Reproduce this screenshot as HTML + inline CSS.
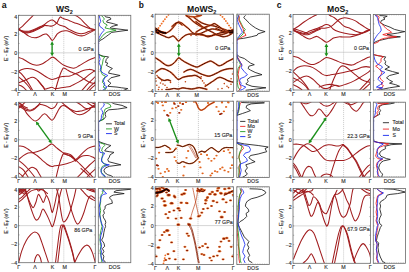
<!DOCTYPE html>
<html><head><meta charset="utf-8"><style>
html,body{margin:0;padding:0;background:#fff;width:409px;height:272px;overflow:hidden}
svg{display:block}
text{font-family:"Liberation Sans", sans-serif}
.t{stroke:#2a2a2a;stroke-width:0.12}
</style></head><body>
<svg xmlns="http://www.w3.org/2000/svg" width="409" height="272" viewBox="0 0 409 272">
<defs><clipPath id="ca0"><rect x="18.4" y="15.3" width="76.90" height="75.10"/></clipPath>
<clipPath id="ca1"><rect x="18.4" y="102.3" width="76.90" height="74.90"/></clipPath>
<clipPath id="ca2"><rect x="18.4" y="188.6" width="76.90" height="74.20"/></clipPath>
<clipPath id="cb0"><rect x="155.1" y="14.2" width="78.40" height="77.10"/></clipPath>
<clipPath id="cb1"><rect x="155.1" y="101.2" width="78.40" height="76.30"/></clipPath>
<clipPath id="cb2"><rect x="155.1" y="186.8" width="78.40" height="77.60"/></clipPath>
<clipPath id="cc0"><rect x="293.0" y="14.5" width="77.20" height="75.50"/></clipPath>
<clipPath id="cc1"><rect x="293.0" y="102.2" width="77.20" height="74.90"/></clipPath>
<clipPath id="cc2"><rect x="293.0" y="188.5" width="77.20" height="74.80"/></clipPath>
<clipPath id="da0"><rect x="98.3" y="15.3" width="32.50" height="75.10"/></clipPath>
<clipPath id="da1"><rect x="98.3" y="102.3" width="32.50" height="74.90"/></clipPath>
<clipPath id="da2"><rect x="98.3" y="188.6" width="32.50" height="74.10"/></clipPath>
<clipPath id="db0"><rect x="236.8" y="14.2" width="32.50" height="77.10"/></clipPath>
<clipPath id="db1"><rect x="236.8" y="101.2" width="32.50" height="76.30"/></clipPath>
<clipPath id="db2"><rect x="236.8" y="186.8" width="32.50" height="77.60"/></clipPath>
<clipPath id="dc0"><rect x="373.2" y="14.5" width="32.30" height="75.50"/></clipPath>
<clipPath id="dc1"><rect x="373.2" y="102.2" width="32.30" height="74.90"/></clipPath>
<clipPath id="dc2"><rect x="373.2" y="188.5" width="32.30" height="74.80"/></clipPath></defs>
<rect width="409" height="272" fill="#fff"/>
<text x="4.15" y="7.8" font-size="8.8" text-anchor="middle" font-weight="bold" fill="#111" >a</text>
<text x="141.2" y="7.7" font-size="8.4" text-anchor="middle" font-weight="bold" fill="#111" >b</text>
<text x="279.15" y="8.1" font-size="8.6" text-anchor="middle" font-weight="bold" fill="#111" >c</text>
<text x="56.0" y="12.0" font-size="8.6" font-weight="bold" fill="#111" text-anchor="start">WS<tspan font-size="5.5" dy="1.8">2</tspan></text>
<text x="187.0" y="12.0" font-size="8.6" font-weight="bold" fill="#111" text-anchor="start">MoWS<tspan font-size="5.5" dy="1.8">2</tspan></text>
<text x="327.0" y="12.0" font-size="8.6" font-weight="bold" fill="#111" text-anchor="start">MoS<tspan font-size="5.5" dy="1.8">2</tspan></text>
<line x1="18.4" y1="52.85" x2="95.3" y2="52.85" stroke="#d6d6d6" stroke-width="1.0"/>
<line x1="52.3" y1="15.3" x2="52.3" y2="90.4" stroke="#b4b4b4" stroke-width="0.8" stroke-dasharray="0.9 1.1"/>
<line x1="63.8" y1="15.3" x2="63.8" y2="90.4" stroke="#b4b4b4" stroke-width="0.8" stroke-dasharray="0.9 1.1"/>
<g clip-path="url(#ca0)"><path d="M18.50,29.30C19.23,28.72 21.32,27.25 22.90,25.80C24.48,24.35 26.48,22.13 28.00,20.60C29.52,19.07 30.92,17.67 32.00,16.60C33.08,15.53 34.08,14.60 34.50,14.20" fill="none" stroke="#a11d1f" stroke-width="1.05" stroke-linecap="round" stroke-linejoin="round"/>
<path d="M18.50,29.30C19.23,29.72 21.18,30.67 22.90,31.80C24.62,32.93 26.85,35.10 28.80,36.10C30.75,37.10 32.88,37.68 34.60,37.80C36.32,37.92 37.62,37.33 39.10,36.80C40.58,36.27 42.28,35.07 43.50,34.60C44.72,34.13 45.42,33.63 46.40,34.00C47.38,34.37 48.42,35.73 49.40,36.80C50.38,37.87 51.33,40.37 52.30,40.40C53.27,40.43 54.32,38.13 55.20,37.00C56.08,35.87 56.50,34.57 57.60,33.60C58.70,32.63 60.33,31.67 61.80,31.20C63.27,30.73 65.03,30.70 66.40,30.80C67.77,30.90 68.23,31.10 70.00,31.80C71.77,32.50 74.85,34.33 77.00,35.00C79.15,35.67 80.93,36.12 82.90,35.80C84.87,35.48 86.73,34.10 88.80,33.10C90.87,32.10 94.22,30.35 95.30,29.80" fill="none" stroke="#a11d1f" stroke-width="1.05" stroke-linecap="round" stroke-linejoin="round"/>
<path d="M18.50,29.30C19.23,29.57 21.18,30.58 22.90,30.90C24.62,31.22 26.85,31.48 28.80,31.20C30.75,30.92 32.65,29.98 34.60,29.20C36.55,28.42 38.90,27.23 40.50,26.50C42.10,25.77 42.97,25.58 44.20,24.80C45.43,24.02 46.55,22.60 47.90,21.80C49.25,21.00 50.83,19.77 52.30,20.00C53.77,20.23 55.42,22.33 56.70,23.20C57.98,24.07 58.70,24.63 60.00,25.20C61.30,25.77 62.92,25.87 64.50,26.60C66.08,27.33 67.42,28.52 69.50,29.60C71.58,30.68 74.77,32.43 77.00,33.10C79.23,33.77 80.93,33.85 82.90,33.60C84.87,33.35 86.73,32.28 88.80,31.60C90.87,30.92 94.22,29.85 95.30,29.50" fill="none" stroke="#a11d1f" stroke-width="1.05" stroke-linecap="round" stroke-linejoin="round"/>
<path d="M18.50,29.30C19.23,29.68 21.18,31.15 22.90,31.60C24.62,32.05 26.85,32.27 28.80,32.00C30.75,31.73 32.65,30.80 34.60,30.00C36.55,29.20 38.90,27.95 40.50,27.20C42.10,26.45 42.92,25.73 44.20,25.50C45.48,25.27 46.85,25.72 48.20,25.80C49.55,25.88 50.88,26.43 52.30,26.00C53.72,25.57 55.62,24.37 56.70,23.20C57.78,22.03 58.18,20.05 58.80,19.00C59.42,17.95 59.87,17.08 60.40,16.90C60.93,16.72 61.32,17.55 62.00,17.90C62.68,18.25 63.32,18.58 64.50,19.00C65.68,19.42 67.68,19.85 69.10,20.40C70.52,20.95 71.68,21.77 73.00,22.30C74.32,22.83 75.10,22.90 77.00,23.60C78.90,24.30 82.07,25.58 84.40,26.50C86.73,27.42 89.18,28.60 91.00,29.10C92.82,29.60 94.58,29.43 95.30,29.50" fill="none" stroke="#a11d1f" stroke-width="1.05" stroke-linecap="round" stroke-linejoin="round"/>
<path d="M18.50,29.30C19.23,29.78 21.18,31.62 22.90,32.20C24.62,32.78 26.85,33.03 28.80,32.80C30.75,32.57 32.65,31.62 34.60,30.80C36.55,29.98 38.90,28.73 40.50,27.90C42.10,27.07 43.58,26.15 44.20,25.80" fill="none" stroke="#a11d1f" stroke-width="1.05" stroke-linecap="round" stroke-linejoin="round"/>
<path d="M69.50,13.80C70.52,14.08 73.85,14.73 75.60,15.50C77.35,16.27 78.53,17.18 80.00,18.40C81.47,19.62 82.93,21.33 84.40,22.80C85.87,24.27 87.57,26.15 88.80,27.20C90.03,28.25 90.72,28.72 91.80,29.10C92.88,29.48 94.72,29.43 95.30,29.50" fill="none" stroke="#a11d1f" stroke-width="1.05" stroke-linecap="round" stroke-linejoin="round"/>
<path d="M18.50,57.50C19.25,57.75 21.23,58.12 23.00,59.00C24.77,59.88 27.08,61.78 29.10,62.80C31.12,63.82 33.08,64.85 35.10,65.10C37.12,65.35 39.18,65.05 41.20,64.30C43.22,63.55 45.37,61.78 47.20,60.60C49.03,59.42 50.90,57.58 52.20,57.20C53.50,56.82 53.78,57.48 55.00,58.30C56.22,59.12 58.00,60.93 59.50,62.10C61.00,63.27 62.23,64.38 64.00,65.30C65.77,66.22 68.33,67.13 70.10,67.60C71.87,68.07 73.10,68.40 74.60,68.10C76.10,67.80 77.33,66.80 79.10,65.80C80.87,64.80 83.18,63.23 85.20,62.10C87.22,60.97 89.52,59.77 91.20,59.00C92.88,58.23 94.62,57.75 95.30,57.50" fill="none" stroke="#a11d1f" stroke-width="1.05" stroke-linecap="round" stroke-linejoin="round"/>
<path d="M18.50,71.40C19.08,71.08 20.60,69.98 22.00,69.50C23.40,69.02 25.25,68.58 26.90,68.50C28.55,68.42 30.23,68.58 31.90,69.00C33.57,69.42 35.25,70.17 36.90,71.00C38.55,71.83 39.97,72.85 41.80,74.00C43.63,75.15 46.22,77.00 47.90,77.90C49.58,78.80 50.57,79.32 51.90,79.40C53.23,79.48 54.57,78.82 55.90,78.40C57.23,77.98 58.58,77.23 59.90,76.90C61.22,76.57 62.12,76.57 63.80,76.40C65.48,76.23 68.38,76.20 70.00,75.90C71.62,75.60 71.98,75.22 73.50,74.60C75.02,73.98 77.35,72.93 79.10,72.20C80.85,71.47 82.35,70.67 84.00,70.20C85.65,69.73 87.67,69.47 89.00,69.40C90.33,69.33 90.95,69.47 92.00,69.80C93.05,70.13 94.75,71.13 95.30,71.40" fill="none" stroke="#a11d1f" stroke-width="1.05" stroke-linecap="round" stroke-linejoin="round"/>
<path d="M18.50,71.40C18.92,71.73 20.08,72.48 21.00,73.40C21.92,74.32 23.02,75.65 24.00,76.90C24.98,78.15 25.92,79.48 26.90,80.90C27.88,82.32 28.90,83.75 29.90,85.40C30.90,87.05 32.40,89.90 32.90,90.80" fill="none" stroke="#a11d1f" stroke-width="1.05" stroke-linecap="round" stroke-linejoin="round"/>
<path d="M18.50,76.90C18.92,77.23 20.08,78.15 21.00,78.90C21.92,79.65 23.02,80.48 24.00,81.40C24.98,82.32 26.08,83.50 26.90,84.40C27.72,85.30 28.12,85.73 28.90,86.80C29.68,87.87 31.15,90.13 31.60,90.80" fill="none" stroke="#a11d1f" stroke-width="1.05" stroke-linecap="round" stroke-linejoin="round"/>
<path d="M18.50,82.90C19.08,82.65 20.60,81.98 22.00,81.40C23.40,80.82 25.42,80.07 26.90,79.40C28.38,78.73 29.73,77.73 30.90,77.40C32.07,77.07 32.90,77.07 33.90,77.40C34.90,77.73 35.92,78.48 36.90,79.40C37.88,80.32 38.82,81.67 39.80,82.90C40.78,84.13 41.88,85.48 42.80,86.80C43.72,88.12 44.88,90.13 45.30,90.80" fill="none" stroke="#a11d1f" stroke-width="1.05" stroke-linecap="round" stroke-linejoin="round"/>
<path d="M18.50,84.90C18.92,85.05 20.08,85.32 21.00,85.80C21.92,86.28 23.02,86.97 24.00,87.80C24.98,88.63 26.42,90.30 26.90,90.80" fill="none" stroke="#a11d1f" stroke-width="1.05" stroke-linecap="round" stroke-linejoin="round"/>
<path d="M38.00,80.50C38.33,80.90 39.17,81.93 40.00,82.90C40.83,83.87 42.17,85.28 43.00,86.30C43.83,87.32 44.18,88.67 45.00,89.00C45.82,89.33 46.75,88.58 47.90,88.30C49.05,88.02 50.73,87.27 51.90,87.30C53.07,87.33 53.57,88.37 54.90,88.50C56.23,88.63 58.25,88.30 59.90,88.10C61.55,87.90 63.12,87.58 64.80,87.30C66.48,87.02 68.80,86.72 70.00,86.40C71.20,86.08 70.68,86.07 72.00,85.40C73.32,84.73 75.92,83.48 77.90,82.40C79.88,81.32 82.08,80.15 83.90,78.90C85.72,77.65 87.15,76.15 88.80,74.90C90.45,73.65 92.72,72.12 93.80,71.40C94.88,70.68 95.05,70.73 95.30,70.60" fill="none" stroke="#a11d1f" stroke-width="1.05" stroke-linecap="round" stroke-linejoin="round"/>
<path d="M55.20,90.80C55.67,89.17 57.07,84.00 58.00,81.00C58.93,78.00 60.03,74.82 60.80,72.80C61.57,70.78 62.13,69.68 62.60,68.90C63.07,68.12 63.12,68.12 63.60,68.10C64.08,68.08 64.77,68.43 65.50,68.80C66.23,69.17 67.08,69.77 68.00,70.30C68.92,70.83 69.52,71.35 71.00,72.00C72.48,72.65 75.25,73.38 76.90,74.20C78.55,75.02 79.73,76.12 80.90,76.90C82.07,77.68 82.58,78.07 83.90,78.90C85.22,79.73 86.90,81.07 88.80,81.90C90.70,82.73 94.22,83.57 95.30,83.90" fill="none" stroke="#a11d1f" stroke-width="1.05" stroke-linecap="round" stroke-linejoin="round"/>
<path d="M81.50,91.00C82.23,90.13 84.52,87.32 85.90,85.80C87.28,84.28 88.23,83.45 89.80,81.90C91.37,80.35 94.38,77.40 95.30,76.50" fill="none" stroke="#a11d1f" stroke-width="1.05" stroke-linecap="round" stroke-linejoin="round"/>
<path d="M86.20,91.00C86.80,90.30 88.28,88.30 89.80,86.80C91.32,85.30 94.38,82.80 95.30,82.00" fill="none" stroke="#a11d1f" stroke-width="1.05" stroke-linecap="round" stroke-linejoin="round"/>
<path d="M88.80,91.00C89.30,90.47 90.72,88.80 91.80,87.80C92.88,86.80 94.72,85.47 95.30,85.00" fill="none" stroke="#a11d1f" stroke-width="1.05" stroke-linecap="round" stroke-linejoin="round"/></g>
<g clip-path="url(#da0)"><path d="M104.40,15.60 L105.80,16.90 L110.20,17.70 L111.00,19.10 L107.30,20.60 L106.60,22.10 L113.20,23.60 L117.60,25.00 L111.70,26.50 L110.20,28.00 L127.90,30.20 L111.70,32.40 L108.80,34.60 L105.80,36.80 L102.90,39.00 L99.90,40.50 L98.80,41.90" fill="none" stroke="#1a1a1a" stroke-width="0.85" stroke-linejoin="round" stroke-linecap="round"/>
<path d="M98.90,54.60 L103.20,56.20 L108.60,56.90 L106.30,59.30 L105.50,62.40 L107.80,63.10 L106.30,65.40 L112.40,68.50 L109.30,70.80 L108.60,73.20 L112.40,73.90 L120.10,75.50 L110.90,77.80 L107.80,80.90 L110.90,83.20 L109.30,84.70 L107.80,86.30 L117.00,87.10 L121.70,87.80 L127.80,88.60 L124.00,90.20" fill="none" stroke="#1a1a1a" stroke-width="0.85" stroke-linejoin="round" stroke-linecap="round"/>
<path d="M101.40,15.60 L103.60,17.70 L104.40,19.10 L102.90,20.60 L103.60,22.80 L107.30,25.00 L105.80,26.50 L105.10,28.00 L116.10,30.20 L106.60,32.40 L102.90,35.30 L100.70,38.30 L98.80,40.50" fill="none" stroke="#1f9a1f" stroke-width="0.85" stroke-linejoin="round" stroke-linecap="round"/>
<path d="M98.90,54.60 L101.60,56.20 L104.70,56.90 L103.20,59.30 L102.40,63.90 L101.60,66.20 L100.90,71.60 L102.40,74.70 L105.50,76.20 L103.20,79.30 L102.40,82.40 L104.70,84.70 L103.20,87.10 L106.30,88.60 L104.00,90.20" fill="none" stroke="#1f9a1f" stroke-width="0.85" stroke-linejoin="round" stroke-linecap="round"/>
<path d="M99.20,15.60 L99.90,18.40 L100.70,21.40 L99.20,24.30 L99.90,26.50 L102.90,28.70 L104.40,30.20 L102.10,32.40 L100.70,34.60 L99.20,37.50 L98.60,40.50 L98.60,54.60" fill="none" stroke="#1a2cf0" stroke-width="0.85" stroke-linejoin="round" stroke-linecap="round"/>
<path d="M98.90,54.60 L99.30,56.20 L100.10,59.30 L98.90,62.40 L100.90,67.00 L100.10,70.10 L103.20,73.20 L107.80,75.50 L104.70,77.80 L103.20,80.90 L104.70,83.20 L103.90,84.70 L107.00,87.10 L104.70,88.60 L103.00,90.20" fill="none" stroke="#1a2cf0" stroke-width="0.85" stroke-linejoin="round" stroke-linecap="round"/></g>
<rect x="18.4" y="15.3" width="76.90" height="75.10" fill="none" stroke="#6a6a6a" stroke-width="0.8"/>
<rect x="98.3" y="15.3" width="32.50" height="75.10" fill="none" stroke="#6a6a6a" stroke-width="0.8"/>
<line x1="18.4" y1="15.30" x2="19.599999999999998" y2="15.30" stroke="#6a6a6a" stroke-width="0.5"/>
<line x1="95.3" y1="15.30" x2="94.1" y2="15.30" stroke="#6a6a6a" stroke-width="0.5"/>
<line x1="98.3" y1="15.30" x2="99.5" y2="15.30" stroke="#6a6a6a" stroke-width="0.5"/>
<line x1="18.4" y1="24.69" x2="19.599999999999998" y2="24.69" stroke="#6a6a6a" stroke-width="0.5"/>
<line x1="95.3" y1="24.69" x2="94.1" y2="24.69" stroke="#6a6a6a" stroke-width="0.5"/>
<line x1="98.3" y1="24.69" x2="99.5" y2="24.69" stroke="#6a6a6a" stroke-width="0.5"/>
<line x1="18.4" y1="34.08" x2="19.599999999999998" y2="34.08" stroke="#6a6a6a" stroke-width="0.5"/>
<line x1="95.3" y1="34.08" x2="94.1" y2="34.08" stroke="#6a6a6a" stroke-width="0.5"/>
<line x1="98.3" y1="34.08" x2="99.5" y2="34.08" stroke="#6a6a6a" stroke-width="0.5"/>
<line x1="18.4" y1="43.46" x2="19.599999999999998" y2="43.46" stroke="#6a6a6a" stroke-width="0.5"/>
<line x1="95.3" y1="43.46" x2="94.1" y2="43.46" stroke="#6a6a6a" stroke-width="0.5"/>
<line x1="98.3" y1="43.46" x2="99.5" y2="43.46" stroke="#6a6a6a" stroke-width="0.5"/>
<line x1="18.4" y1="52.85" x2="19.599999999999998" y2="52.85" stroke="#6a6a6a" stroke-width="0.5"/>
<line x1="95.3" y1="52.85" x2="94.1" y2="52.85" stroke="#6a6a6a" stroke-width="0.5"/>
<line x1="98.3" y1="52.85" x2="99.5" y2="52.85" stroke="#6a6a6a" stroke-width="0.5"/>
<line x1="18.4" y1="62.24" x2="19.599999999999998" y2="62.24" stroke="#6a6a6a" stroke-width="0.5"/>
<line x1="95.3" y1="62.24" x2="94.1" y2="62.24" stroke="#6a6a6a" stroke-width="0.5"/>
<line x1="98.3" y1="62.24" x2="99.5" y2="62.24" stroke="#6a6a6a" stroke-width="0.5"/>
<line x1="18.4" y1="71.62" x2="19.599999999999998" y2="71.62" stroke="#6a6a6a" stroke-width="0.5"/>
<line x1="95.3" y1="71.62" x2="94.1" y2="71.62" stroke="#6a6a6a" stroke-width="0.5"/>
<line x1="98.3" y1="71.62" x2="99.5" y2="71.62" stroke="#6a6a6a" stroke-width="0.5"/>
<line x1="18.4" y1="81.01" x2="19.599999999999998" y2="81.01" stroke="#6a6a6a" stroke-width="0.5"/>
<line x1="95.3" y1="81.01" x2="94.1" y2="81.01" stroke="#6a6a6a" stroke-width="0.5"/>
<line x1="98.3" y1="81.01" x2="99.5" y2="81.01" stroke="#6a6a6a" stroke-width="0.5"/>
<line x1="18.4" y1="90.40" x2="19.599999999999998" y2="90.40" stroke="#6a6a6a" stroke-width="0.5"/>
<line x1="95.3" y1="90.40" x2="94.1" y2="90.40" stroke="#6a6a6a" stroke-width="0.5"/>
<line x1="98.3" y1="90.40" x2="99.5" y2="90.40" stroke="#6a6a6a" stroke-width="0.5"/>
<text x="17.099999999999998" y="18.8" font-size="5.3" text-anchor="end" font-weight="normal" fill="#2a2a2a" class="t" >4</text>
<text x="17.099999999999998" y="35.975" font-size="5.3" text-anchor="end" font-weight="normal" fill="#2a2a2a" class="t" >2</text>
<text x="17.099999999999998" y="54.75000000000001" font-size="5.3" text-anchor="end" font-weight="normal" fill="#2a2a2a" class="t" >0</text>
<text x="17.099999999999998" y="73.525" font-size="5.3" text-anchor="end" font-weight="normal" fill="#2a2a2a" class="t" >&#8211;2</text>
<text x="17.099999999999998" y="92.30000000000001" font-size="5.3" text-anchor="end" font-weight="normal" fill="#2a2a2a" class="t" >&#8211;4</text>
<text transform="translate(8.00,48.35) rotate(-90)" font-size="5.2" text-anchor="middle" fill="#2a2a2a" class="t">E - E<tspan font-size="3.8" dy="1.2">F</tspan><tspan dy="-1.2"> (eV)</tspan></text>
<text x="18.799999999999997" y="96.2" font-size="5.3" text-anchor="middle" font-weight="normal" fill="#2a2a2a" class="t" >&#915;</text>
<text x="34.9" y="96.2" font-size="5.3" text-anchor="middle" font-weight="normal" fill="#2a2a2a" class="t" >&#923;</text>
<text x="52.5" y="96.2" font-size="5.3" text-anchor="middle" font-weight="normal" fill="#2a2a2a" class="t" >K</text>
<text x="64.7" y="96.2" font-size="5.3" text-anchor="middle" font-weight="normal" fill="#2a2a2a" class="t" >M</text>
<text x="95.0" y="96.2" font-size="5.3" text-anchor="middle" font-weight="normal" fill="#2a2a2a" class="t" >&#915;</text>
<text x="114.55000000000001" y="96.2" font-size="5.3" text-anchor="middle" font-weight="normal" fill="#2a2a2a" class="t" >DOS</text>
<line x1="100.62" y1="15.3" x2="100.62" y2="16.2" stroke="#6a6a6a" stroke-width="0.4"/>
<line x1="100.62" y1="90.4" x2="100.62" y2="89.5" stroke="#6a6a6a" stroke-width="0.4"/>
<line x1="102.94" y1="15.3" x2="102.94" y2="16.2" stroke="#6a6a6a" stroke-width="0.4"/>
<line x1="102.94" y1="90.4" x2="102.94" y2="89.5" stroke="#6a6a6a" stroke-width="0.4"/>
<line x1="105.26" y1="15.3" x2="105.26" y2="16.2" stroke="#6a6a6a" stroke-width="0.4"/>
<line x1="105.26" y1="90.4" x2="105.26" y2="89.5" stroke="#6a6a6a" stroke-width="0.4"/>
<line x1="107.59" y1="15.3" x2="107.59" y2="16.2" stroke="#6a6a6a" stroke-width="0.4"/>
<line x1="107.59" y1="90.4" x2="107.59" y2="89.5" stroke="#6a6a6a" stroke-width="0.4"/>
<line x1="109.91" y1="15.3" x2="109.91" y2="16.2" stroke="#6a6a6a" stroke-width="0.4"/>
<line x1="109.91" y1="90.4" x2="109.91" y2="89.5" stroke="#6a6a6a" stroke-width="0.4"/>
<line x1="112.23" y1="15.3" x2="112.23" y2="16.2" stroke="#6a6a6a" stroke-width="0.4"/>
<line x1="112.23" y1="90.4" x2="112.23" y2="89.5" stroke="#6a6a6a" stroke-width="0.4"/>
<line x1="114.55" y1="15.3" x2="114.55" y2="16.2" stroke="#6a6a6a" stroke-width="0.4"/>
<line x1="114.55" y1="90.4" x2="114.55" y2="89.5" stroke="#6a6a6a" stroke-width="0.4"/>
<line x1="116.87" y1="15.3" x2="116.87" y2="16.2" stroke="#6a6a6a" stroke-width="0.4"/>
<line x1="116.87" y1="90.4" x2="116.87" y2="89.5" stroke="#6a6a6a" stroke-width="0.4"/>
<line x1="119.19" y1="15.3" x2="119.19" y2="16.2" stroke="#6a6a6a" stroke-width="0.4"/>
<line x1="119.19" y1="90.4" x2="119.19" y2="89.5" stroke="#6a6a6a" stroke-width="0.4"/>
<line x1="121.51" y1="15.3" x2="121.51" y2="16.2" stroke="#6a6a6a" stroke-width="0.4"/>
<line x1="121.51" y1="90.4" x2="121.51" y2="89.5" stroke="#6a6a6a" stroke-width="0.4"/>
<line x1="123.84" y1="15.3" x2="123.84" y2="16.2" stroke="#6a6a6a" stroke-width="0.4"/>
<line x1="123.84" y1="90.4" x2="123.84" y2="89.5" stroke="#6a6a6a" stroke-width="0.4"/>
<line x1="126.16" y1="15.3" x2="126.16" y2="16.2" stroke="#6a6a6a" stroke-width="0.4"/>
<line x1="126.16" y1="90.4" x2="126.16" y2="89.5" stroke="#6a6a6a" stroke-width="0.4"/>
<line x1="128.48" y1="15.3" x2="128.48" y2="16.2" stroke="#6a6a6a" stroke-width="0.4"/>
<line x1="128.48" y1="90.4" x2="128.48" y2="89.5" stroke="#6a6a6a" stroke-width="0.4"/>
<text x="93.6" y="50.6" font-size="5.3" text-anchor="end" font-weight="normal" fill="#2a2a2a" class="t" >0 GPa</text>
<line x1="18.4" y1="139.75" x2="95.3" y2="139.75" stroke="#d6d6d6" stroke-width="1.0"/>
<line x1="52.3" y1="102.3" x2="52.3" y2="177.2" stroke="#b4b4b4" stroke-width="0.8" stroke-dasharray="0.9 1.1"/>
<line x1="63.8" y1="102.3" x2="63.8" y2="177.2" stroke="#b4b4b4" stroke-width="0.8" stroke-dasharray="0.9 1.1"/>
<g clip-path="url(#ca1)"><path d="M18.50,102.80C19.02,103.18 20.62,104.02 21.60,105.10C22.58,106.18 23.48,107.83 24.40,109.30C25.32,110.77 26.03,112.45 27.10,113.90C28.17,115.35 29.73,116.93 30.80,118.00C31.87,119.07 32.68,119.82 33.50,120.30C34.32,120.78 34.82,121.10 35.70,120.90C36.58,120.70 37.77,119.98 38.80,119.10C39.83,118.22 40.93,116.48 41.90,115.60C42.87,114.72 43.72,113.80 44.60,113.80C45.48,113.80 46.32,114.78 47.20,115.60C48.08,116.42 49.13,117.93 49.90,118.70C50.67,119.47 51.15,120.20 51.80,120.20C52.45,120.20 53.02,119.77 53.80,118.70C54.58,117.63 55.68,115.33 56.50,113.80C57.32,112.27 57.95,110.72 58.70,109.50C59.45,108.28 60.23,107.18 61.00,106.50C61.77,105.82 62.47,105.40 63.30,105.40C64.13,105.40 64.82,105.77 66.00,106.50C67.18,107.23 68.93,108.70 70.40,109.80C71.87,110.90 73.32,112.27 74.80,113.10C76.28,113.93 77.82,114.70 79.30,114.80C80.78,114.90 82.23,114.35 83.70,113.70C85.17,113.05 86.82,111.92 88.10,110.90C89.38,109.88 90.20,108.70 91.40,107.60C92.60,106.50 94.65,104.85 95.30,104.30" fill="none" stroke="#a11d1f" stroke-width="1.05" stroke-linecap="round" stroke-linejoin="round"/>
<path d="M18.50,104.50C19.08,104.83 20.83,105.78 22.00,106.50C23.17,107.22 24.17,108.18 25.50,108.80C26.83,109.42 28.67,110.20 30.00,110.20C31.33,110.20 32.32,109.45 33.50,108.80C34.68,108.15 35.98,107.02 37.10,106.30C38.22,105.58 39.18,104.72 40.20,104.50C41.22,104.28 42.10,104.70 43.20,105.00C44.30,105.30 45.68,105.78 46.80,106.30C47.92,106.82 49.02,107.72 49.90,108.10C50.78,108.48 51.30,108.75 52.10,108.60C52.90,108.45 53.97,107.88 54.70,107.20C55.43,106.52 56.02,105.37 56.50,104.50C56.98,103.63 57.42,102.42 57.60,102.00" fill="none" stroke="#a11d1f" stroke-width="1.05" stroke-linecap="round" stroke-linejoin="round"/>
<path d="M18.50,106.00C19.08,106.33 20.83,107.30 22.00,108.00C23.17,108.70 24.17,109.72 25.50,110.20C26.83,110.68 28.67,110.97 30.00,110.90C31.33,110.83 32.40,110.42 33.50,109.80C34.60,109.18 35.72,108.08 36.60,107.20C37.48,106.32 38.10,105.37 38.80,104.50C39.50,103.63 40.47,102.42 40.80,102.00" fill="none" stroke="#a11d1f" stroke-width="1.05" stroke-linecap="round" stroke-linejoin="round"/>
<path d="M18.50,102.60C19.05,102.92 20.80,103.80 21.80,104.50C22.80,105.20 23.55,106.22 24.50,106.80C25.45,107.38 27.00,107.80 27.50,108.00" fill="none" stroke="#a11d1f" stroke-width="1.05" stroke-linecap="round" stroke-linejoin="round"/>
<path d="M18.50,108.50C19.00,108.08 20.67,106.78 21.50,106.00C22.33,105.22 22.92,104.43 23.50,103.80C24.08,103.17 24.75,102.47 25.00,102.20" fill="none" stroke="#a11d1f" stroke-width="1.05" stroke-linecap="round" stroke-linejoin="round"/>
<path d="M61.60,102.10C62.33,102.75 64.53,104.80 66.00,106.00C67.47,107.20 68.73,108.38 70.40,109.30C72.07,110.22 74.15,111.23 76.00,111.50C77.85,111.77 79.67,111.27 81.50,110.90C83.33,110.53 85.35,109.85 87.00,109.30C88.65,108.75 90.02,108.07 91.40,107.60C92.78,107.13 94.65,106.68 95.30,106.50" fill="none" stroke="#a11d1f" stroke-width="1.05" stroke-linecap="round" stroke-linejoin="round"/>
<path d="M76.50,102.10C77.33,102.65 80.12,104.42 81.50,105.40C82.88,106.38 83.63,107.48 84.80,108.00C85.97,108.52 87.30,108.67 88.50,108.50C89.70,108.33 90.87,107.52 92.00,107.00C93.13,106.48 94.75,105.67 95.30,105.40" fill="none" stroke="#a11d1f" stroke-width="1.05" stroke-linecap="round" stroke-linejoin="round"/>
<path d="M86.50,102.10C87.08,102.50 88.92,103.80 90.00,104.50C91.08,105.20 92.12,105.82 93.00,106.30C93.88,106.78 94.92,107.22 95.30,107.40" fill="none" stroke="#a11d1f" stroke-width="1.05" stroke-linecap="round" stroke-linejoin="round"/>
<path d="M90.50,102.10C90.92,102.30 92.20,102.98 93.00,103.30C93.80,103.62 94.92,103.88 95.30,104.00" fill="none" stroke="#a11d1f" stroke-width="1.05" stroke-linecap="round" stroke-linejoin="round"/>
<path d="M18.60,146.10C19.38,146.15 21.72,145.88 23.30,146.40C24.88,146.92 26.52,148.15 28.10,149.20C29.68,150.25 31.22,151.57 32.80,152.70C34.38,153.83 36.02,154.73 37.60,156.00C39.18,157.27 40.73,158.93 42.30,160.30C43.87,161.67 45.42,163.15 47.00,164.20C48.58,165.25 50.52,166.33 51.80,166.60C53.08,166.87 53.15,166.07 54.70,165.80C56.25,165.53 58.98,165.38 61.10,165.00C63.22,164.62 65.30,164.15 67.40,163.50C69.50,162.85 71.85,162.17 73.70,161.10C75.55,160.03 76.92,158.55 78.50,157.10C80.08,155.65 81.63,153.85 83.20,152.40C84.77,150.95 86.32,149.40 87.90,148.40C89.48,147.40 91.47,146.78 92.70,146.40C93.93,146.02 94.87,146.15 95.30,146.10" fill="none" stroke="#a11d1f" stroke-width="1.05" stroke-linecap="round" stroke-linejoin="round"/>
<path d="M18.60,159.50C19.38,158.85 21.72,156.68 23.30,155.60C24.88,154.52 26.52,153.48 28.10,153.00C29.68,152.52 31.22,152.95 32.80,152.70C34.38,152.45 36.02,151.98 37.60,151.50C39.18,151.02 40.73,150.55 42.30,149.80C43.87,149.05 45.42,147.98 47.00,147.00C48.58,146.02 50.25,143.80 51.80,143.90C53.35,144.00 54.50,146.18 56.30,147.60C58.10,149.02 60.75,151.20 62.60,152.40C64.45,153.60 65.82,154.02 67.40,154.80C68.98,155.58 70.65,156.18 72.10,157.10C73.55,158.02 74.78,159.12 76.10,160.30C77.42,161.48 78.55,162.75 80.00,164.20C81.45,165.65 83.22,167.42 84.80,169.00C86.38,170.58 88.10,172.28 89.50,173.70C90.90,175.12 92.58,176.87 93.20,177.50" fill="none" stroke="#a11d1f" stroke-width="1.05" stroke-linecap="round" stroke-linejoin="round"/>
<path d="M18.60,160.30C19.38,160.95 21.72,162.75 23.30,164.20C24.88,165.65 26.52,167.28 28.10,169.00C29.68,170.72 31.62,173.03 32.80,174.50C33.98,175.97 34.80,177.25 35.20,177.80" fill="none" stroke="#a11d1f" stroke-width="1.05" stroke-linecap="round" stroke-linejoin="round"/>
<path d="M18.60,166.60C19.38,167.13 21.98,168.48 23.30,169.80C24.62,171.12 25.62,173.17 26.50,174.50C27.38,175.83 28.25,177.25 28.60,177.80" fill="none" stroke="#a11d1f" stroke-width="1.05" stroke-linecap="round" stroke-linejoin="round"/>
<path d="M21.40,177.80C22.25,176.73 24.87,173.13 26.50,171.40C28.13,169.67 29.62,167.80 31.20,167.40C32.78,167.00 34.68,167.95 36.00,169.00C37.32,170.05 38.18,172.23 39.10,173.70C40.02,175.17 41.10,177.12 41.50,177.80" fill="none" stroke="#a11d1f" stroke-width="1.05" stroke-linecap="round" stroke-linejoin="round"/>
<path d="M18.60,173.00C19.12,173.38 20.83,174.50 21.70,175.30C22.57,176.10 23.45,177.38 23.80,177.80" fill="none" stroke="#a11d1f" stroke-width="1.05" stroke-linecap="round" stroke-linejoin="round"/>
<path d="M56.00,177.80C56.45,175.93 57.85,169.78 58.70,166.60C59.55,163.42 60.32,160.87 61.10,158.70C61.88,156.53 62.62,154.52 63.40,153.60C64.18,152.68 64.60,153.00 65.80,153.20C67.00,153.40 68.88,153.62 70.60,154.80C72.32,155.98 75.18,159.38 76.10,160.30" fill="none" stroke="#a11d1f" stroke-width="1.05" stroke-linecap="round" stroke-linejoin="round"/>
<path d="M63.60,153.80C64.00,153.93 64.83,154.20 66.00,154.60C67.17,155.00 69.02,155.20 70.60,156.20C72.18,157.20 74.68,159.87 75.50,160.60" fill="none" stroke="#a11d1f" stroke-width="1.05" stroke-linecap="round" stroke-linejoin="round"/>
<path d="M75.30,161.10C76.35,160.30 79.50,157.22 81.60,156.30C83.70,155.38 86.05,155.47 87.90,155.60C89.75,155.73 91.47,156.57 92.70,157.10C93.93,157.63 94.87,158.52 95.30,158.80" fill="none" stroke="#a11d1f" stroke-width="1.05" stroke-linecap="round" stroke-linejoin="round"/>
<path d="M76.90,177.80C77.95,176.73 81.10,173.53 83.20,171.40C85.30,169.27 87.48,166.93 89.50,165.00C91.52,163.07 94.33,160.67 95.30,159.80" fill="none" stroke="#a11d1f" stroke-width="1.05" stroke-linecap="round" stroke-linejoin="round"/>
<path d="M86.40,177.80C87.18,176.98 89.62,174.33 91.10,172.90C92.58,171.47 94.60,169.82 95.30,169.20" fill="none" stroke="#a11d1f" stroke-width="1.05" stroke-linecap="round" stroke-linejoin="round"/>
<path d="M81.00,168.50C81.58,169.00 83.25,170.33 84.50,171.50C85.75,172.67 87.50,174.45 88.50,175.50C89.50,176.55 90.17,177.42 90.50,177.80" fill="none" stroke="#a11d1f" stroke-width="1.05" stroke-linecap="round" stroke-linejoin="round"/></g>
<g clip-path="url(#da1)"><path d="M111.70,102.50 L114.60,103.90 L122.00,105.40 L127.10,107.60 L117.60,109.10 L108.80,109.80 L105.80,112.00 L105.10,114.20 L105.80,116.40 L104.40,118.60 L99.90,120.90 L99.20,121.60" fill="none" stroke="#1a1a1a" stroke-width="0.85" stroke-linejoin="round" stroke-linecap="round"/>
<path d="M98.90,141.60 L103.20,143.20 L107.80,144.70 L110.90,145.50 L106.30,148.60 L104.70,150.90 L109.30,151.70 L114.00,152.40 L110.10,154.80 L109.30,157.10 L107.80,159.40 L108.60,161.70 L120.90,164.80 L109.30,166.30 L105.50,167.90 L103.90,170.20 L104.70,172.50 L107.80,174.80 L110.90,175.60 L113.00,177.00" fill="none" stroke="#1a1a1a" stroke-width="0.85" stroke-linejoin="round" stroke-linecap="round"/>
<path d="M104.40,102.50 L107.30,103.20 L110.20,104.70 L111.00,106.90 L108.80,107.60 L105.10,109.10 L104.40,111.30 L103.60,114.20 L102.90,117.20 L103.60,119.40 L99.90,120.90" fill="none" stroke="#1f9a1f" stroke-width="0.85" stroke-linejoin="round" stroke-linecap="round"/>
<path d="M98.90,141.60 L100.90,143.20 L103.90,143.90 L104.70,145.50 L102.40,147.80 L101.60,150.90 L103.20,152.40 L102.40,155.50 L101.60,160.20 L103.20,163.30 L107.00,164.80 L102.40,166.30 L100.90,169.40 L101.60,172.50 L103.90,174.80 L104.50,177.00" fill="none" stroke="#1f9a1f" stroke-width="0.85" stroke-linejoin="round" stroke-linecap="round"/>
<path d="M102.90,102.50 L104.40,103.90 L103.60,106.10 L102.10,107.60 L100.70,109.10 L102.10,110.60 L102.90,112.80 L101.40,115.70 L101.40,117.90 L100.70,120.10 L98.60,121.60 L98.60,141.60" fill="none" stroke="#1a2cf0" stroke-width="0.85" stroke-linejoin="round" stroke-linecap="round"/>
<path d="M98.90,141.60 L99.30,144.70 L100.10,147.80 L99.30,150.10 L100.10,152.40 L104.70,153.20 L103.20,155.50 L101.60,158.60 L101.60,161.70 L104.70,164.00 L109.30,164.80 L104.70,166.30 L101.60,168.70 L100.90,171.70 L102.40,174.80 L104.70,175.60 L105.50,177.00" fill="none" stroke="#1a2cf0" stroke-width="0.85" stroke-linejoin="round" stroke-linecap="round"/></g>
<rect x="18.4" y="102.3" width="76.90" height="74.90" fill="none" stroke="#6a6a6a" stroke-width="0.8"/>
<rect x="98.3" y="102.3" width="32.50" height="74.90" fill="none" stroke="#6a6a6a" stroke-width="0.8"/>
<line x1="18.4" y1="102.30" x2="19.599999999999998" y2="102.30" stroke="#6a6a6a" stroke-width="0.5"/>
<line x1="95.3" y1="102.30" x2="94.1" y2="102.30" stroke="#6a6a6a" stroke-width="0.5"/>
<line x1="98.3" y1="102.30" x2="99.5" y2="102.30" stroke="#6a6a6a" stroke-width="0.5"/>
<line x1="18.4" y1="111.66" x2="19.599999999999998" y2="111.66" stroke="#6a6a6a" stroke-width="0.5"/>
<line x1="95.3" y1="111.66" x2="94.1" y2="111.66" stroke="#6a6a6a" stroke-width="0.5"/>
<line x1="98.3" y1="111.66" x2="99.5" y2="111.66" stroke="#6a6a6a" stroke-width="0.5"/>
<line x1="18.4" y1="121.02" x2="19.599999999999998" y2="121.02" stroke="#6a6a6a" stroke-width="0.5"/>
<line x1="95.3" y1="121.02" x2="94.1" y2="121.02" stroke="#6a6a6a" stroke-width="0.5"/>
<line x1="98.3" y1="121.02" x2="99.5" y2="121.02" stroke="#6a6a6a" stroke-width="0.5"/>
<line x1="18.4" y1="130.39" x2="19.599999999999998" y2="130.39" stroke="#6a6a6a" stroke-width="0.5"/>
<line x1="95.3" y1="130.39" x2="94.1" y2="130.39" stroke="#6a6a6a" stroke-width="0.5"/>
<line x1="98.3" y1="130.39" x2="99.5" y2="130.39" stroke="#6a6a6a" stroke-width="0.5"/>
<line x1="18.4" y1="139.75" x2="19.599999999999998" y2="139.75" stroke="#6a6a6a" stroke-width="0.5"/>
<line x1="95.3" y1="139.75" x2="94.1" y2="139.75" stroke="#6a6a6a" stroke-width="0.5"/>
<line x1="98.3" y1="139.75" x2="99.5" y2="139.75" stroke="#6a6a6a" stroke-width="0.5"/>
<line x1="18.4" y1="149.11" x2="19.599999999999998" y2="149.11" stroke="#6a6a6a" stroke-width="0.5"/>
<line x1="95.3" y1="149.11" x2="94.1" y2="149.11" stroke="#6a6a6a" stroke-width="0.5"/>
<line x1="98.3" y1="149.11" x2="99.5" y2="149.11" stroke="#6a6a6a" stroke-width="0.5"/>
<line x1="18.4" y1="158.47" x2="19.599999999999998" y2="158.47" stroke="#6a6a6a" stroke-width="0.5"/>
<line x1="95.3" y1="158.47" x2="94.1" y2="158.47" stroke="#6a6a6a" stroke-width="0.5"/>
<line x1="98.3" y1="158.47" x2="99.5" y2="158.47" stroke="#6a6a6a" stroke-width="0.5"/>
<line x1="18.4" y1="167.84" x2="19.599999999999998" y2="167.84" stroke="#6a6a6a" stroke-width="0.5"/>
<line x1="95.3" y1="167.84" x2="94.1" y2="167.84" stroke="#6a6a6a" stroke-width="0.5"/>
<line x1="98.3" y1="167.84" x2="99.5" y2="167.84" stroke="#6a6a6a" stroke-width="0.5"/>
<line x1="18.4" y1="177.20" x2="19.599999999999998" y2="177.20" stroke="#6a6a6a" stroke-width="0.5"/>
<line x1="95.3" y1="177.20" x2="94.1" y2="177.20" stroke="#6a6a6a" stroke-width="0.5"/>
<line x1="98.3" y1="177.20" x2="99.5" y2="177.20" stroke="#6a6a6a" stroke-width="0.5"/>
<text x="17.099999999999998" y="105.8" font-size="5.3" text-anchor="end" font-weight="normal" fill="#2a2a2a" class="t" >4</text>
<text x="17.099999999999998" y="122.925" font-size="5.3" text-anchor="end" font-weight="normal" fill="#2a2a2a" class="t" >2</text>
<text x="17.099999999999998" y="141.65" font-size="5.3" text-anchor="end" font-weight="normal" fill="#2a2a2a" class="t" >0</text>
<text x="17.099999999999998" y="160.375" font-size="5.3" text-anchor="end" font-weight="normal" fill="#2a2a2a" class="t" >&#8211;2</text>
<text x="17.099999999999998" y="179.1" font-size="5.3" text-anchor="end" font-weight="normal" fill="#2a2a2a" class="t" >&#8211;4</text>
<text transform="translate(8.00,135.25) rotate(-90)" font-size="5.2" text-anchor="middle" fill="#2a2a2a" class="t">E - E<tspan font-size="3.8" dy="1.2">F</tspan><tspan dy="-1.2"> (eV)</tspan></text>
<text x="18.799999999999997" y="183.0" font-size="5.3" text-anchor="middle" font-weight="normal" fill="#2a2a2a" class="t" >&#915;</text>
<text x="34.9" y="183.0" font-size="5.3" text-anchor="middle" font-weight="normal" fill="#2a2a2a" class="t" >&#923;</text>
<text x="52.5" y="183.0" font-size="5.3" text-anchor="middle" font-weight="normal" fill="#2a2a2a" class="t" >K</text>
<text x="64.7" y="183.0" font-size="5.3" text-anchor="middle" font-weight="normal" fill="#2a2a2a" class="t" >M</text>
<text x="95.0" y="183.0" font-size="5.3" text-anchor="middle" font-weight="normal" fill="#2a2a2a" class="t" >&#915;</text>
<text x="114.55000000000001" y="183.0" font-size="5.3" text-anchor="middle" font-weight="normal" fill="#2a2a2a" class="t" >DOS</text>
<line x1="100.62" y1="102.3" x2="100.62" y2="103.2" stroke="#6a6a6a" stroke-width="0.4"/>
<line x1="100.62" y1="177.2" x2="100.62" y2="176.29999999999998" stroke="#6a6a6a" stroke-width="0.4"/>
<line x1="102.94" y1="102.3" x2="102.94" y2="103.2" stroke="#6a6a6a" stroke-width="0.4"/>
<line x1="102.94" y1="177.2" x2="102.94" y2="176.29999999999998" stroke="#6a6a6a" stroke-width="0.4"/>
<line x1="105.26" y1="102.3" x2="105.26" y2="103.2" stroke="#6a6a6a" stroke-width="0.4"/>
<line x1="105.26" y1="177.2" x2="105.26" y2="176.29999999999998" stroke="#6a6a6a" stroke-width="0.4"/>
<line x1="107.59" y1="102.3" x2="107.59" y2="103.2" stroke="#6a6a6a" stroke-width="0.4"/>
<line x1="107.59" y1="177.2" x2="107.59" y2="176.29999999999998" stroke="#6a6a6a" stroke-width="0.4"/>
<line x1="109.91" y1="102.3" x2="109.91" y2="103.2" stroke="#6a6a6a" stroke-width="0.4"/>
<line x1="109.91" y1="177.2" x2="109.91" y2="176.29999999999998" stroke="#6a6a6a" stroke-width="0.4"/>
<line x1="112.23" y1="102.3" x2="112.23" y2="103.2" stroke="#6a6a6a" stroke-width="0.4"/>
<line x1="112.23" y1="177.2" x2="112.23" y2="176.29999999999998" stroke="#6a6a6a" stroke-width="0.4"/>
<line x1="114.55" y1="102.3" x2="114.55" y2="103.2" stroke="#6a6a6a" stroke-width="0.4"/>
<line x1="114.55" y1="177.2" x2="114.55" y2="176.29999999999998" stroke="#6a6a6a" stroke-width="0.4"/>
<line x1="116.87" y1="102.3" x2="116.87" y2="103.2" stroke="#6a6a6a" stroke-width="0.4"/>
<line x1="116.87" y1="177.2" x2="116.87" y2="176.29999999999998" stroke="#6a6a6a" stroke-width="0.4"/>
<line x1="119.19" y1="102.3" x2="119.19" y2="103.2" stroke="#6a6a6a" stroke-width="0.4"/>
<line x1="119.19" y1="177.2" x2="119.19" y2="176.29999999999998" stroke="#6a6a6a" stroke-width="0.4"/>
<line x1="121.51" y1="102.3" x2="121.51" y2="103.2" stroke="#6a6a6a" stroke-width="0.4"/>
<line x1="121.51" y1="177.2" x2="121.51" y2="176.29999999999998" stroke="#6a6a6a" stroke-width="0.4"/>
<line x1="123.84" y1="102.3" x2="123.84" y2="103.2" stroke="#6a6a6a" stroke-width="0.4"/>
<line x1="123.84" y1="177.2" x2="123.84" y2="176.29999999999998" stroke="#6a6a6a" stroke-width="0.4"/>
<line x1="126.16" y1="102.3" x2="126.16" y2="103.2" stroke="#6a6a6a" stroke-width="0.4"/>
<line x1="126.16" y1="177.2" x2="126.16" y2="176.29999999999998" stroke="#6a6a6a" stroke-width="0.4"/>
<line x1="128.48" y1="102.3" x2="128.48" y2="103.2" stroke="#6a6a6a" stroke-width="0.4"/>
<line x1="128.48" y1="177.2" x2="128.48" y2="176.29999999999998" stroke="#6a6a6a" stroke-width="0.4"/>
<text x="93.0" y="137.6" font-size="5.3" text-anchor="end" font-weight="normal" fill="#2a2a2a" class="t" >9 GPa</text>
<line x1="18.4" y1="225.65" x2="95.3" y2="225.65" stroke="#d6d6d6" stroke-width="1.0"/>
<line x1="52.3" y1="188.6" x2="52.3" y2="262.7" stroke="#b4b4b4" stroke-width="0.8" stroke-dasharray="0.9 1.1"/>
<line x1="63.8" y1="188.6" x2="63.8" y2="262.7" stroke="#b4b4b4" stroke-width="0.8" stroke-dasharray="0.9 1.1"/>
<g clip-path="url(#ca2)"><path d="M18.40,202.20C18.93,201.82 20.60,200.75 21.60,199.90C22.60,199.05 23.63,197.87 24.40,197.10C25.17,196.33 25.60,195.92 26.20,195.30C26.80,194.68 27.23,194.10 28.00,193.40C28.77,192.70 29.72,191.70 30.80,191.10C31.88,190.50 33.28,190.10 34.50,189.80C35.72,189.50 36.85,189.30 38.10,189.30C39.35,189.30 40.85,189.43 42.00,189.80C43.15,190.17 44.08,190.88 45.00,191.50C45.92,192.12 47.08,193.17 47.50,193.50" fill="none" stroke="#a11d1f" stroke-width="1.05" stroke-linecap="round" stroke-linejoin="round"/>
<path d="M18.40,199.50C18.93,199.15 20.60,198.22 21.60,197.40C22.60,196.58 23.50,195.53 24.40,194.60C25.30,193.67 26.15,192.65 27.00,191.80C27.85,190.95 28.83,190.13 29.50,189.50C30.17,188.87 30.75,188.25 31.00,188.00" fill="none" stroke="#a11d1f" stroke-width="1.05" stroke-linecap="round" stroke-linejoin="round"/>
<path d="M18.40,195.00C18.83,194.75 20.15,194.17 21.00,193.50C21.85,192.83 22.75,191.75 23.50,191.00C24.25,190.25 25.00,189.50 25.50,189.00C26.00,188.50 26.33,188.17 26.50,188.00" fill="none" stroke="#a11d1f" stroke-width="1.05" stroke-linecap="round" stroke-linejoin="round"/>
<path d="M18.40,191.00C18.75,190.83 19.82,190.33 20.50,190.00C21.18,189.67 22.00,189.30 22.50,189.00C23.00,188.70 23.33,188.33 23.50,188.20" fill="none" stroke="#a11d1f" stroke-width="1.05" stroke-linecap="round" stroke-linejoin="round"/>
<path d="M18.40,189.50C18.67,189.67 19.40,190.00 20.00,190.50C20.60,191.00 21.33,191.92 22.00,192.50C22.67,193.08 23.30,193.85 24.00,194.00C24.70,194.15 25.83,193.50 26.20,193.40" fill="none" stroke="#a11d1f" stroke-width="1.05" stroke-linecap="round" stroke-linejoin="round"/>
<path d="M19.50,188.60C19.83,188.75 20.92,189.13 21.50,189.50C22.08,189.87 22.50,190.68 23.00,190.80C23.50,190.92 24.00,190.50 24.50,190.20C25.00,189.90 25.75,189.20 26.00,189.00" fill="none" stroke="#a11d1f" stroke-width="1.05" stroke-linecap="round" stroke-linejoin="round"/>
<path d="M18.40,190.20C18.67,190.10 19.40,189.77 20.00,189.60C20.60,189.43 21.33,189.20 22.00,189.20C22.67,189.20 23.42,189.37 24.00,189.60C24.58,189.83 25.00,190.23 25.50,190.60C26.00,190.97 26.75,191.60 27.00,191.80" fill="none" stroke="#a11d1f" stroke-width="1.05" stroke-linecap="round" stroke-linejoin="round"/>
<path d="M18.40,192.00C18.67,191.87 19.43,191.43 20.00,191.20C20.57,190.97 21.22,190.57 21.80,190.60C22.38,190.63 22.97,191.13 23.50,191.40C24.03,191.67 24.75,192.07 25.00,192.20" fill="none" stroke="#a11d1f" stroke-width="1.05" stroke-linecap="round" stroke-linejoin="round"/>
<path d="M18.40,193.20C18.63,193.07 19.28,192.63 19.80,192.40C20.32,192.17 20.97,191.77 21.50,191.80C22.03,191.83 22.75,192.47 23.00,192.60" fill="none" stroke="#a11d1f" stroke-width="1.05" stroke-linecap="round" stroke-linejoin="round"/>
<path d="M24.50,189.50C24.83,190.17 25.78,191.47 26.50,193.50C27.22,195.53 27.93,198.87 28.80,201.70C29.67,204.53 30.73,207.80 31.70,210.50C32.67,213.20 33.73,216.30 34.60,217.90C35.47,219.50 36.03,220.35 36.90,220.10C37.77,219.85 38.83,218.23 39.80,216.40C40.77,214.57 41.72,209.72 42.70,209.10C43.68,208.48 44.72,211.12 45.70,212.70C46.68,214.28 47.72,216.63 48.60,218.60C49.48,220.57 50.43,223.17 51.00,224.50C51.57,225.83 51.62,226.48 52.00,226.60C52.38,226.72 52.77,226.55 53.30,225.20C53.83,223.85 54.58,220.95 55.20,218.50C55.82,216.05 56.45,213.25 57.00,210.50C57.55,207.75 57.92,204.92 58.50,202.00C59.08,199.08 59.92,195.33 60.50,193.00C61.08,190.67 61.75,188.83 62.00,188.00" fill="none" stroke="#a11d1f" stroke-width="1.05" stroke-linecap="round" stroke-linejoin="round"/>
<path d="M25.50,190.00C25.80,190.97 26.52,193.60 27.30,195.80C28.08,198.00 29.22,201.23 30.20,203.20C31.18,205.17 32.22,207.85 33.20,207.60C34.18,207.35 35.25,203.90 36.10,201.70C36.95,199.50 37.43,194.88 38.30,194.40C39.17,193.92 40.43,197.47 41.30,198.80C42.17,200.13 42.65,202.90 43.50,202.40C44.35,201.90 45.42,195.92 46.40,195.80C47.38,195.68 48.63,199.58 49.40,201.70C50.17,203.82 50.50,206.73 51.00,208.50C51.50,210.27 51.78,212.98 52.40,212.30C53.02,211.62 54.05,207.03 54.70,204.40C55.35,201.77 55.77,198.87 56.30,196.50C56.83,194.13 57.50,191.70 57.90,190.20C58.30,188.70 58.57,187.95 58.70,187.50" fill="none" stroke="#a11d1f" stroke-width="1.05" stroke-linecap="round" stroke-linejoin="round"/>
<path d="M36.50,188.00C36.80,188.50 37.72,190.67 38.30,191.00C38.88,191.33 39.38,190.33 40.00,190.00C40.62,189.67 41.33,188.92 42.00,189.00C42.67,189.08 43.27,189.37 44.00,190.50C44.73,191.63 46.00,194.92 46.40,195.80" fill="none" stroke="#a11d1f" stroke-width="1.05" stroke-linecap="round" stroke-linejoin="round"/>
<path d="M56.30,188.00C56.70,189.42 58.03,193.23 58.70,196.50C59.37,199.77 59.77,204.18 60.30,207.60C60.83,211.02 61.38,214.63 61.90,217.00C62.42,219.37 62.62,221.40 63.40,221.80C64.18,222.20 65.53,220.98 66.60,219.40C67.67,217.82 68.88,214.80 69.80,212.30C70.72,209.80 71.32,207.17 72.10,204.40C72.88,201.63 73.83,198.43 74.50,195.70C75.17,192.97 75.83,189.28 76.10,188.00" fill="none" stroke="#a11d1f" stroke-width="1.05" stroke-linecap="round" stroke-linejoin="round"/>
<path d="M65.80,188.00C66.07,189.15 66.73,192.17 67.40,194.90C68.07,197.63 69.02,201.50 69.80,204.40C70.58,207.30 71.18,209.53 72.10,212.30C73.02,215.07 74.37,219.03 75.30,221.00C76.23,222.97 76.78,224.23 77.70,224.10C78.62,223.97 79.75,222.17 80.80,220.20C81.85,218.23 83.07,214.93 84.00,212.30C84.93,209.67 85.62,206.77 86.40,204.40C87.18,202.03 87.92,199.55 88.70,198.10C89.48,196.65 90.00,195.55 91.10,195.70C92.20,195.85 94.60,198.45 95.30,199.00" fill="none" stroke="#a11d1f" stroke-width="1.05" stroke-linecap="round" stroke-linejoin="round"/>
<path d="M80.00,188.00C80.53,188.62 81.88,190.28 83.20,191.70C84.52,193.12 86.32,195.18 87.90,196.50C89.48,197.82 91.47,198.88 92.70,199.60C93.93,200.32 94.87,200.60 95.30,200.80" fill="none" stroke="#a11d1f" stroke-width="1.05" stroke-linecap="round" stroke-linejoin="round"/>
<path d="M86.00,188.60C86.50,188.83 88.00,189.57 89.00,190.00C90.00,190.43 90.95,190.87 92.00,191.20C93.05,191.53 94.75,191.87 95.30,192.00" fill="none" stroke="#a11d1f" stroke-width="1.05" stroke-linecap="round" stroke-linejoin="round"/>
<path d="M88.00,188.60C88.50,188.75 90.08,189.18 91.00,189.50C91.92,189.82 92.78,190.22 93.50,190.50C94.22,190.78 95.00,191.08 95.30,191.20" fill="none" stroke="#a11d1f" stroke-width="1.05" stroke-linecap="round" stroke-linejoin="round"/>
<path d="M90.00,190.50C90.42,190.28 91.62,189.48 92.50,189.20C93.38,188.92 94.83,188.87 95.30,188.80" fill="none" stroke="#a11d1f" stroke-width="1.05" stroke-linecap="round" stroke-linejoin="round"/>
<path d="M18.50,263.50C19.02,261.47 20.30,255.13 21.60,251.30C22.90,247.47 24.75,243.32 26.30,240.50C27.85,237.68 29.48,235.82 30.90,234.40C32.32,232.98 33.52,232.00 34.80,232.00C36.08,232.00 37.45,232.72 38.60,234.40C39.75,236.08 40.67,239.28 41.70,242.10C42.73,244.92 43.77,248.22 44.80,251.30C45.83,254.38 47.22,258.57 47.90,260.60C48.58,262.63 48.73,263.02 48.90,263.50" fill="none" stroke="#a11d1f" stroke-width="1.05" stroke-linecap="round" stroke-linejoin="round"/>
<path d="M34.00,263.50C34.25,262.50 34.87,259.02 35.50,257.50C36.13,255.98 37.02,254.40 37.80,254.40C38.58,254.40 39.55,255.98 40.20,257.50C40.85,259.02 41.45,262.50 41.70,263.50" fill="none" stroke="#a11d1f" stroke-width="1.05" stroke-linecap="round" stroke-linejoin="round"/>
<path d="M55.40,263.50C55.78,260.45 57.05,250.32 57.70,245.20C58.35,240.08 58.78,236.02 59.30,232.80C59.82,229.58 60.32,227.20 60.80,225.90C61.28,224.60 61.75,224.98 62.20,225.00C62.65,225.02 62.83,224.70 63.50,226.00C64.17,227.30 65.23,230.12 66.20,232.80C67.17,235.48 68.27,238.75 69.30,242.10C70.33,245.45 71.50,249.42 72.40,252.90C73.30,256.38 74.32,261.32 74.70,263.00" fill="none" stroke="#a11d1f" stroke-width="1.05" stroke-linecap="round" stroke-linejoin="round"/>
<path d="M57.70,263.50C57.97,261.22 58.78,254.15 59.30,249.80C59.82,245.45 60.35,241.00 60.80,237.40C61.25,233.80 61.62,230.20 62.00,228.20C62.38,226.20 62.72,225.80 63.10,225.40C63.48,225.00 63.68,224.57 64.30,225.80C64.92,227.03 65.88,230.08 66.80,232.80C67.72,235.52 68.80,238.75 69.80,242.10C70.80,245.45 71.95,249.42 72.80,252.90C73.65,256.38 74.55,261.32 74.90,263.00" fill="none" stroke="#a11d1f" stroke-width="1.05" stroke-linecap="round" stroke-linejoin="round"/>
<path d="M74.70,262.60C75.22,261.50 76.52,258.38 77.80,256.00C79.08,253.62 80.98,250.10 82.40,248.30C83.82,246.50 85.13,245.47 86.30,245.20C87.47,244.93 88.37,245.42 89.40,246.70C90.43,247.98 91.60,250.58 92.50,252.90C93.40,255.22 94.28,258.83 94.80,260.60C95.32,262.37 95.47,263.02 95.60,263.50" fill="none" stroke="#a11d1f" stroke-width="1.05" stroke-linecap="round" stroke-linejoin="round"/></g>
<g clip-path="url(#da2)"><path d="M105.80,188.80 L119.10,188.80 L130.50,188.80" fill="none" stroke="#1a1a1a" stroke-width="0.85" stroke-linejoin="round" stroke-linecap="round"/>
<path d="M130.50,189.30 L116.10,190.70 L113.90,192.10 L124.20,193.60 L113.20,195.10 L110.20,196.60 L109.50,198.00 L111.70,200.20 L112.40,203.20 L107.30,204.60 L105.10,206.10 L105.10,208.30 L103.60,210.50 L104.40,213.50 L102.90,214.90 L103.60,217.90 L105.10,220.10 L105.80,222.30 L105.10,224.50 L105.60,226.50 L104.70,228.60 L103.90,232.30 L103.20,236.90 L101.60,240.00 L103.90,243.10 L104.70,246.20 L102.40,248.50 L103.90,251.60 L102.40,253.90 L103.90,256.20 L103.20,259.30 L104.70,261.60 L106.00,262.60" fill="none" stroke="#1a1a1a" stroke-width="0.85" stroke-linejoin="round" stroke-linecap="round"/>
<path d="M102.90,188.80 L104.40,189.90 L102.10,191.40 L102.90,192.90 L101.40,194.40 L100.70,197.30 L100.70,201.70 L99.90,206.10 L100.70,210.50 L99.90,214.90 L100.70,219.40 L101.40,223.80 L102.00,226.50 L100.90,230.70 L100.10,235.40 L100.10,241.50 L100.90,246.20 L100.10,250.80 L100.90,255.40 L101.60,260.80 L102.00,262.60" fill="none" stroke="#1f9a1f" stroke-width="0.85" stroke-linejoin="round" stroke-linecap="round"/>
<path d="M102.10,189.20 L102.90,190.70 L105.10,192.10 L106.60,193.60 L103.60,194.40 L101.40,195.80 L100.70,198.80 L99.90,203.20 L99.20,207.60 L99.20,212.00 L99.90,216.40 L100.70,220.80 L102.10,224.50 L103.00,226.50 L102.40,230.70 L100.90,235.40 L100.10,240.00 L101.60,244.60 L100.90,249.30 L101.60,252.30 L100.90,255.40 L101.60,258.50 L103.20,261.60 L104.00,262.60" fill="none" stroke="#1a2cf0" stroke-width="0.85" stroke-linejoin="round" stroke-linecap="round"/></g>
<rect x="18.4" y="188.6" width="76.90" height="74.10" fill="none" stroke="#6a6a6a" stroke-width="0.8"/>
<rect x="98.3" y="188.6" width="32.50" height="74.10" fill="none" stroke="#6a6a6a" stroke-width="0.8"/>
<line x1="18.4" y1="188.60" x2="19.599999999999998" y2="188.60" stroke="#6a6a6a" stroke-width="0.5"/>
<line x1="95.3" y1="188.60" x2="94.1" y2="188.60" stroke="#6a6a6a" stroke-width="0.5"/>
<line x1="98.3" y1="188.60" x2="99.5" y2="188.60" stroke="#6a6a6a" stroke-width="0.5"/>
<line x1="18.4" y1="197.86" x2="19.599999999999998" y2="197.86" stroke="#6a6a6a" stroke-width="0.5"/>
<line x1="95.3" y1="197.86" x2="94.1" y2="197.86" stroke="#6a6a6a" stroke-width="0.5"/>
<line x1="98.3" y1="197.86" x2="99.5" y2="197.86" stroke="#6a6a6a" stroke-width="0.5"/>
<line x1="18.4" y1="207.12" x2="19.599999999999998" y2="207.12" stroke="#6a6a6a" stroke-width="0.5"/>
<line x1="95.3" y1="207.12" x2="94.1" y2="207.12" stroke="#6a6a6a" stroke-width="0.5"/>
<line x1="98.3" y1="207.12" x2="99.5" y2="207.12" stroke="#6a6a6a" stroke-width="0.5"/>
<line x1="18.4" y1="216.39" x2="19.599999999999998" y2="216.39" stroke="#6a6a6a" stroke-width="0.5"/>
<line x1="95.3" y1="216.39" x2="94.1" y2="216.39" stroke="#6a6a6a" stroke-width="0.5"/>
<line x1="98.3" y1="216.39" x2="99.5" y2="216.39" stroke="#6a6a6a" stroke-width="0.5"/>
<line x1="18.4" y1="225.65" x2="19.599999999999998" y2="225.65" stroke="#6a6a6a" stroke-width="0.5"/>
<line x1="95.3" y1="225.65" x2="94.1" y2="225.65" stroke="#6a6a6a" stroke-width="0.5"/>
<line x1="98.3" y1="225.65" x2="99.5" y2="225.65" stroke="#6a6a6a" stroke-width="0.5"/>
<line x1="18.4" y1="234.91" x2="19.599999999999998" y2="234.91" stroke="#6a6a6a" stroke-width="0.5"/>
<line x1="95.3" y1="234.91" x2="94.1" y2="234.91" stroke="#6a6a6a" stroke-width="0.5"/>
<line x1="98.3" y1="234.91" x2="99.5" y2="234.91" stroke="#6a6a6a" stroke-width="0.5"/>
<line x1="18.4" y1="244.17" x2="19.599999999999998" y2="244.17" stroke="#6a6a6a" stroke-width="0.5"/>
<line x1="95.3" y1="244.17" x2="94.1" y2="244.17" stroke="#6a6a6a" stroke-width="0.5"/>
<line x1="98.3" y1="244.17" x2="99.5" y2="244.17" stroke="#6a6a6a" stroke-width="0.5"/>
<line x1="18.4" y1="253.44" x2="19.599999999999998" y2="253.44" stroke="#6a6a6a" stroke-width="0.5"/>
<line x1="95.3" y1="253.44" x2="94.1" y2="253.44" stroke="#6a6a6a" stroke-width="0.5"/>
<line x1="98.3" y1="253.44" x2="99.5" y2="253.44" stroke="#6a6a6a" stroke-width="0.5"/>
<line x1="18.4" y1="262.70" x2="19.599999999999998" y2="262.70" stroke="#6a6a6a" stroke-width="0.5"/>
<line x1="95.3" y1="262.70" x2="94.1" y2="262.70" stroke="#6a6a6a" stroke-width="0.5"/>
<line x1="98.3" y1="262.70" x2="99.5" y2="262.70" stroke="#6a6a6a" stroke-width="0.5"/>
<text x="17.099999999999998" y="192.1" font-size="5.3" text-anchor="end" font-weight="normal" fill="#2a2a2a" class="t" >4</text>
<text x="17.099999999999998" y="209.025" font-size="5.3" text-anchor="end" font-weight="normal" fill="#2a2a2a" class="t" >2</text>
<text x="17.099999999999998" y="227.54999999999998" font-size="5.3" text-anchor="end" font-weight="normal" fill="#2a2a2a" class="t" >0</text>
<text x="17.099999999999998" y="246.075" font-size="5.3" text-anchor="end" font-weight="normal" fill="#2a2a2a" class="t" >&#8211;2</text>
<text x="17.099999999999998" y="264.59999999999997" font-size="5.3" text-anchor="end" font-weight="normal" fill="#2a2a2a" class="t" >&#8211;4</text>
<text transform="translate(8.00,221.15) rotate(-90)" font-size="5.2" text-anchor="middle" fill="#2a2a2a" class="t">E - E<tspan font-size="3.8" dy="1.2">F</tspan><tspan dy="-1.2"> (eV)</tspan></text>
<text x="18.799999999999997" y="268.5" font-size="5.3" text-anchor="middle" font-weight="normal" fill="#2a2a2a" class="t" >&#915;</text>
<text x="34.9" y="268.5" font-size="5.3" text-anchor="middle" font-weight="normal" fill="#2a2a2a" class="t" >&#923;</text>
<text x="52.5" y="268.5" font-size="5.3" text-anchor="middle" font-weight="normal" fill="#2a2a2a" class="t" >K</text>
<text x="64.7" y="268.5" font-size="5.3" text-anchor="middle" font-weight="normal" fill="#2a2a2a" class="t" >M</text>
<text x="95.0" y="268.5" font-size="5.3" text-anchor="middle" font-weight="normal" fill="#2a2a2a" class="t" >&#915;</text>
<text x="114.55000000000001" y="268.5" font-size="5.3" text-anchor="middle" font-weight="normal" fill="#2a2a2a" class="t" >DOS</text>
<line x1="100.62" y1="188.6" x2="100.62" y2="189.5" stroke="#6a6a6a" stroke-width="0.4"/>
<line x1="100.62" y1="262.7" x2="100.62" y2="261.8" stroke="#6a6a6a" stroke-width="0.4"/>
<line x1="102.94" y1="188.6" x2="102.94" y2="189.5" stroke="#6a6a6a" stroke-width="0.4"/>
<line x1="102.94" y1="262.7" x2="102.94" y2="261.8" stroke="#6a6a6a" stroke-width="0.4"/>
<line x1="105.26" y1="188.6" x2="105.26" y2="189.5" stroke="#6a6a6a" stroke-width="0.4"/>
<line x1="105.26" y1="262.7" x2="105.26" y2="261.8" stroke="#6a6a6a" stroke-width="0.4"/>
<line x1="107.59" y1="188.6" x2="107.59" y2="189.5" stroke="#6a6a6a" stroke-width="0.4"/>
<line x1="107.59" y1="262.7" x2="107.59" y2="261.8" stroke="#6a6a6a" stroke-width="0.4"/>
<line x1="109.91" y1="188.6" x2="109.91" y2="189.5" stroke="#6a6a6a" stroke-width="0.4"/>
<line x1="109.91" y1="262.7" x2="109.91" y2="261.8" stroke="#6a6a6a" stroke-width="0.4"/>
<line x1="112.23" y1="188.6" x2="112.23" y2="189.5" stroke="#6a6a6a" stroke-width="0.4"/>
<line x1="112.23" y1="262.7" x2="112.23" y2="261.8" stroke="#6a6a6a" stroke-width="0.4"/>
<line x1="114.55" y1="188.6" x2="114.55" y2="189.5" stroke="#6a6a6a" stroke-width="0.4"/>
<line x1="114.55" y1="262.7" x2="114.55" y2="261.8" stroke="#6a6a6a" stroke-width="0.4"/>
<line x1="116.87" y1="188.6" x2="116.87" y2="189.5" stroke="#6a6a6a" stroke-width="0.4"/>
<line x1="116.87" y1="262.7" x2="116.87" y2="261.8" stroke="#6a6a6a" stroke-width="0.4"/>
<line x1="119.19" y1="188.6" x2="119.19" y2="189.5" stroke="#6a6a6a" stroke-width="0.4"/>
<line x1="119.19" y1="262.7" x2="119.19" y2="261.8" stroke="#6a6a6a" stroke-width="0.4"/>
<line x1="121.51" y1="188.6" x2="121.51" y2="189.5" stroke="#6a6a6a" stroke-width="0.4"/>
<line x1="121.51" y1="262.7" x2="121.51" y2="261.8" stroke="#6a6a6a" stroke-width="0.4"/>
<line x1="123.84" y1="188.6" x2="123.84" y2="189.5" stroke="#6a6a6a" stroke-width="0.4"/>
<line x1="123.84" y1="262.7" x2="123.84" y2="261.8" stroke="#6a6a6a" stroke-width="0.4"/>
<line x1="126.16" y1="188.6" x2="126.16" y2="189.5" stroke="#6a6a6a" stroke-width="0.4"/>
<line x1="126.16" y1="262.7" x2="126.16" y2="261.8" stroke="#6a6a6a" stroke-width="0.4"/>
<line x1="128.48" y1="188.6" x2="128.48" y2="189.5" stroke="#6a6a6a" stroke-width="0.4"/>
<line x1="128.48" y1="262.7" x2="128.48" y2="261.8" stroke="#6a6a6a" stroke-width="0.4"/>
<text x="92.2" y="231.9" font-size="5.3" text-anchor="end" font-weight="normal" fill="#2a2a2a" class="t" >86 GPa</text>
<line x1="155.1" y1="52.75" x2="233.5" y2="52.75" stroke="#d6d6d6" stroke-width="1.0"/>
<line x1="178.5" y1="14.2" x2="178.5" y2="91.3" stroke="#b4b4b4" stroke-width="0.8" stroke-dasharray="0.9 1.1"/>
<line x1="197.2" y1="14.2" x2="197.2" y2="91.3" stroke="#b4b4b4" stroke-width="0.8" stroke-dasharray="0.9 1.1"/>
<g clip-path="url(#cb0)"><path d="M158.50,28.00C158.92,27.42 160.03,25.83 161.00,24.50C161.97,23.17 163.30,21.33 164.30,20.00C165.30,18.67 166.22,17.47 167.00,16.50C167.78,15.53 168.67,14.58 169.00,14.20" fill="none" stroke="#f07028" stroke-width="1.8" stroke-linecap="round" stroke-linejoin="round" stroke-dasharray="0.1 2.6"/>
<path d="M220.50,15.00C221.07,15.57 222.85,17.17 223.90,18.40C224.95,19.63 225.82,21.03 226.80,22.40C227.78,23.77 228.85,25.33 229.80,26.60C230.75,27.87 232.05,29.43 232.50,30.00" fill="none" stroke="#f07028" stroke-width="1.8" stroke-linecap="round" stroke-linejoin="round" stroke-dasharray="0.1 2.6"/><path d="M187.00,15.80C187.70,15.93 189.72,16.43 191.20,16.60C192.68,16.77 194.33,16.97 195.90,16.80C197.47,16.63 199.82,15.80 200.60,15.60" fill="none" stroke="#ea6a22" stroke-width="1.6" stroke-linecap="round" stroke-linejoin="round" opacity="0.9"/>
<path d="M187.00,15.80C187.70,15.93 189.72,16.43 191.20,16.60C192.68,16.77 194.33,16.97 195.90,16.80C197.47,16.63 199.82,15.80 200.60,15.60" fill="none" stroke="#8a1a04" stroke-width="0.8" stroke-linecap="round" stroke-linejoin="round" stroke-dasharray="1.0 0.9"/>
<path d="M196.00,14.50C196.42,14.67 197.58,15.38 198.50,15.50C199.42,15.62 201.00,15.25 201.50,15.20" fill="none" stroke="#ea6a22" stroke-width="1.6" stroke-linecap="round" stroke-linejoin="round" opacity="0.9"/>
<path d="M196.00,14.50C196.42,14.67 197.58,15.38 198.50,15.50C199.42,15.62 201.00,15.25 201.50,15.20" fill="none" stroke="#8a1a04" stroke-width="0.8" stroke-linecap="round" stroke-linejoin="round" stroke-dasharray="1.0 0.9"/><path d="M155.20,28.50C155.67,28.85 156.87,29.95 158.00,30.60C159.13,31.25 160.67,32.00 162.00,32.40C163.33,32.80 164.83,33.15 166.00,33.00C167.17,32.85 168.00,32.20 169.00,31.50C170.00,30.80 171.08,29.75 172.00,28.80C172.92,27.85 173.75,26.70 174.50,25.80C175.25,24.90 175.85,24.03 176.50,23.40C177.15,22.77 177.73,22.13 178.40,22.00C179.07,21.87 179.82,22.33 180.50,22.60C181.18,22.87 181.92,23.20 182.50,23.60C183.08,24.00 183.33,24.43 184.00,25.00C184.67,25.57 185.67,26.33 186.50,27.00C187.33,27.67 188.25,28.30 189.00,29.00C189.75,29.70 190.33,30.53 191.00,31.20C191.67,31.87 192.00,32.53 193.00,33.00C194.00,33.47 195.67,33.95 197.00,34.00C198.33,34.05 199.50,33.80 201.00,33.30C202.50,32.80 204.17,31.72 206.00,31.00C207.83,30.28 210.00,29.17 212.00,29.00C214.00,28.83 216.00,29.50 218.00,30.00C220.00,30.50 222.33,31.63 224.00,32.00C225.67,32.37 226.92,32.28 228.00,32.20C229.08,32.12 229.58,31.78 230.50,31.50C231.42,31.22 233.00,30.67 233.50,30.50" fill="none" stroke="#e85a1c" stroke-width="1.7" stroke-linecap="round" stroke-linejoin="round" opacity="0.85"/>
<path d="M155.20,28.50C155.67,28.85 156.87,29.95 158.00,30.60C159.13,31.25 160.67,32.00 162.00,32.40C163.33,32.80 164.83,33.15 166.00,33.00C167.17,32.85 168.00,32.20 169.00,31.50C170.00,30.80 171.08,29.75 172.00,28.80C172.92,27.85 173.75,26.70 174.50,25.80C175.25,24.90 175.85,24.03 176.50,23.40C177.15,22.77 177.73,22.13 178.40,22.00C179.07,21.87 179.82,22.33 180.50,22.60C181.18,22.87 181.92,23.20 182.50,23.60C183.08,24.00 183.33,24.43 184.00,25.00C184.67,25.57 185.67,26.33 186.50,27.00C187.33,27.67 188.25,28.30 189.00,29.00C189.75,29.70 190.33,30.53 191.00,31.20C191.67,31.87 192.00,32.53 193.00,33.00C194.00,33.47 195.67,33.95 197.00,34.00C198.33,34.05 199.50,33.80 201.00,33.30C202.50,32.80 204.17,31.72 206.00,31.00C207.83,30.28 210.00,29.17 212.00,29.00C214.00,28.83 216.00,29.50 218.00,30.00C220.00,30.50 222.33,31.63 224.00,32.00C225.67,32.37 226.92,32.28 228.00,32.20C229.08,32.12 229.58,31.78 230.50,31.50C231.42,31.22 233.00,30.67 233.50,30.50" fill="none" stroke="#3a0500" stroke-width="1.0" stroke-linecap="round" stroke-linejoin="round" stroke-dasharray="1.0 0.9"/>
<path d="M172.00,26.50C172.42,26.12 173.75,24.82 174.50,24.20C175.25,23.58 175.85,23.07 176.50,22.80C177.15,22.53 177.77,22.47 178.40,22.60C179.03,22.73 179.70,23.20 180.30,23.60C180.90,24.00 181.72,24.77 182.00,25.00" fill="none" stroke="#e85a1c" stroke-width="1.7" stroke-linecap="round" stroke-linejoin="round" opacity="0.85"/>
<path d="M172.00,26.50C172.42,26.12 173.75,24.82 174.50,24.20C175.25,23.58 175.85,23.07 176.50,22.80C177.15,22.53 177.77,22.47 178.40,22.60C179.03,22.73 179.70,23.20 180.30,23.60C180.90,24.00 181.72,24.77 182.00,25.00" fill="none" stroke="#3a0500" stroke-width="1.0" stroke-linecap="round" stroke-linejoin="round" stroke-dasharray="1.0 0.9"/>
<path d="M155.20,31.00C155.67,31.33 157.03,32.37 158.00,33.00C158.97,33.63 160.00,34.30 161.00,34.80C162.00,35.30 163.08,35.60 164.00,36.00C164.92,36.40 165.67,36.93 166.50,37.20C167.33,37.47 168.25,37.67 169.00,37.60C169.75,37.53 170.33,37.07 171.00,36.80C171.67,36.53 172.25,35.83 173.00,36.00C173.75,36.17 174.60,36.97 175.50,37.80C176.40,38.63 177.48,40.83 178.40,41.00C179.32,41.17 180.15,39.53 181.00,38.80C181.85,38.07 182.67,37.23 183.50,36.60C184.33,35.97 185.08,35.40 186.00,35.00C186.92,34.60 188.00,34.37 189.00,34.20C190.00,34.03 190.67,34.00 192.00,34.00C193.33,34.00 195.33,34.03 197.00,34.20C198.67,34.37 200.17,34.70 202.00,35.00C203.83,35.30 206.00,36.00 208.00,36.00C210.00,36.00 212.00,35.50 214.00,35.00C216.00,34.50 218.00,33.50 220.00,33.00C222.00,32.50 224.33,32.33 226.00,32.00C227.67,31.67 228.75,31.33 230.00,31.00C231.25,30.67 232.92,30.17 233.50,30.00" fill="none" stroke="#e85a1c" stroke-width="1.7" stroke-linecap="round" stroke-linejoin="round" opacity="0.85"/>
<path d="M155.20,31.00C155.67,31.33 157.03,32.37 158.00,33.00C158.97,33.63 160.00,34.30 161.00,34.80C162.00,35.30 163.08,35.60 164.00,36.00C164.92,36.40 165.67,36.93 166.50,37.20C167.33,37.47 168.25,37.67 169.00,37.60C169.75,37.53 170.33,37.07 171.00,36.80C171.67,36.53 172.25,35.83 173.00,36.00C173.75,36.17 174.60,36.97 175.50,37.80C176.40,38.63 177.48,40.83 178.40,41.00C179.32,41.17 180.15,39.53 181.00,38.80C181.85,38.07 182.67,37.23 183.50,36.60C184.33,35.97 185.08,35.40 186.00,35.00C186.92,34.60 188.00,34.37 189.00,34.20C190.00,34.03 190.67,34.00 192.00,34.00C193.33,34.00 195.33,34.03 197.00,34.20C198.67,34.37 200.17,34.70 202.00,35.00C203.83,35.30 206.00,36.00 208.00,36.00C210.00,36.00 212.00,35.50 214.00,35.00C216.00,34.50 218.00,33.50 220.00,33.00C222.00,32.50 224.33,32.33 226.00,32.00C227.67,31.67 228.75,31.33 230.00,31.00C231.25,30.67 232.92,30.17 233.50,30.00" fill="none" stroke="#3a0500" stroke-width="1.0" stroke-linecap="round" stroke-linejoin="round" stroke-dasharray="1.0 0.9"/>
<path d="M186.00,15.50C186.58,15.92 188.17,16.92 189.50,18.00C190.83,19.08 192.25,20.67 194.00,22.00C195.75,23.33 198.00,24.83 200.00,26.00C202.00,27.17 204.00,28.00 206.00,29.00C208.00,30.00 210.00,31.00 212.00,32.00C214.00,33.00 216.00,34.67 218.00,35.00C220.00,35.33 222.33,34.42 224.00,34.00C225.67,33.58 226.42,33.08 228.00,32.50C229.58,31.92 232.58,30.83 233.50,30.50" fill="none" stroke="#e85a1c" stroke-width="1.7" stroke-linecap="round" stroke-linejoin="round" opacity="0.85"/>
<path d="M186.00,15.50C186.58,15.92 188.17,16.92 189.50,18.00C190.83,19.08 192.25,20.67 194.00,22.00C195.75,23.33 198.00,24.83 200.00,26.00C202.00,27.17 204.00,28.00 206.00,29.00C208.00,30.00 210.00,31.00 212.00,32.00C214.00,33.00 216.00,34.67 218.00,35.00C220.00,35.33 222.33,34.42 224.00,34.00C225.67,33.58 226.42,33.08 228.00,32.50C229.58,31.92 232.58,30.83 233.50,30.50" fill="none" stroke="#3a0500" stroke-width="1.0" stroke-linecap="round" stroke-linejoin="round" stroke-dasharray="1.0 0.9"/>
<path d="M194.00,17.50C194.67,18.00 196.67,19.58 198.00,20.50C199.33,21.42 200.33,22.25 202.00,23.00C203.67,23.75 206.00,24.50 208.00,25.00C210.00,25.50 212.00,25.50 214.00,26.00C216.00,26.50 218.00,27.33 220.00,28.00C222.00,28.67 224.42,29.50 226.00,30.00C227.58,30.50 228.25,30.75 229.50,31.00C230.75,31.25 232.83,31.42 233.50,31.50" fill="none" stroke="#e85a1c" stroke-width="1.7" stroke-linecap="round" stroke-linejoin="round" opacity="0.85"/>
<path d="M194.00,17.50C194.67,18.00 196.67,19.58 198.00,20.50C199.33,21.42 200.33,22.25 202.00,23.00C203.67,23.75 206.00,24.50 208.00,25.00C210.00,25.50 212.00,25.50 214.00,26.00C216.00,26.50 218.00,27.33 220.00,28.00C222.00,28.67 224.42,29.50 226.00,30.00C227.58,30.50 228.25,30.75 229.50,31.00C230.75,31.25 232.83,31.42 233.50,31.50" fill="none" stroke="#3a0500" stroke-width="1.0" stroke-linecap="round" stroke-linejoin="round" stroke-dasharray="1.0 0.9"/>
<path d="M196.00,21.60C196.63,22.08 198.53,23.53 199.80,24.50C201.07,25.47 202.32,27.08 203.60,27.40C204.88,27.72 206.22,26.80 207.50,26.40C208.78,26.00 210.18,25.47 211.30,25.00C212.42,24.53 213.40,23.68 214.20,23.60C215.00,23.52 215.32,24.03 216.10,24.50C216.88,24.97 217.78,25.60 218.90,26.40C220.02,27.20 221.52,28.42 222.80,29.30C224.08,30.18 225.33,31.47 226.60,31.70C227.87,31.93 229.25,31.10 230.40,30.70C231.55,30.30 232.98,29.53 233.50,29.30" fill="none" stroke="#e85a1c" stroke-width="1.7" stroke-linecap="round" stroke-linejoin="round" opacity="0.85"/>
<path d="M196.00,21.60C196.63,22.08 198.53,23.53 199.80,24.50C201.07,25.47 202.32,27.08 203.60,27.40C204.88,27.72 206.22,26.80 207.50,26.40C208.78,26.00 210.18,25.47 211.30,25.00C212.42,24.53 213.40,23.68 214.20,23.60C215.00,23.52 215.32,24.03 216.10,24.50C216.88,24.97 217.78,25.60 218.90,26.40C220.02,27.20 221.52,28.42 222.80,29.30C224.08,30.18 225.33,31.47 226.60,31.70C227.87,31.93 229.25,31.10 230.40,30.70C231.55,30.30 232.98,29.53 233.50,29.30" fill="none" stroke="#3a0500" stroke-width="1.0" stroke-linecap="round" stroke-linejoin="round" stroke-dasharray="1.0 0.9"/>
<path d="M196.00,32.20C196.63,31.80 198.53,30.52 199.80,29.80C201.07,29.08 202.32,28.47 203.60,27.90C204.88,27.33 206.85,26.65 207.50,26.40" fill="none" stroke="#e85a1c" stroke-width="1.7" stroke-linecap="round" stroke-linejoin="round" opacity="0.85"/>
<path d="M196.00,32.20C196.63,31.80 198.53,30.52 199.80,29.80C201.07,29.08 202.32,28.47 203.60,27.90C204.88,27.33 206.85,26.65 207.50,26.40" fill="none" stroke="#3a0500" stroke-width="1.0" stroke-linecap="round" stroke-linejoin="round" stroke-dasharray="1.0 0.9"/>
<path d="M196.00,35.00C196.63,34.85 198.53,34.10 199.80,34.10C201.07,34.10 202.32,34.57 203.60,35.00C204.88,35.43 206.22,36.53 207.50,36.70C208.78,36.87 210.03,36.35 211.30,36.00C212.57,35.65 213.83,34.68 215.10,34.60C216.37,34.52 217.62,35.15 218.90,35.50C220.18,35.85 221.52,36.57 222.80,36.70C224.08,36.83 225.33,36.65 226.60,36.30C227.87,35.95 229.25,35.28 230.40,34.60C231.55,33.92 232.98,32.60 233.50,32.20" fill="none" stroke="#e85a1c" stroke-width="1.7" stroke-linecap="round" stroke-linejoin="round" opacity="0.85"/>
<path d="M196.00,35.00C196.63,34.85 198.53,34.10 199.80,34.10C201.07,34.10 202.32,34.57 203.60,35.00C204.88,35.43 206.22,36.53 207.50,36.70C208.78,36.87 210.03,36.35 211.30,36.00C212.57,35.65 213.83,34.68 215.10,34.60C216.37,34.52 217.62,35.15 218.90,35.50C220.18,35.85 221.52,36.57 222.80,36.70C224.08,36.83 225.33,36.65 226.60,36.30C227.87,35.95 229.25,35.28 230.40,34.60C231.55,33.92 232.98,32.60 233.50,32.20" fill="none" stroke="#3a0500" stroke-width="1.0" stroke-linecap="round" stroke-linejoin="round" stroke-dasharray="1.0 0.9"/>
<path d="M216.00,28.50C216.67,28.75 218.67,29.50 220.00,30.00C221.33,30.50 222.67,31.12 224.00,31.50C225.33,31.88 226.83,32.30 228.00,32.30C229.17,32.30 230.50,31.63 231.00,31.50" fill="none" stroke="#e85a1c" stroke-width="1.7" stroke-linecap="round" stroke-linejoin="round" opacity="0.85"/>
<path d="M216.00,28.50C216.67,28.75 218.67,29.50 220.00,30.00C221.33,30.50 222.67,31.12 224.00,31.50C225.33,31.88 226.83,32.30 228.00,32.30C229.17,32.30 230.50,31.63 231.00,31.50" fill="none" stroke="#3a0500" stroke-width="1.0" stroke-linecap="round" stroke-linejoin="round" stroke-dasharray="1.0 0.9"/>
<path d="M155.20,57.70C156.00,58.22 158.37,59.65 160.00,60.80C161.63,61.95 163.62,63.78 165.00,64.60C166.38,65.42 167.20,65.67 168.30,65.70C169.40,65.73 170.48,65.42 171.60,64.80C172.72,64.18 173.85,63.13 175.00,62.00C176.15,60.87 177.42,58.37 178.50,58.00C179.58,57.63 180.43,59.13 181.50,59.80C182.57,60.47 183.60,61.27 184.90,62.00C186.20,62.73 187.95,63.55 189.30,64.20C190.65,64.85 191.70,65.43 193.00,65.90C194.30,66.37 195.73,67.12 197.10,67.00C198.47,66.88 199.62,65.95 201.20,65.20C202.78,64.45 205.02,63.18 206.60,62.50C208.18,61.82 209.33,60.98 210.70,61.10C212.07,61.22 213.43,62.43 214.80,63.20C216.17,63.97 217.55,65.48 218.90,65.70C220.25,65.92 221.55,65.15 222.90,64.50C224.25,63.85 225.63,62.58 227.00,61.80C228.37,61.02 230.02,60.37 231.10,59.80C232.18,59.23 233.10,58.63 233.50,58.40" fill="none" stroke="#e85a1c" stroke-width="1.7" stroke-linecap="round" stroke-linejoin="round" opacity="0.85"/>
<path d="M155.20,57.70C156.00,58.22 158.37,59.65 160.00,60.80C161.63,61.95 163.62,63.78 165.00,64.60C166.38,65.42 167.20,65.67 168.30,65.70C169.40,65.73 170.48,65.42 171.60,64.80C172.72,64.18 173.85,63.13 175.00,62.00C176.15,60.87 177.42,58.37 178.50,58.00C179.58,57.63 180.43,59.13 181.50,59.80C182.57,60.47 183.60,61.27 184.90,62.00C186.20,62.73 187.95,63.55 189.30,64.20C190.65,64.85 191.70,65.43 193.00,65.90C194.30,66.37 195.73,67.12 197.10,67.00C198.47,66.88 199.62,65.95 201.20,65.20C202.78,64.45 205.02,63.18 206.60,62.50C208.18,61.82 209.33,60.98 210.70,61.10C212.07,61.22 213.43,62.43 214.80,63.20C216.17,63.97 217.55,65.48 218.90,65.70C220.25,65.92 221.55,65.15 222.90,64.50C224.25,63.85 225.63,62.58 227.00,61.80C228.37,61.02 230.02,60.37 231.10,59.80C232.18,59.23 233.10,58.63 233.50,58.40" fill="none" stroke="#3a0500" stroke-width="1.0" stroke-linecap="round" stroke-linejoin="round" stroke-dasharray="1.0 0.9"/>
<path d="M155.10,73.00C155.65,72.55 157.30,71.03 158.40,70.30C159.50,69.57 160.60,68.78 161.70,68.60C162.80,68.42 163.90,68.83 165.00,69.20C166.10,69.57 167.20,70.17 168.30,70.80C169.40,71.43 170.50,72.08 171.60,73.00C172.70,73.92 173.78,75.23 174.90,76.30C176.02,77.37 177.00,79.22 178.30,79.40C179.60,79.58 181.23,77.92 182.70,77.40C184.17,76.88 185.63,76.57 187.10,76.30C188.57,76.03 190.18,75.95 191.50,75.80C192.82,75.65 193.92,75.28 195.00,75.40C196.08,75.52 197.00,75.98 198.00,76.50C199.00,77.02 200.50,78.17 201.00,78.50" fill="none" stroke="#e85a1c" stroke-width="1.7" stroke-linecap="round" stroke-linejoin="round" opacity="0.85"/>
<path d="M155.10,73.00C155.65,72.55 157.30,71.03 158.40,70.30C159.50,69.57 160.60,68.78 161.70,68.60C162.80,68.42 163.90,68.83 165.00,69.20C166.10,69.57 167.20,70.17 168.30,70.80C169.40,71.43 170.50,72.08 171.60,73.00C172.70,73.92 173.78,75.23 174.90,76.30C176.02,77.37 177.00,79.22 178.30,79.40C179.60,79.58 181.23,77.92 182.70,77.40C184.17,76.88 185.63,76.57 187.10,76.30C188.57,76.03 190.18,75.95 191.50,75.80C192.82,75.65 193.92,75.28 195.00,75.40C196.08,75.52 197.00,75.98 198.00,76.50C199.00,77.02 200.50,78.17 201.00,78.50" fill="none" stroke="#3a0500" stroke-width="1.0" stroke-linecap="round" stroke-linejoin="round" stroke-dasharray="1.0 0.9"/>
<path d="M184.00,72.00C184.52,71.72 186.03,70.73 187.10,70.30C188.17,69.87 189.42,69.45 190.40,69.40C191.38,69.35 191.88,69.57 193.00,70.00C194.12,70.43 195.73,71.33 197.10,72.00C198.47,72.67 199.85,73.43 201.20,74.00C202.55,74.57 203.85,75.05 205.20,75.40C206.55,75.75 207.93,76.22 209.30,76.10C210.67,75.98 212.03,75.27 213.40,74.70C214.77,74.13 216.13,73.38 217.50,72.70C218.87,72.02 220.23,71.17 221.60,70.60C222.97,70.03 224.35,69.63 225.70,69.30C227.05,68.97 228.40,68.72 229.70,68.60C231.00,68.48 232.87,68.60 233.50,68.60" fill="none" stroke="#e85a1c" stroke-width="1.7" stroke-linecap="round" stroke-linejoin="round" opacity="0.85"/>
<path d="M184.00,72.00C184.52,71.72 186.03,70.73 187.10,70.30C188.17,69.87 189.42,69.45 190.40,69.40C191.38,69.35 191.88,69.57 193.00,70.00C194.12,70.43 195.73,71.33 197.10,72.00C198.47,72.67 199.85,73.43 201.20,74.00C202.55,74.57 203.85,75.05 205.20,75.40C206.55,75.75 207.93,76.22 209.30,76.10C210.67,75.98 212.03,75.27 213.40,74.70C214.77,74.13 216.13,73.38 217.50,72.70C218.87,72.02 220.23,71.17 221.60,70.60C222.97,70.03 224.35,69.63 225.70,69.30C227.05,68.97 228.40,68.72 229.70,68.60C231.00,68.48 232.87,68.60 233.50,68.60" fill="none" stroke="#3a0500" stroke-width="1.0" stroke-linecap="round" stroke-linejoin="round" stroke-dasharray="1.0 0.9"/>
<path d="M205.20,86.30C205.88,85.85 207.93,84.50 209.30,83.60C210.67,82.70 212.03,81.82 213.40,80.90C214.77,79.98 216.37,78.68 217.50,78.10C218.63,77.52 219.07,77.28 220.20,77.40C221.33,77.52 222.93,78.22 224.30,78.80C225.67,79.38 226.87,80.33 228.40,80.90C229.93,81.47 232.65,81.98 233.50,82.20" fill="none" stroke="#e85a1c" stroke-width="1.7" stroke-linecap="round" stroke-linejoin="round" opacity="0.85"/>
<path d="M205.20,86.30C205.88,85.85 207.93,84.50 209.30,83.60C210.67,82.70 212.03,81.82 213.40,80.90C214.77,79.98 216.37,78.68 217.50,78.10C218.63,77.52 219.07,77.28 220.20,77.40C221.33,77.52 222.93,78.22 224.30,78.80C225.67,79.38 226.87,80.33 228.40,80.90C229.93,81.47 232.65,81.98 233.50,82.20" fill="none" stroke="#3a0500" stroke-width="1.0" stroke-linecap="round" stroke-linejoin="round" stroke-dasharray="1.0 0.9"/>
<path d="M166.00,89.50C166.57,89.48 168.10,89.57 169.40,89.40C170.70,89.23 172.32,88.57 173.80,88.50C175.28,88.43 176.82,89.10 178.30,89.00C179.78,88.90 181.23,87.98 182.70,87.90C184.17,87.82 185.63,88.32 187.10,88.50C188.57,88.68 190.18,89.00 191.50,89.00C192.82,89.00 193.75,88.73 195.00,88.50C196.25,88.27 197.67,87.63 199.00,87.60C200.33,87.57 201.67,88.00 203.00,88.30C204.33,88.60 206.33,89.22 207.00,89.40" fill="none" stroke="#e85a1c" stroke-width="1.7" stroke-linecap="round" stroke-linejoin="round" opacity="0.85"/>
<path d="M166.00,89.50C166.57,89.48 168.10,89.57 169.40,89.40C170.70,89.23 172.32,88.57 173.80,88.50C175.28,88.43 176.82,89.10 178.30,89.00C179.78,88.90 181.23,87.98 182.70,87.90C184.17,87.82 185.63,88.32 187.10,88.50C188.57,88.68 190.18,89.00 191.50,89.00C192.82,89.00 193.75,88.73 195.00,88.50C196.25,88.27 197.67,87.63 199.00,87.60C200.33,87.57 201.67,88.00 203.00,88.30C204.33,88.60 206.33,89.22 207.00,89.40" fill="none" stroke="#3a0500" stroke-width="1.0" stroke-linecap="round" stroke-linejoin="round" stroke-dasharray="1.0 0.9"/>
<path d="M158.00,77.00C158.58,77.42 160.42,78.92 161.50,79.50C162.58,80.08 163.50,80.45 164.50,80.50C165.50,80.55 166.50,79.75 167.50,79.80C168.50,79.85 170.00,80.63 170.50,80.80" fill="none" stroke="#e85a1c" stroke-width="1.7" stroke-linecap="round" stroke-linejoin="round" opacity="0.85"/>
<path d="M158.00,77.00C158.58,77.42 160.42,78.92 161.50,79.50C162.58,80.08 163.50,80.45 164.50,80.50C165.50,80.55 166.50,79.75 167.50,79.80C168.50,79.85 170.00,80.63 170.50,80.80" fill="none" stroke="#3a0500" stroke-width="1.0" stroke-linecap="round" stroke-linejoin="round" stroke-dasharray="1.0 0.9"/><path d="M155.20,28.60C155.58,28.87 156.70,29.70 157.50,30.20C158.30,30.70 159.08,31.20 160.00,31.60C160.92,32.00 162.08,32.37 163.00,32.60C163.92,32.83 165.08,32.93 165.50,33.00" fill="none" stroke="#c8400e" stroke-width="2.6" stroke-linecap="round" stroke-linejoin="round"/>
<path d="M155.20,28.60C155.58,28.87 156.70,29.70 157.50,30.20C158.30,30.70 159.08,31.20 160.00,31.60C160.92,32.00 162.08,32.37 163.00,32.60C163.92,32.83 165.08,32.93 165.50,33.00" fill="none" stroke="#1a0000" stroke-width="1.8" stroke-linecap="round" stroke-linejoin="round"/>
<path d="M155.20,31.00C155.50,31.20 156.45,31.87 157.00,32.20C157.55,32.53 158.25,32.87 158.50,33.00" fill="none" stroke="#c8400e" stroke-width="2.6" stroke-linecap="round" stroke-linejoin="round"/>
<path d="M155.20,31.00C155.50,31.20 156.45,31.87 157.00,32.20C157.55,32.53 158.25,32.87 158.50,33.00" fill="none" stroke="#1a0000" stroke-width="1.8" stroke-linecap="round" stroke-linejoin="round"/>
<path d="M155.20,29.80L156.50,30.80" fill="none" stroke="#c8400e" stroke-width="2.6" stroke-linecap="round" stroke-linejoin="round"/>
<path d="M155.20,29.80L156.50,30.80" fill="none" stroke="#1a0000" stroke-width="1.8" stroke-linecap="round" stroke-linejoin="round"/>
<path d="M229.00,30.80C229.42,30.87 230.75,31.23 231.50,31.20C232.25,31.17 233.17,30.70 233.50,30.60" fill="none" stroke="#c8400e" stroke-width="2.6" stroke-linecap="round" stroke-linejoin="round"/>
<path d="M229.00,30.80C229.42,30.87 230.75,31.23 231.50,31.20C232.25,31.17 233.17,30.70 233.50,30.60" fill="none" stroke="#1a0000" stroke-width="1.8" stroke-linecap="round" stroke-linejoin="round"/>
<path d="M230.00,32.50L233.50,32.00" fill="none" stroke="#c8400e" stroke-width="2.6" stroke-linecap="round" stroke-linejoin="round"/>
<path d="M230.00,32.50L233.50,32.00" fill="none" stroke="#1a0000" stroke-width="1.8" stroke-linecap="round" stroke-linejoin="round"/><circle cx="156.8" cy="85.2" r="0.8" fill="#c0400c"/>
<circle cx="159" cy="87.3" r="0.8" fill="#c0400c"/>
<circle cx="161.7" cy="80.7" r="0.8" fill="#c0400c"/>
<circle cx="163" cy="84" r="0.8" fill="#c0400c"/>
<circle cx="165" cy="85.2" r="0.8" fill="#c0400c"/>
<circle cx="167" cy="87.5" r="0.8" fill="#c0400c"/>
<circle cx="170.5" cy="82.4" r="0.8" fill="#c0400c"/>
<circle cx="156" cy="81" r="0.8" fill="#c0400c"/>
<circle cx="158.5" cy="89.5" r="0.8" fill="#c0400c"/>
<circle cx="162" cy="89.5" r="0.8" fill="#c0400c"/>
<circle cx="160.5" cy="83" r="0.8" fill="#c0400c"/>
<circle cx="185.4" cy="81.8" r="0.8" fill="#c0400c"/>
<circle cx="201.2" cy="76.8" r="0.8" fill="#c0400c"/>
<circle cx="202.5" cy="80.9" r="0.8" fill="#c0400c"/>
<circle cx="204" cy="83" r="0.8" fill="#c0400c"/>
<circle cx="205.5" cy="85" r="0.8" fill="#c0400c"/>
<circle cx="224.3" cy="83.6" r="0.8" fill="#c0400c"/>
<circle cx="227" cy="86.3" r="0.8" fill="#c0400c"/>
<circle cx="228.5" cy="87.6" r="0.8" fill="#c0400c"/>
<circle cx="231" cy="84.3" r="0.8" fill="#c0400c"/>
<circle cx="231.1" cy="78.8" r="0.8" fill="#c0400c"/>
<circle cx="232.5" cy="74" r="0.8" fill="#c0400c"/>
<circle cx="218" cy="89" r="0.8" fill="#c0400c"/>
<circle cx="222" cy="88.5" r="0.8" fill="#c0400c"/>
<circle cx="191" cy="35.5" r="0.8" fill="#c0400c"/>
<circle cx="157" cy="75.5" r="0.8" fill="#c0400c"/>
<circle cx="155.8" cy="78.5" r="0.8" fill="#c0400c"/></g>
<g clip-path="url(#db0)"><path d="M245.30,15.60 L244.60,16.20 L243.80,17.70 L246.00,19.90 L249.00,22.80 L251.20,25.00 L255.60,28.00 L260.00,30.20 L265.10,31.60 L257.80,33.90 L257.10,35.30 L251.20,36.80 L243.80,38.30 L237.90,39.00 L236.90,39.70" fill="none" stroke="#1a1a1a" stroke-width="0.85" stroke-linejoin="round" stroke-linecap="round"/>
<path d="M236.90,54.60 L239.60,56.90 L244.30,58.50 L247.40,60.80 L250.50,63.10 L254.30,64.70 L248.90,66.20 L248.10,68.50 L250.50,70.10 L255.10,72.40 L262.00,74.70 L250.50,77.00 L247.40,79.30 L248.10,81.70 L245.80,84.00 L252.00,86.30 L265.90,87.80 L253.50,89.40 L246.00,90.20" fill="none" stroke="#1a1a1a" stroke-width="0.85" stroke-linejoin="round" stroke-linecap="round"/>
<path d="M237.90,15.60 L238.70,16.90 L239.40,19.90 L241.60,24.30 L243.10,27.20 L245.30,29.40 L243.80,31.60 L243.10,33.90 L240.90,36.10 L237.90,38.30" fill="none" stroke="#1f9a1f" stroke-width="0.85" stroke-linejoin="round" stroke-linecap="round"/>
<path d="M236.90,56.20 L238.10,59.30 L239.60,62.40 L240.40,64.70 L238.10,68.50 L237.30,73.20 L238.10,77.80 L237.30,82.40 L238.10,87.10 L239.60,89.40 L239.00,90.20" fill="none" stroke="#1f9a1f" stroke-width="0.85" stroke-linejoin="round" stroke-linecap="round"/>
<path d="M238.70,15.60 L239.40,16.90 L238.70,19.90 L240.10,22.80 L241.60,25.80 L243.10,28.70 L243.80,31.60 L246.00,35.30 L242.40,36.80 L238.70,39.00 L237.00,40.50" fill="none" stroke="#f01a1a" stroke-width="0.85" stroke-linejoin="round" stroke-linecap="round"/>
<path d="M236.90,56.20 L238.90,59.30 L240.40,62.40 L242.00,64.70 L239.60,67.00 L238.90,70.10 L238.10,74.70 L238.90,79.30 L239.60,84.00 L241.20,87.10 L239.60,89.40 L239.00,90.20" fill="none" stroke="#f01a1a" stroke-width="0.85" stroke-linejoin="round" stroke-linecap="round"/>
<path d="M238.70,15.60 L237.90,16.90 L237.20,19.90 L238.70,24.30 L240.10,27.20 L241.60,30.20 L242.40,32.40 L240.10,34.60 L238.70,36.80 L237.20,38.30 L237.00,40.50 L237.00,56.20" fill="none" stroke="#1a2cf0" stroke-width="0.85" stroke-linejoin="round" stroke-linecap="round"/>
<path d="M236.90,56.20 L238.10,59.30 L240.40,62.40 L242.00,65.40 L241.20,67.80 L244.30,71.60 L247.40,74.70 L244.30,77.00 L240.40,78.60 L239.60,80.90 L241.20,83.20 L240.40,84.70 L245.80,87.10 L242.70,89.40 L240.00,90.20" fill="none" stroke="#1a2cf0" stroke-width="0.85" stroke-linejoin="round" stroke-linecap="round"/></g>
<rect x="155.1" y="14.2" width="78.40" height="77.10" fill="none" stroke="#6a6a6a" stroke-width="0.8"/>
<rect x="236.8" y="14.2" width="32.50" height="77.10" fill="none" stroke="#6a6a6a" stroke-width="0.8"/>
<line x1="155.1" y1="14.20" x2="156.29999999999998" y2="14.20" stroke="#6a6a6a" stroke-width="0.5"/>
<line x1="233.5" y1="14.20" x2="232.3" y2="14.20" stroke="#6a6a6a" stroke-width="0.5"/>
<line x1="236.8" y1="14.20" x2="238.0" y2="14.20" stroke="#6a6a6a" stroke-width="0.5"/>
<line x1="155.1" y1="23.84" x2="156.29999999999998" y2="23.84" stroke="#6a6a6a" stroke-width="0.5"/>
<line x1="233.5" y1="23.84" x2="232.3" y2="23.84" stroke="#6a6a6a" stroke-width="0.5"/>
<line x1="236.8" y1="23.84" x2="238.0" y2="23.84" stroke="#6a6a6a" stroke-width="0.5"/>
<line x1="155.1" y1="33.47" x2="156.29999999999998" y2="33.47" stroke="#6a6a6a" stroke-width="0.5"/>
<line x1="233.5" y1="33.47" x2="232.3" y2="33.47" stroke="#6a6a6a" stroke-width="0.5"/>
<line x1="236.8" y1="33.47" x2="238.0" y2="33.47" stroke="#6a6a6a" stroke-width="0.5"/>
<line x1="155.1" y1="43.11" x2="156.29999999999998" y2="43.11" stroke="#6a6a6a" stroke-width="0.5"/>
<line x1="233.5" y1="43.11" x2="232.3" y2="43.11" stroke="#6a6a6a" stroke-width="0.5"/>
<line x1="236.8" y1="43.11" x2="238.0" y2="43.11" stroke="#6a6a6a" stroke-width="0.5"/>
<line x1="155.1" y1="52.75" x2="156.29999999999998" y2="52.75" stroke="#6a6a6a" stroke-width="0.5"/>
<line x1="233.5" y1="52.75" x2="232.3" y2="52.75" stroke="#6a6a6a" stroke-width="0.5"/>
<line x1="236.8" y1="52.75" x2="238.0" y2="52.75" stroke="#6a6a6a" stroke-width="0.5"/>
<line x1="155.1" y1="62.39" x2="156.29999999999998" y2="62.39" stroke="#6a6a6a" stroke-width="0.5"/>
<line x1="233.5" y1="62.39" x2="232.3" y2="62.39" stroke="#6a6a6a" stroke-width="0.5"/>
<line x1="236.8" y1="62.39" x2="238.0" y2="62.39" stroke="#6a6a6a" stroke-width="0.5"/>
<line x1="155.1" y1="72.02" x2="156.29999999999998" y2="72.02" stroke="#6a6a6a" stroke-width="0.5"/>
<line x1="233.5" y1="72.02" x2="232.3" y2="72.02" stroke="#6a6a6a" stroke-width="0.5"/>
<line x1="236.8" y1="72.02" x2="238.0" y2="72.02" stroke="#6a6a6a" stroke-width="0.5"/>
<line x1="155.1" y1="81.66" x2="156.29999999999998" y2="81.66" stroke="#6a6a6a" stroke-width="0.5"/>
<line x1="233.5" y1="81.66" x2="232.3" y2="81.66" stroke="#6a6a6a" stroke-width="0.5"/>
<line x1="236.8" y1="81.66" x2="238.0" y2="81.66" stroke="#6a6a6a" stroke-width="0.5"/>
<line x1="155.1" y1="91.30" x2="156.29999999999998" y2="91.30" stroke="#6a6a6a" stroke-width="0.5"/>
<line x1="233.5" y1="91.30" x2="232.3" y2="91.30" stroke="#6a6a6a" stroke-width="0.5"/>
<line x1="236.8" y1="91.30" x2="238.0" y2="91.30" stroke="#6a6a6a" stroke-width="0.5"/>
<text x="153.79999999999998" y="17.7" font-size="5.3" text-anchor="end" font-weight="normal" fill="#2a2a2a" class="t" >4</text>
<text x="153.79999999999998" y="35.37499999999999" font-size="5.3" text-anchor="end" font-weight="normal" fill="#2a2a2a" class="t" >2</text>
<text x="153.79999999999998" y="54.65" font-size="5.3" text-anchor="end" font-weight="normal" fill="#2a2a2a" class="t" >0</text>
<text x="153.79999999999998" y="73.925" font-size="5.3" text-anchor="end" font-weight="normal" fill="#2a2a2a" class="t" >&#8211;2</text>
<text x="153.79999999999998" y="93.2" font-size="5.3" text-anchor="end" font-weight="normal" fill="#2a2a2a" class="t" >&#8211;4</text>
<text transform="translate(144.70,48.25) rotate(-90)" font-size="5.2" text-anchor="middle" fill="#2a2a2a" class="t">E - E<tspan font-size="3.8" dy="1.2">F</tspan><tspan dy="-1.2"> (eV)</tspan></text>
<text x="155.5" y="97.1" font-size="5.3" text-anchor="middle" font-weight="normal" fill="#2a2a2a" class="t" >&#915;</text>
<text x="167.3" y="97.1" font-size="5.3" text-anchor="middle" font-weight="normal" fill="#2a2a2a" class="t" >&#923;</text>
<text x="178.2" y="97.1" font-size="5.3" text-anchor="middle" font-weight="normal" fill="#2a2a2a" class="t" >K</text>
<text x="196.7" y="97.1" font-size="5.3" text-anchor="middle" font-weight="normal" fill="#2a2a2a" class="t" >M</text>
<text x="233.2" y="97.1" font-size="5.3" text-anchor="middle" font-weight="normal" fill="#2a2a2a" class="t" >&#915;</text>
<text x="253.05" y="97.1" font-size="5.3" text-anchor="middle" font-weight="normal" fill="#2a2a2a" class="t" >DOS</text>
<line x1="239.12" y1="14.2" x2="239.12" y2="15.1" stroke="#6a6a6a" stroke-width="0.4"/>
<line x1="239.12" y1="91.3" x2="239.12" y2="90.39999999999999" stroke="#6a6a6a" stroke-width="0.4"/>
<line x1="241.44" y1="14.2" x2="241.44" y2="15.1" stroke="#6a6a6a" stroke-width="0.4"/>
<line x1="241.44" y1="91.3" x2="241.44" y2="90.39999999999999" stroke="#6a6a6a" stroke-width="0.4"/>
<line x1="243.76" y1="14.2" x2="243.76" y2="15.1" stroke="#6a6a6a" stroke-width="0.4"/>
<line x1="243.76" y1="91.3" x2="243.76" y2="90.39999999999999" stroke="#6a6a6a" stroke-width="0.4"/>
<line x1="246.09" y1="14.2" x2="246.09" y2="15.1" stroke="#6a6a6a" stroke-width="0.4"/>
<line x1="246.09" y1="91.3" x2="246.09" y2="90.39999999999999" stroke="#6a6a6a" stroke-width="0.4"/>
<line x1="248.41" y1="14.2" x2="248.41" y2="15.1" stroke="#6a6a6a" stroke-width="0.4"/>
<line x1="248.41" y1="91.3" x2="248.41" y2="90.39999999999999" stroke="#6a6a6a" stroke-width="0.4"/>
<line x1="250.73" y1="14.2" x2="250.73" y2="15.1" stroke="#6a6a6a" stroke-width="0.4"/>
<line x1="250.73" y1="91.3" x2="250.73" y2="90.39999999999999" stroke="#6a6a6a" stroke-width="0.4"/>
<line x1="253.05" y1="14.2" x2="253.05" y2="15.1" stroke="#6a6a6a" stroke-width="0.4"/>
<line x1="253.05" y1="91.3" x2="253.05" y2="90.39999999999999" stroke="#6a6a6a" stroke-width="0.4"/>
<line x1="255.37" y1="14.2" x2="255.37" y2="15.1" stroke="#6a6a6a" stroke-width="0.4"/>
<line x1="255.37" y1="91.3" x2="255.37" y2="90.39999999999999" stroke="#6a6a6a" stroke-width="0.4"/>
<line x1="257.69" y1="14.2" x2="257.69" y2="15.1" stroke="#6a6a6a" stroke-width="0.4"/>
<line x1="257.69" y1="91.3" x2="257.69" y2="90.39999999999999" stroke="#6a6a6a" stroke-width="0.4"/>
<line x1="260.01" y1="14.2" x2="260.01" y2="15.1" stroke="#6a6a6a" stroke-width="0.4"/>
<line x1="260.01" y1="91.3" x2="260.01" y2="90.39999999999999" stroke="#6a6a6a" stroke-width="0.4"/>
<line x1="262.34" y1="14.2" x2="262.34" y2="15.1" stroke="#6a6a6a" stroke-width="0.4"/>
<line x1="262.34" y1="91.3" x2="262.34" y2="90.39999999999999" stroke="#6a6a6a" stroke-width="0.4"/>
<line x1="264.66" y1="14.2" x2="264.66" y2="15.1" stroke="#6a6a6a" stroke-width="0.4"/>
<line x1="264.66" y1="91.3" x2="264.66" y2="90.39999999999999" stroke="#6a6a6a" stroke-width="0.4"/>
<line x1="266.98" y1="14.2" x2="266.98" y2="15.1" stroke="#6a6a6a" stroke-width="0.4"/>
<line x1="266.98" y1="91.3" x2="266.98" y2="90.39999999999999" stroke="#6a6a6a" stroke-width="0.4"/>
<text x="230.3" y="49.9" font-size="5.3" text-anchor="end" font-weight="normal" fill="#2a2a2a" class="t" >0 GPa</text>
<line x1="155.1" y1="139.35" x2="233.5" y2="139.35" stroke="#d6d6d6" stroke-width="1.0"/>
<line x1="177.4" y1="101.2" x2="177.4" y2="177.5" stroke="#b4b4b4" stroke-width="0.8" stroke-dasharray="0.9 1.1"/>
<line x1="198.4" y1="101.2" x2="198.4" y2="177.5" stroke="#b4b4b4" stroke-width="0.8" stroke-dasharray="0.9 1.1"/>
<g clip-path="url(#cb1)"><ellipse cx="162.8" cy="105.4" rx="1.15" ry="0.9" fill="#e2641c" opacity="1.0"/>
<ellipse cx="164.3" cy="110.6" rx="1.15" ry="0.9" fill="#e2641c" opacity="1.0"/>
<ellipse cx="170.2" cy="112.8" rx="1.15" ry="0.9" fill="#e2641c" opacity="1.0"/>
<ellipse cx="172.4" cy="108.4" rx="1.15" ry="0.9" fill="#e2641c" opacity="1.0"/>
<ellipse cx="176" cy="107.6" rx="1.15" ry="0.9" fill="#e2641c" opacity="1.0"/>
<ellipse cx="181.2" cy="109.8" rx="1.15" ry="0.9" fill="#e2641c" opacity="1.0"/>
<ellipse cx="165" cy="101.9" rx="1.15" ry="0.9" fill="#e2641c" opacity="1.0"/>
<ellipse cx="158" cy="103" rx="1.15" ry="0.9" fill="#e2641c" opacity="1.0"/>
<ellipse cx="162" cy="102" rx="1.15" ry="0.9" fill="#e2641c" opacity="1.0"/>
<ellipse cx="166" cy="102" rx="1.15" ry="0.9" fill="#e2641c" opacity="1.0"/>
<ellipse cx="174" cy="103" rx="1.15" ry="0.9" fill="#e2641c" opacity="1.0"/>
<ellipse cx="180" cy="103" rx="1.15" ry="0.9" fill="#e2641c" opacity="1.0"/>
<ellipse cx="183" cy="104" rx="1.15" ry="0.9" fill="#e2641c" opacity="1.0"/>
<ellipse cx="194" cy="101.8" rx="1.15" ry="0.9" fill="#e2641c" opacity="1.0"/>
<ellipse cx="208" cy="103" rx="1.15" ry="0.9" fill="#e2641c" opacity="1.0"/>
<ellipse cx="214" cy="102" rx="1.15" ry="0.9" fill="#e2641c" opacity="1.0"/>
<ellipse cx="222" cy="102" rx="1.15" ry="0.9" fill="#e2641c" opacity="1.0"/>
<ellipse cx="228" cy="102" rx="1.15" ry="0.9" fill="#e2641c" opacity="1.0"/>
<ellipse cx="186" cy="102.2" rx="1.15" ry="0.9" fill="#e2641c" opacity="1.0"/>
<ellipse cx="156.5" cy="102" rx="1.15" ry="0.9" fill="#e2641c" opacity="1.0"/>
<ellipse cx="216.5" cy="106.9" rx="1.15" ry="0.9" fill="#e2641c" opacity="1.0"/>
<ellipse cx="218.7" cy="111.3" rx="1.15" ry="0.9" fill="#e2641c" opacity="1.0"/>
<ellipse cx="223.9" cy="111.3" rx="1.15" ry="0.9" fill="#e2641c" opacity="1.0"/>
<ellipse cx="226.1" cy="106.9" rx="1.15" ry="0.9" fill="#e2641c" opacity="1.0"/>
<ellipse cx="222" cy="102.5" rx="1.15" ry="0.9" fill="#e2641c" opacity="1.0"/>
<ellipse cx="228.5" cy="102.5" rx="1.15" ry="0.9" fill="#e2641c" opacity="1.0"/>
<ellipse cx="159.1" cy="152.7" rx="1.15" ry="0.9" fill="#e2641c" opacity="1.0"/>
<ellipse cx="156.2" cy="158.6" rx="1.15" ry="0.9" fill="#e2641c" opacity="1.0"/>
<ellipse cx="158.5" cy="168.8" rx="1.15" ry="0.9" fill="#e2641c" opacity="1.0"/>
<ellipse cx="160.6" cy="173.3" rx="1.15" ry="0.9" fill="#e2641c" opacity="1.0"/>
<ellipse cx="165" cy="171.8" rx="1.15" ry="0.9" fill="#e2641c" opacity="1.0"/>
<ellipse cx="167.2" cy="168.9" rx="1.15" ry="0.9" fill="#e2641c" opacity="1.0"/>
<ellipse cx="168.7" cy="171" rx="1.15" ry="0.9" fill="#e2641c" opacity="1.0"/>
<ellipse cx="174.6" cy="157.1" rx="1.15" ry="0.9" fill="#e2641c" opacity="1.0"/>
<ellipse cx="176" cy="160.8" rx="1.15" ry="0.9" fill="#e2641c" opacity="1.0"/>
<ellipse cx="176" cy="148.5" rx="1.15" ry="0.9" fill="#e2641c" opacity="1.0"/>
<ellipse cx="170.2" cy="149" rx="1.15" ry="0.9" fill="#e2641c" opacity="1.0"/>
<ellipse cx="186.5" cy="157.8" rx="1.15" ry="0.9" fill="#e2641c" opacity="1.0"/>
<ellipse cx="188.1" cy="151" rx="1.15" ry="0.9" fill="#e2641c" opacity="1.0"/>
<ellipse cx="184.3" cy="166.7" rx="1.15" ry="0.9" fill="#e2641c" opacity="1.0"/>
<ellipse cx="183.4" cy="175.5" rx="1.15" ry="0.9" fill="#e2641c" opacity="1.0"/>
<ellipse cx="162.8" cy="177" rx="1.15" ry="0.9" fill="#e2641c" opacity="1.0"/>
<ellipse cx="201.1" cy="154.2" rx="1.15" ry="0.9" fill="#e2641c" opacity="1.0"/>
<ellipse cx="204.7" cy="151.8" rx="1.15" ry="0.9" fill="#e2641c" opacity="1.0"/>
<ellipse cx="207" cy="155" rx="1.15" ry="0.9" fill="#e2641c" opacity="1.0"/>
<ellipse cx="208.5" cy="158.6" rx="1.15" ry="0.9" fill="#e2641c" opacity="1.0"/>
<ellipse cx="211.4" cy="160.8" rx="1.15" ry="0.9" fill="#e2641c" opacity="1.0"/>
<ellipse cx="214.3" cy="158.6" rx="1.15" ry="0.9" fill="#e2641c" opacity="1.0"/>
<ellipse cx="216.5" cy="155.6" rx="1.15" ry="0.9" fill="#e2641c" opacity="1.0"/>
<ellipse cx="200.4" cy="167.4" rx="1.15" ry="0.9" fill="#e2641c" opacity="1.0"/>
<ellipse cx="202.6" cy="173.3" rx="1.15" ry="0.9" fill="#e2641c" opacity="1.0"/>
<ellipse cx="212.1" cy="173.3" rx="1.15" ry="0.9" fill="#e2641c" opacity="1.0"/>
<ellipse cx="215" cy="171.1" rx="1.15" ry="0.9" fill="#e2641c" opacity="1.0"/>
<ellipse cx="217.3" cy="171.8" rx="1.15" ry="0.9" fill="#e2641c" opacity="1.0"/>
<ellipse cx="220.2" cy="168.9" rx="1.15" ry="0.9" fill="#e2641c" opacity="1.0"/>
<ellipse cx="222.4" cy="167.4" rx="1.15" ry="0.9" fill="#e2641c" opacity="1.0"/>
<ellipse cx="224.6" cy="170.4" rx="1.15" ry="0.9" fill="#e2641c" opacity="1.0"/>
<ellipse cx="228.3" cy="171.8" rx="1.15" ry="0.9" fill="#e2641c" opacity="1.0"/>
<ellipse cx="230.5" cy="168.1" rx="1.15" ry="0.9" fill="#e2641c" opacity="1.0"/>
<ellipse cx="232" cy="165.2" rx="1.15" ry="0.9" fill="#e2641c" opacity="1.0"/>
<ellipse cx="232.7" cy="157.1" rx="1.15" ry="0.9" fill="#e2641c" opacity="1.0"/>
<ellipse cx="229.8" cy="152.7" rx="1.15" ry="0.9" fill="#e2641c" opacity="1.0"/>
<ellipse cx="228.3" cy="149.8" rx="1.15" ry="0.9" fill="#e2641c" opacity="1.0"/>
<ellipse cx="223.9" cy="151.2" rx="1.15" ry="0.9" fill="#e2641c" opacity="1.0"/>
<ellipse cx="210.6" cy="175.5" rx="1.15" ry="0.9" fill="#e2641c" opacity="1.0"/>
<ellipse cx="199.6" cy="162" rx="1.15" ry="0.9" fill="#e2641c" opacity="1.0"/><ellipse cx="167.2" cy="115" rx="1.2" ry="0.9" fill="#9a2206" opacity="1.0"/>
<ellipse cx="168.3" cy="115.8" rx="1.2" ry="0.9" fill="#9a2206" opacity="1.0"/>
<ellipse cx="174.6" cy="103.9" rx="1.2" ry="0.9" fill="#9a2206" opacity="1.0"/>
<ellipse cx="178.3" cy="106.1" rx="1.2" ry="0.9" fill="#9a2206" opacity="1.0"/>
<ellipse cx="179.3" cy="112.8" rx="1.2" ry="0.9" fill="#9a2206" opacity="1.0"/>
<ellipse cx="182.7" cy="103.9" rx="1.2" ry="0.9" fill="#9a2206" opacity="1.0"/>
<ellipse cx="220.2" cy="114.2" rx="1.2" ry="0.9" fill="#9a2206" opacity="1.0"/>
<ellipse cx="221.5" cy="113.6" rx="1.2" ry="0.9" fill="#9a2206" opacity="1.0"/>
<ellipse cx="156.9" cy="165.2" rx="1.2" ry="0.9" fill="#9a2206" opacity="1.0"/>
<ellipse cx="157.8" cy="165.6" rx="1.2" ry="0.9" fill="#9a2206" opacity="1.0"/><path d="M188.60,145.80C188.98,146.38 190.13,148.05 190.90,149.30C191.67,150.55 192.42,151.88 193.20,153.30C193.98,154.72 195.20,157.05 195.60,157.80" fill="none" stroke="#a82a0a" stroke-width="0.55" stroke-linecap="round" stroke-linejoin="round"/>
<path d="M190.00,145.50C190.37,146.08 191.47,147.75 192.20,149.00C192.93,150.25 193.63,151.53 194.40,153.00C195.17,154.47 196.40,157.00 196.80,157.80" fill="none" stroke="#a82a0a" stroke-width="0.55" stroke-linecap="round" stroke-linejoin="round"/><path d="M155.50,147.40C156.08,147.40 157.78,147.62 159.00,147.40C160.22,147.18 161.80,146.43 162.80,146.10C163.80,145.77 164.27,145.32 165.00,145.40C165.73,145.48 166.45,146.17 167.20,146.60C167.95,147.03 169.12,147.77 169.50,148.00" fill="none" stroke="#ec6a26" stroke-width="1.35" stroke-linecap="round" stroke-linejoin="round" opacity="0.9"/>
<path d="M155.50,147.40C156.08,147.40 157.78,147.62 159.00,147.40C160.22,147.18 161.80,146.43 162.80,146.10C163.80,145.77 164.27,145.32 165.00,145.40C165.73,145.48 166.45,146.17 167.20,146.60C167.95,147.03 169.12,147.77 169.50,148.00" fill="none" stroke="#2a0400" stroke-width="0.85" stroke-linecap="round" stroke-linejoin="round" stroke-dasharray="1.2 0.6"/>
<path d="M165.80,152.50C166.50,152.50 168.78,152.62 170.00,152.50C171.22,152.38 172.22,152.38 173.10,151.80C173.98,151.22 174.93,149.47 175.30,149.00" fill="none" stroke="#ec6a26" stroke-width="1.35" stroke-linecap="round" stroke-linejoin="round" opacity="0.9"/>
<path d="M165.80,152.50C166.50,152.50 168.78,152.62 170.00,152.50C171.22,152.38 172.22,152.38 173.10,151.80C173.98,151.22 174.93,149.47 175.30,149.00" fill="none" stroke="#2a0400" stroke-width="0.85" stroke-linecap="round" stroke-linejoin="round" stroke-dasharray="1.2 0.6"/>
<path d="M177.10,145.20C177.47,145.25 178.38,145.27 179.30,145.50C180.22,145.73 181.50,146.60 182.60,146.60C183.70,146.60 184.80,145.87 185.90,145.50C187.00,145.13 188.28,144.45 189.20,144.40C190.12,144.35 190.67,144.80 191.40,145.20C192.13,145.60 192.87,145.80 193.60,146.80C194.33,147.80 195.15,149.63 195.80,151.20C196.45,152.77 197.03,155.10 197.50,156.20C197.97,157.30 198.42,157.53 198.60,157.80" fill="none" stroke="#ec6a26" stroke-width="1.35" stroke-linecap="round" stroke-linejoin="round" opacity="0.9"/>
<path d="M177.10,145.20C177.47,145.25 178.38,145.27 179.30,145.50C180.22,145.73 181.50,146.60 182.60,146.60C183.70,146.60 184.80,145.87 185.90,145.50C187.00,145.13 188.28,144.45 189.20,144.40C190.12,144.35 190.67,144.80 191.40,145.20C192.13,145.60 192.87,145.80 193.60,146.80C194.33,147.80 195.15,149.63 195.80,151.20C196.45,152.77 197.03,155.10 197.50,156.20C197.97,157.30 198.42,157.53 198.60,157.80" fill="none" stroke="#2a0400" stroke-width="0.85" stroke-linecap="round" stroke-linejoin="round" stroke-dasharray="1.2 0.6"/>
<path d="M177.10,162.80C177.47,162.90 178.38,163.58 179.30,163.40C180.22,163.22 181.50,161.80 182.60,161.70C183.70,161.60 184.80,162.48 185.90,162.80C187.00,163.12 188.10,163.55 189.20,163.60C190.30,163.65 191.48,163.50 192.50,163.10C193.52,162.70 194.38,161.98 195.30,161.20C196.22,160.42 197.55,158.87 198.00,158.40" fill="none" stroke="#ec6a26" stroke-width="1.35" stroke-linecap="round" stroke-linejoin="round" opacity="0.9"/>
<path d="M177.10,162.80C177.47,162.90 178.38,163.58 179.30,163.40C180.22,163.22 181.50,161.80 182.60,161.70C183.70,161.60 184.80,162.48 185.90,162.80C187.00,163.12 188.10,163.55 189.20,163.60C190.30,163.65 191.48,163.50 192.50,163.10C193.52,162.70 194.38,161.98 195.30,161.20C196.22,160.42 197.55,158.87 198.00,158.40" fill="none" stroke="#2a0400" stroke-width="0.85" stroke-linecap="round" stroke-linejoin="round" stroke-dasharray="1.2 0.6"/>
<path d="M198.90,152.50C199.38,152.28 200.83,151.28 201.80,151.20C202.77,151.12 203.75,152.20 204.70,152.00C205.65,151.80 206.38,150.73 207.50,150.00C208.62,149.27 210.15,147.63 211.40,147.60C212.65,147.57 213.78,149.07 215.00,149.80C216.22,150.53 217.53,152.13 218.70,152.00C219.87,151.87 220.88,149.73 222.00,149.00C223.12,148.27 224.15,147.83 225.40,147.60C226.65,147.37 228.17,147.60 229.50,147.60C230.83,147.60 232.75,147.60 233.40,147.60" fill="none" stroke="#ec6a26" stroke-width="1.35" stroke-linecap="round" stroke-linejoin="round" opacity="0.9"/>
<path d="M198.90,152.50C199.38,152.28 200.83,151.28 201.80,151.20C202.77,151.12 203.75,152.20 204.70,152.00C205.65,151.80 206.38,150.73 207.50,150.00C208.62,149.27 210.15,147.63 211.40,147.60C212.65,147.57 213.78,149.07 215.00,149.80C216.22,150.53 217.53,152.13 218.70,152.00C219.87,151.87 220.88,149.73 222.00,149.00C223.12,148.27 224.15,147.83 225.40,147.60C226.65,147.37 228.17,147.60 229.50,147.60C230.83,147.60 232.75,147.60 233.40,147.60" fill="none" stroke="#2a0400" stroke-width="0.85" stroke-linecap="round" stroke-linejoin="round" stroke-dasharray="1.2 0.6"/><path d="M195.50,101.50C195.75,102.00 196.48,103.37 197.00,104.50C197.52,105.63 197.90,107.35 198.60,108.30C199.30,109.25 200.18,110.15 201.20,110.20C202.22,110.25 203.62,109.33 204.70,108.60C205.78,107.87 206.72,106.57 207.70,105.80C208.68,105.03 209.62,104.55 210.60,104.00C211.58,103.45 213.10,102.75 213.60,102.50" fill="none" stroke="#ea6a22" stroke-width="1.6" stroke-linecap="round" stroke-linejoin="round" opacity="0.9"/>
<path d="M195.50,101.50C195.75,102.00 196.48,103.37 197.00,104.50C197.52,105.63 197.90,107.35 198.60,108.30C199.30,109.25 200.18,110.15 201.20,110.20C202.22,110.25 203.62,109.33 204.70,108.60C205.78,107.87 206.72,106.57 207.70,105.80C208.68,105.03 209.62,104.55 210.60,104.00C211.58,103.45 213.10,102.75 213.60,102.50" fill="none" stroke="#8a1a04" stroke-width="0.8" stroke-linecap="round" stroke-linejoin="round" stroke-dasharray="1.0 0.9"/></g>
<g clip-path="url(#db1)"><path d="M241.60,102.50 L249.70,102.80 L264.40,102.80 L251.20,103.90 L246.80,105.40 L246.00,107.60 L248.20,109.10 L250.40,110.60 L246.80,112.00 L242.40,113.50 L237.90,115.00 L236.90,115.70" fill="none" stroke="#1a1a1a" stroke-width="0.85" stroke-linejoin="round" stroke-linecap="round"/>
<path d="M236.90,142.40 L244.30,143.90 L258.20,145.50 L268.20,147.00 L265.10,148.60 L266.70,151.70 L258.20,154.00 L250.50,155.50 L248.90,157.80 L252.00,160.20 L255.10,161.70 L250.50,163.30 L245.80,164.80 L247.40,167.90 L245.00,171.00 L247.40,174.10 L244.30,176.40 L242.70,177.00" fill="none" stroke="#1a1a1a" stroke-width="0.85" stroke-linejoin="round" stroke-linecap="round"/>
<path d="M240.90,102.50 L240.10,103.90 L239.40,106.90 L238.70,109.80 L237.90,112.80 L236.90,115.00" fill="none" stroke="#f01a1a" stroke-width="0.85" stroke-linejoin="round" stroke-linecap="round"/>
<path d="M236.90,143.20 L239.60,144.70 L242.70,146.30 L243.50,148.60 L241.20,150.90 L239.60,154.00 L238.90,157.10 L239.60,160.20 L240.40,163.30 L238.90,166.30 L239.60,171.00 L238.90,175.60 L239.00,177.00" fill="none" stroke="#f01a1a" stroke-width="0.85" stroke-linejoin="round" stroke-linecap="round"/>
<path d="M239.40,102.50 L239.40,106.90 L238.70,111.30 L237.20,115.00" fill="none" stroke="#1f9a1f" stroke-width="0.85" stroke-linejoin="round" stroke-linecap="round"/>
<path d="M236.90,143.20 L239.60,144.70 L242.00,146.30 L241.20,149.40 L239.60,152.40 L238.90,157.10 L239.60,160.20 L240.40,163.30 L238.90,167.90 L238.90,172.50 L238.90,177.00" fill="none" stroke="#1f9a1f" stroke-width="0.85" stroke-linejoin="round" stroke-linecap="round"/>
<path d="M238.70,102.50 L238.70,106.90 L237.90,111.30 L237.00,115.00 L237.00,143.00" fill="none" stroke="#1a2cf0" stroke-width="0.85" stroke-linejoin="round" stroke-linecap="round"/>
<path d="M236.90,143.20 L242.70,144.70 L248.90,146.30 L250.50,149.40 L249.70,151.70 L245.00,153.20 L243.50,155.50 L246.60,158.60 L247.40,160.90 L244.30,162.50 L240.40,164.00 L240.40,167.10 L241.20,170.20 L240.40,174.10 L239.60,177.00" fill="none" stroke="#1a2cf0" stroke-width="0.85" stroke-linejoin="round" stroke-linecap="round"/></g>
<rect x="155.1" y="101.2" width="78.40" height="76.30" fill="none" stroke="#6a6a6a" stroke-width="0.8"/>
<rect x="236.8" y="101.2" width="32.50" height="76.30" fill="none" stroke="#6a6a6a" stroke-width="0.8"/>
<line x1="155.1" y1="101.20" x2="156.29999999999998" y2="101.20" stroke="#6a6a6a" stroke-width="0.5"/>
<line x1="233.5" y1="101.20" x2="232.3" y2="101.20" stroke="#6a6a6a" stroke-width="0.5"/>
<line x1="236.8" y1="101.20" x2="238.0" y2="101.20" stroke="#6a6a6a" stroke-width="0.5"/>
<line x1="155.1" y1="110.74" x2="156.29999999999998" y2="110.74" stroke="#6a6a6a" stroke-width="0.5"/>
<line x1="233.5" y1="110.74" x2="232.3" y2="110.74" stroke="#6a6a6a" stroke-width="0.5"/>
<line x1="236.8" y1="110.74" x2="238.0" y2="110.74" stroke="#6a6a6a" stroke-width="0.5"/>
<line x1="155.1" y1="120.28" x2="156.29999999999998" y2="120.28" stroke="#6a6a6a" stroke-width="0.5"/>
<line x1="233.5" y1="120.28" x2="232.3" y2="120.28" stroke="#6a6a6a" stroke-width="0.5"/>
<line x1="236.8" y1="120.28" x2="238.0" y2="120.28" stroke="#6a6a6a" stroke-width="0.5"/>
<line x1="155.1" y1="129.81" x2="156.29999999999998" y2="129.81" stroke="#6a6a6a" stroke-width="0.5"/>
<line x1="233.5" y1="129.81" x2="232.3" y2="129.81" stroke="#6a6a6a" stroke-width="0.5"/>
<line x1="236.8" y1="129.81" x2="238.0" y2="129.81" stroke="#6a6a6a" stroke-width="0.5"/>
<line x1="155.1" y1="139.35" x2="156.29999999999998" y2="139.35" stroke="#6a6a6a" stroke-width="0.5"/>
<line x1="233.5" y1="139.35" x2="232.3" y2="139.35" stroke="#6a6a6a" stroke-width="0.5"/>
<line x1="236.8" y1="139.35" x2="238.0" y2="139.35" stroke="#6a6a6a" stroke-width="0.5"/>
<line x1="155.1" y1="148.89" x2="156.29999999999998" y2="148.89" stroke="#6a6a6a" stroke-width="0.5"/>
<line x1="233.5" y1="148.89" x2="232.3" y2="148.89" stroke="#6a6a6a" stroke-width="0.5"/>
<line x1="236.8" y1="148.89" x2="238.0" y2="148.89" stroke="#6a6a6a" stroke-width="0.5"/>
<line x1="155.1" y1="158.43" x2="156.29999999999998" y2="158.43" stroke="#6a6a6a" stroke-width="0.5"/>
<line x1="233.5" y1="158.43" x2="232.3" y2="158.43" stroke="#6a6a6a" stroke-width="0.5"/>
<line x1="236.8" y1="158.43" x2="238.0" y2="158.43" stroke="#6a6a6a" stroke-width="0.5"/>
<line x1="155.1" y1="167.96" x2="156.29999999999998" y2="167.96" stroke="#6a6a6a" stroke-width="0.5"/>
<line x1="233.5" y1="167.96" x2="232.3" y2="167.96" stroke="#6a6a6a" stroke-width="0.5"/>
<line x1="236.8" y1="167.96" x2="238.0" y2="167.96" stroke="#6a6a6a" stroke-width="0.5"/>
<line x1="155.1" y1="177.50" x2="156.29999999999998" y2="177.50" stroke="#6a6a6a" stroke-width="0.5"/>
<line x1="233.5" y1="177.50" x2="232.3" y2="177.50" stroke="#6a6a6a" stroke-width="0.5"/>
<line x1="236.8" y1="177.50" x2="238.0" y2="177.50" stroke="#6a6a6a" stroke-width="0.5"/>
<text x="153.79999999999998" y="104.7" font-size="5.3" text-anchor="end" font-weight="normal" fill="#2a2a2a" class="t" >4</text>
<text x="153.79999999999998" y="122.17500000000001" font-size="5.3" text-anchor="end" font-weight="normal" fill="#2a2a2a" class="t" >2</text>
<text x="153.79999999999998" y="141.25" font-size="5.3" text-anchor="end" font-weight="normal" fill="#2a2a2a" class="t" >0</text>
<text x="153.79999999999998" y="160.32500000000002" font-size="5.3" text-anchor="end" font-weight="normal" fill="#2a2a2a" class="t" >&#8211;2</text>
<text x="153.79999999999998" y="179.4" font-size="5.3" text-anchor="end" font-weight="normal" fill="#2a2a2a" class="t" >&#8211;4</text>
<text transform="translate(144.70,134.85) rotate(-90)" font-size="5.2" text-anchor="middle" fill="#2a2a2a" class="t">E - E<tspan font-size="3.8" dy="1.2">F</tspan><tspan dy="-1.2"> (eV)</tspan></text>
<text x="155.5" y="183.3" font-size="5.3" text-anchor="middle" font-weight="normal" fill="#2a2a2a" class="t" >&#915;</text>
<text x="167.3" y="183.3" font-size="5.3" text-anchor="middle" font-weight="normal" fill="#2a2a2a" class="t" >&#923;</text>
<text x="177.6" y="183.3" font-size="5.3" text-anchor="middle" font-weight="normal" fill="#2a2a2a" class="t" >K</text>
<text x="198.2" y="183.3" font-size="5.3" text-anchor="middle" font-weight="normal" fill="#2a2a2a" class="t" >M</text>
<text x="233.2" y="183.3" font-size="5.3" text-anchor="middle" font-weight="normal" fill="#2a2a2a" class="t" >&#915;</text>
<text x="253.05" y="183.3" font-size="5.3" text-anchor="middle" font-weight="normal" fill="#2a2a2a" class="t" >DOS</text>
<line x1="239.12" y1="101.2" x2="239.12" y2="102.10000000000001" stroke="#6a6a6a" stroke-width="0.4"/>
<line x1="239.12" y1="177.5" x2="239.12" y2="176.6" stroke="#6a6a6a" stroke-width="0.4"/>
<line x1="241.44" y1="101.2" x2="241.44" y2="102.10000000000001" stroke="#6a6a6a" stroke-width="0.4"/>
<line x1="241.44" y1="177.5" x2="241.44" y2="176.6" stroke="#6a6a6a" stroke-width="0.4"/>
<line x1="243.76" y1="101.2" x2="243.76" y2="102.10000000000001" stroke="#6a6a6a" stroke-width="0.4"/>
<line x1="243.76" y1="177.5" x2="243.76" y2="176.6" stroke="#6a6a6a" stroke-width="0.4"/>
<line x1="246.09" y1="101.2" x2="246.09" y2="102.10000000000001" stroke="#6a6a6a" stroke-width="0.4"/>
<line x1="246.09" y1="177.5" x2="246.09" y2="176.6" stroke="#6a6a6a" stroke-width="0.4"/>
<line x1="248.41" y1="101.2" x2="248.41" y2="102.10000000000001" stroke="#6a6a6a" stroke-width="0.4"/>
<line x1="248.41" y1="177.5" x2="248.41" y2="176.6" stroke="#6a6a6a" stroke-width="0.4"/>
<line x1="250.73" y1="101.2" x2="250.73" y2="102.10000000000001" stroke="#6a6a6a" stroke-width="0.4"/>
<line x1="250.73" y1="177.5" x2="250.73" y2="176.6" stroke="#6a6a6a" stroke-width="0.4"/>
<line x1="253.05" y1="101.2" x2="253.05" y2="102.10000000000001" stroke="#6a6a6a" stroke-width="0.4"/>
<line x1="253.05" y1="177.5" x2="253.05" y2="176.6" stroke="#6a6a6a" stroke-width="0.4"/>
<line x1="255.37" y1="101.2" x2="255.37" y2="102.10000000000001" stroke="#6a6a6a" stroke-width="0.4"/>
<line x1="255.37" y1="177.5" x2="255.37" y2="176.6" stroke="#6a6a6a" stroke-width="0.4"/>
<line x1="257.69" y1="101.2" x2="257.69" y2="102.10000000000001" stroke="#6a6a6a" stroke-width="0.4"/>
<line x1="257.69" y1="177.5" x2="257.69" y2="176.6" stroke="#6a6a6a" stroke-width="0.4"/>
<line x1="260.01" y1="101.2" x2="260.01" y2="102.10000000000001" stroke="#6a6a6a" stroke-width="0.4"/>
<line x1="260.01" y1="177.5" x2="260.01" y2="176.6" stroke="#6a6a6a" stroke-width="0.4"/>
<line x1="262.34" y1="101.2" x2="262.34" y2="102.10000000000001" stroke="#6a6a6a" stroke-width="0.4"/>
<line x1="262.34" y1="177.5" x2="262.34" y2="176.6" stroke="#6a6a6a" stroke-width="0.4"/>
<line x1="264.66" y1="101.2" x2="264.66" y2="102.10000000000001" stroke="#6a6a6a" stroke-width="0.4"/>
<line x1="264.66" y1="177.5" x2="264.66" y2="176.6" stroke="#6a6a6a" stroke-width="0.4"/>
<line x1="266.98" y1="101.2" x2="266.98" y2="102.10000000000001" stroke="#6a6a6a" stroke-width="0.4"/>
<line x1="266.98" y1="177.5" x2="266.98" y2="176.6" stroke="#6a6a6a" stroke-width="0.4"/>
<text x="232.3" y="136.8" font-size="5.3" text-anchor="end" font-weight="normal" fill="#2a2a2a" class="t" >15 GPa</text>
<line x1="155.1" y1="225.60" x2="233.5" y2="225.60" stroke="#d6d6d6" stroke-width="1.0"/>
<line x1="178.0" y1="186.8" x2="178.0" y2="264.4" stroke="#b4b4b4" stroke-width="0.8" stroke-dasharray="0.9 1.1"/>
<line x1="198.0" y1="186.8" x2="198.0" y2="264.4" stroke="#b4b4b4" stroke-width="0.8" stroke-dasharray="0.9 1.1"/>
<g clip-path="url(#cb2)"><ellipse cx="162.0" cy="187.6" rx="1.80" ry="1.23" fill="#ee7a2c" opacity="0.85"/>
<ellipse cx="162.0" cy="187.6" rx="1.22" ry="0.76" fill="#8c1c06"/>
<ellipse cx="157.2" cy="195.6" rx="2.00" ry="1.37" fill="#ee7a2c" opacity="0.85" transform="rotate(-50 157.2 195.6)"/>
<ellipse cx="157.2" cy="195.6" rx="1.36" ry="0.84" fill="#8c1c06" transform="rotate(-50 157.2 195.6)"/>
<ellipse cx="168.7" cy="195.1" rx="2.40" ry="1.64" fill="#ee7a2c" opacity="0.85"/>
<ellipse cx="168.7" cy="195.1" rx="1.63" ry="1.01" fill="#8c1c06"/>
<ellipse cx="174.6" cy="196.6" rx="2.20" ry="1.50" fill="#ee7a2c" opacity="0.85" transform="rotate(45 174.6 196.6)"/>
<ellipse cx="174.6" cy="196.6" rx="1.50" ry="0.92" fill="#8c1c06" transform="rotate(45 174.6 196.6)"/>
<ellipse cx="162.1" cy="198.4" rx="1.80" ry="1.23" fill="#ee7a2c" opacity="0.85"/>
<ellipse cx="162.1" cy="198.4" rx="1.22" ry="0.76" fill="#8c1c06"/>
<ellipse cx="164.3" cy="201.3" rx="1.80" ry="1.23" fill="#ee7a2c" opacity="0.85"/>
<ellipse cx="164.3" cy="201.3" rx="1.22" ry="0.76" fill="#8c1c06"/>
<ellipse cx="171.6" cy="203.2" rx="2.20" ry="1.50" fill="#ee7a2c" opacity="0.85"/>
<ellipse cx="171.6" cy="203.2" rx="1.50" ry="0.92" fill="#8c1c06"/>
<ellipse cx="165.0" cy="205.3" rx="2.00" ry="1.37" fill="#ee7a2c" opacity="0.85"/>
<ellipse cx="165.0" cy="205.3" rx="1.36" ry="0.84" fill="#8c1c06"/>
<ellipse cx="182.0" cy="194.4" rx="1.80" ry="1.23" fill="#ee7a2c" opacity="0.85"/>
<ellipse cx="182.0" cy="194.4" rx="1.22" ry="0.76" fill="#8c1c06"/>
<ellipse cx="181.2" cy="202.8" rx="1.80" ry="1.23" fill="#ee7a2c" opacity="0.85"/>
<ellipse cx="181.2" cy="202.8" rx="1.22" ry="0.76" fill="#8c1c06"/>
<ellipse cx="178.3" cy="208.3" rx="2.00" ry="1.37" fill="#ee7a2c" opacity="0.85"/>
<ellipse cx="178.3" cy="208.3" rx="1.36" ry="0.84" fill="#8c1c06"/>
<ellipse cx="184.1" cy="193.6" rx="2.00" ry="1.37" fill="#ee7a2c" opacity="0.85"/>
<ellipse cx="184.1" cy="193.6" rx="1.36" ry="0.84" fill="#8c1c06"/>
<ellipse cx="185.6" cy="190.0" rx="1.60" ry="1.09" fill="#ee7a2c" opacity="0.85"/>
<ellipse cx="185.6" cy="190.0" rx="1.09" ry="0.67" fill="#8c1c06"/>
<ellipse cx="186.4" cy="202.9" rx="1.60" ry="1.09" fill="#ee7a2c" opacity="0.85"/>
<ellipse cx="186.4" cy="202.9" rx="1.09" ry="0.67" fill="#8c1c06"/>
<ellipse cx="165.0" cy="205.4" rx="1.80" ry="1.23" fill="#ee7a2c" opacity="0.85"/>
<ellipse cx="165.0" cy="205.4" rx="1.22" ry="0.76" fill="#8c1c06"/>
<ellipse cx="165.8" cy="214.2" rx="1.60" ry="1.09" fill="#ee7a2c" opacity="0.85"/>
<ellipse cx="165.8" cy="214.2" rx="1.09" ry="0.67" fill="#8c1c06"/>
<ellipse cx="169.4" cy="212.0" rx="1.60" ry="1.09" fill="#ee7a2c" opacity="0.85"/>
<ellipse cx="169.4" cy="212.0" rx="1.09" ry="0.67" fill="#8c1c06"/>
<ellipse cx="173.9" cy="210.5" rx="1.60" ry="1.09" fill="#ee7a2c" opacity="0.85"/>
<ellipse cx="173.9" cy="210.5" rx="1.09" ry="0.67" fill="#8c1c06"/>
<ellipse cx="179.7" cy="210.5" rx="1.60" ry="1.09" fill="#ee7a2c" opacity="0.85"/>
<ellipse cx="179.7" cy="210.5" rx="1.09" ry="0.67" fill="#8c1c06"/>
<ellipse cx="168.0" cy="217.9" rx="1.60" ry="1.09" fill="#ee7a2c" opacity="0.85"/>
<ellipse cx="168.0" cy="217.9" rx="1.09" ry="0.67" fill="#8c1c06"/>
<ellipse cx="176.0" cy="218.6" rx="1.60" ry="1.09" fill="#ee7a2c" opacity="0.85"/>
<ellipse cx="176.0" cy="218.6" rx="1.09" ry="0.67" fill="#8c1c06"/>
<ellipse cx="181.2" cy="217.9" rx="1.60" ry="1.09" fill="#ee7a2c" opacity="0.85"/>
<ellipse cx="181.2" cy="217.9" rx="1.09" ry="0.67" fill="#8c1c06"/>
<ellipse cx="187.1" cy="203.2" rx="1.60" ry="1.09" fill="#ee7a2c" opacity="0.85"/>
<ellipse cx="187.1" cy="203.2" rx="1.09" ry="0.67" fill="#8c1c06"/>
<ellipse cx="206.0" cy="200.4" rx="1.80" ry="1.23" fill="#ee7a2c" opacity="0.85"/>
<ellipse cx="206.0" cy="200.4" rx="1.22" ry="0.76" fill="#8c1c06"/>
<ellipse cx="207.2" cy="198.0" rx="1.60" ry="1.09" fill="#ee7a2c" opacity="0.85"/>
<ellipse cx="207.2" cy="198.0" rx="1.09" ry="0.67" fill="#8c1c06"/>
<ellipse cx="205.4" cy="203.5" rx="1.60" ry="1.09" fill="#ee7a2c" opacity="0.85"/>
<ellipse cx="205.4" cy="203.5" rx="1.09" ry="0.67" fill="#8c1c06"/>
<ellipse cx="213.3" cy="201.1" rx="1.80" ry="1.23" fill="#ee7a2c" opacity="0.85"/>
<ellipse cx="213.3" cy="201.1" rx="1.22" ry="0.76" fill="#8c1c06"/>
<ellipse cx="217.0" cy="202.3" rx="1.60" ry="1.09" fill="#ee7a2c" opacity="0.85"/>
<ellipse cx="217.0" cy="202.3" rx="1.09" ry="0.67" fill="#8c1c06"/>
<ellipse cx="223.1" cy="199.2" rx="1.80" ry="1.23" fill="#ee7a2c" opacity="0.85"/>
<ellipse cx="223.1" cy="199.2" rx="1.22" ry="0.76" fill="#8c1c06"/>
<ellipse cx="226.2" cy="202.3" rx="1.60" ry="1.09" fill="#ee7a2c" opacity="0.85"/>
<ellipse cx="226.2" cy="202.3" rx="1.09" ry="0.67" fill="#8c1c06"/>
<ellipse cx="230.5" cy="200.4" rx="1.60" ry="1.09" fill="#ee7a2c" opacity="0.85"/>
<ellipse cx="230.5" cy="200.4" rx="1.09" ry="0.67" fill="#8c1c06"/>
<ellipse cx="211.5" cy="206.0" rx="1.60" ry="1.09" fill="#ee7a2c" opacity="0.85"/>
<ellipse cx="211.5" cy="206.0" rx="1.09" ry="0.67" fill="#8c1c06"/>
<ellipse cx="218.2" cy="188.2" rx="1.80" ry="1.23" fill="#ee7a2c" opacity="0.85"/>
<ellipse cx="218.2" cy="188.2" rx="1.22" ry="0.76" fill="#8c1c06"/>
<ellipse cx="220.7" cy="193.1" rx="1.80" ry="1.23" fill="#ee7a2c" opacity="0.85"/>
<ellipse cx="220.7" cy="193.1" rx="1.22" ry="0.76" fill="#8c1c06"/>
<ellipse cx="210" cy="194" rx="2.00" ry="1.37" fill="#ee7a2c" opacity="0.85"/>
<ellipse cx="210" cy="194" rx="1.36" ry="0.84" fill="#8c1c06"/>
<ellipse cx="212.3" cy="192.1" rx="1.80" ry="1.23" fill="#ee7a2c" opacity="0.85"/>
<ellipse cx="212.3" cy="192.1" rx="1.22" ry="0.76" fill="#8c1c06"/>
<ellipse cx="215" cy="194.4" rx="2.00" ry="1.37" fill="#ee7a2c" opacity="0.85"/>
<ellipse cx="215" cy="194.4" rx="1.36" ry="0.84" fill="#8c1c06"/>
<ellipse cx="217.4" cy="190.7" rx="1.80" ry="1.23" fill="#ee7a2c" opacity="0.85"/>
<ellipse cx="217.4" cy="190.7" rx="1.22" ry="0.76" fill="#8c1c06"/>
<ellipse cx="218.8" cy="187.8" rx="1.60" ry="1.09" fill="#ee7a2c" opacity="0.85"/>
<ellipse cx="218.8" cy="187.8" rx="1.09" ry="0.67" fill="#8c1c06"/>
<ellipse cx="221.1" cy="193.5" rx="1.80" ry="1.23" fill="#ee7a2c" opacity="0.85"/>
<ellipse cx="221.1" cy="193.5" rx="1.22" ry="0.76" fill="#8c1c06"/>
<ellipse cx="224.8" cy="188.9" rx="1.80" ry="1.23" fill="#ee7a2c" opacity="0.85"/>
<ellipse cx="224.8" cy="188.9" rx="1.22" ry="0.76" fill="#8c1c06"/>
<ellipse cx="229" cy="188.2" rx="1.80" ry="1.23" fill="#ee7a2c" opacity="0.85"/>
<ellipse cx="229" cy="188.2" rx="1.22" ry="0.76" fill="#8c1c06"/>
<ellipse cx="225.7" cy="193.5" rx="2.00" ry="1.37" fill="#ee7a2c" opacity="0.85"/>
<ellipse cx="225.7" cy="193.5" rx="1.36" ry="0.84" fill="#8c1c06"/>
<ellipse cx="229.5" cy="192.6" rx="2.00" ry="1.37" fill="#ee7a2c" opacity="0.85"/>
<ellipse cx="229.5" cy="192.6" rx="1.36" ry="0.84" fill="#8c1c06"/>
<ellipse cx="232.2" cy="191.6" rx="1.80" ry="1.23" fill="#ee7a2c" opacity="0.85"/>
<ellipse cx="232.2" cy="191.6" rx="1.22" ry="0.76" fill="#8c1c06"/>
<ellipse cx="233.2" cy="194.9" rx="1.60" ry="1.09" fill="#ee7a2c" opacity="0.85"/>
<ellipse cx="233.2" cy="194.9" rx="1.09" ry="0.67" fill="#8c1c06"/>
<ellipse cx="207.6" cy="197.2" rx="1.60" ry="1.09" fill="#ee7a2c" opacity="0.85"/>
<ellipse cx="207.6" cy="197.2" rx="1.09" ry="0.67" fill="#8c1c06"/>
<ellipse cx="205.8" cy="200" rx="1.60" ry="1.09" fill="#ee7a2c" opacity="0.85"/>
<ellipse cx="205.8" cy="200" rx="1.09" ry="0.67" fill="#8c1c06"/>
<ellipse cx="197.9" cy="190.7" rx="2.00" ry="1.37" fill="#ee7a2c" opacity="0.85"/>
<ellipse cx="197.9" cy="190.7" rx="1.36" ry="0.84" fill="#8c1c06"/>
<ellipse cx="201.6" cy="189.3" rx="2.00" ry="1.37" fill="#ee7a2c" opacity="0.85"/>
<ellipse cx="201.6" cy="189.3" rx="1.36" ry="0.84" fill="#8c1c06"/>
<ellipse cx="199.5" cy="191.5" rx="1.60" ry="1.09" fill="#ee7a2c" opacity="0.85"/>
<ellipse cx="199.5" cy="191.5" rx="1.09" ry="0.67" fill="#8c1c06"/>
<ellipse cx="203.5" cy="190.2" rx="1.60" ry="1.09" fill="#ee7a2c" opacity="0.85"/>
<ellipse cx="203.5" cy="190.2" rx="1.09" ry="0.67" fill="#8c1c06"/>
<ellipse cx="156.5" cy="189.0" rx="2.00" ry="1.37" fill="#ee7a2c" opacity="0.85"/>
<ellipse cx="156.5" cy="189.0" rx="1.36" ry="0.84" fill="#8c1c06"/>
<ellipse cx="159.5" cy="188.6" rx="1.80" ry="1.23" fill="#ee7a2c" opacity="0.85"/>
<ellipse cx="159.5" cy="188.6" rx="1.22" ry="0.76" fill="#8c1c06"/>
<ellipse cx="157.5" cy="191.5" rx="1.80" ry="1.23" fill="#ee7a2c" opacity="0.85"/>
<ellipse cx="157.5" cy="191.5" rx="1.22" ry="0.76" fill="#8c1c06"/>
<ellipse cx="160.5" cy="190.8" rx="1.60" ry="1.09" fill="#ee7a2c" opacity="0.85"/>
<ellipse cx="160.5" cy="190.8" rx="1.09" ry="0.67" fill="#8c1c06"/>
<ellipse cx="163.5" cy="188.3" rx="1.60" ry="1.09" fill="#ee7a2c" opacity="0.85"/>
<ellipse cx="163.5" cy="188.3" rx="1.09" ry="0.67" fill="#8c1c06"/>
<ellipse cx="166.5" cy="192.5" rx="1.60" ry="1.09" fill="#ee7a2c" opacity="0.85"/>
<ellipse cx="166.5" cy="192.5" rx="1.09" ry="0.67" fill="#8c1c06"/>
<ellipse cx="207.7" cy="208.3" rx="1.60" ry="1.09" fill="#ee7a2c" opacity="0.85"/>
<ellipse cx="207.7" cy="208.3" rx="1.09" ry="0.67" fill="#8c1c06"/>
<ellipse cx="203.3" cy="209.0" rx="1.60" ry="1.09" fill="#ee7a2c" opacity="0.85"/>
<ellipse cx="203.3" cy="209.0" rx="1.09" ry="0.67" fill="#8c1c06"/>
<ellipse cx="201.8" cy="212.7" rx="1.60" ry="1.09" fill="#ee7a2c" opacity="0.85"/>
<ellipse cx="201.8" cy="212.7" rx="1.09" ry="0.67" fill="#8c1c06"/>
<ellipse cx="219.5" cy="211.3" rx="1.60" ry="1.09" fill="#ee7a2c" opacity="0.85"/>
<ellipse cx="219.5" cy="211.3" rx="1.09" ry="0.67" fill="#8c1c06"/>
<ellipse cx="224.6" cy="212.0" rx="1.60" ry="1.09" fill="#ee7a2c" opacity="0.85"/>
<ellipse cx="224.6" cy="212.0" rx="1.09" ry="0.67" fill="#8c1c06"/>
<ellipse cx="221.7" cy="217.1" rx="2.20" ry="1.50" fill="#ee7a2c" opacity="0.85"/>
<ellipse cx="221.7" cy="217.1" rx="1.50" ry="0.92" fill="#8c1c06"/>
<ellipse cx="200.0" cy="215.5" rx="1.40" ry="0.96" fill="#ee7a2c" opacity="0.85"/>
<ellipse cx="200.0" cy="215.5" rx="0.95" ry="0.59" fill="#8c1c06"/>
<ellipse cx="167.2" cy="230.6" rx="2.40" ry="1.64" fill="#ee7a2c" opacity="0.85"/>
<ellipse cx="167.2" cy="230.6" rx="1.63" ry="1.01" fill="#8c1c06"/>
<ellipse cx="164.3" cy="232.1" rx="1.60" ry="1.09" fill="#ee7a2c" opacity="0.85"/>
<ellipse cx="164.3" cy="232.1" rx="1.09" ry="0.67" fill="#8c1c06"/>
<ellipse cx="162.1" cy="235.0" rx="1.60" ry="1.09" fill="#ee7a2c" opacity="0.85"/>
<ellipse cx="162.1" cy="235.0" rx="1.09" ry="0.67" fill="#8c1c06"/>
<ellipse cx="169.4" cy="235.0" rx="1.60" ry="1.09" fill="#ee7a2c" opacity="0.85"/>
<ellipse cx="169.4" cy="235.0" rx="1.09" ry="0.67" fill="#8c1c06"/>
<ellipse cx="159.9" cy="240.2" rx="1.60" ry="1.09" fill="#ee7a2c" opacity="0.85"/>
<ellipse cx="159.9" cy="240.2" rx="1.09" ry="0.67" fill="#8c1c06"/>
<ellipse cx="171.6" cy="242.4" rx="1.60" ry="1.09" fill="#ee7a2c" opacity="0.85"/>
<ellipse cx="171.6" cy="242.4" rx="1.09" ry="0.67" fill="#8c1c06"/>
<ellipse cx="158.4" cy="247.5" rx="2.00" ry="1.37" fill="#ee7a2c" opacity="0.85"/>
<ellipse cx="158.4" cy="247.5" rx="1.36" ry="0.84" fill="#8c1c06"/>
<ellipse cx="173.9" cy="251.2" rx="1.60" ry="1.09" fill="#ee7a2c" opacity="0.85"/>
<ellipse cx="173.9" cy="251.2" rx="1.09" ry="0.67" fill="#8c1c06"/>
<ellipse cx="168.0" cy="254.1" rx="1.60" ry="1.09" fill="#ee7a2c" opacity="0.85"/>
<ellipse cx="168.0" cy="254.1" rx="1.09" ry="0.67" fill="#8c1c06"/>
<ellipse cx="156.2" cy="256.4" rx="1.60" ry="1.09" fill="#ee7a2c" opacity="0.85"/>
<ellipse cx="156.2" cy="256.4" rx="1.09" ry="0.67" fill="#8c1c06"/>
<ellipse cx="165.8" cy="260.0" rx="1.60" ry="1.09" fill="#ee7a2c" opacity="0.85"/>
<ellipse cx="165.8" cy="260.0" rx="1.09" ry="0.67" fill="#8c1c06"/>
<ellipse cx="169.4" cy="258.6" rx="1.60" ry="1.09" fill="#ee7a2c" opacity="0.85"/>
<ellipse cx="169.4" cy="258.6" rx="1.09" ry="0.67" fill="#8c1c06"/>
<ellipse cx="175.3" cy="259.3" rx="1.60" ry="1.09" fill="#ee7a2c" opacity="0.85"/>
<ellipse cx="175.3" cy="259.3" rx="1.09" ry="0.67" fill="#8c1c06"/>
<ellipse cx="178.3" cy="224.7" rx="2.00" ry="1.37" fill="#ee7a2c" opacity="0.85"/>
<ellipse cx="178.3" cy="224.7" rx="1.36" ry="0.84" fill="#8c1c06"/>
<ellipse cx="187.1" cy="233.6" rx="1.60" ry="1.09" fill="#ee7a2c" opacity="0.85"/>
<ellipse cx="187.1" cy="233.6" rx="1.09" ry="0.67" fill="#8c1c06"/>
<ellipse cx="188.6" cy="235.8" rx="1.60" ry="1.09" fill="#ee7a2c" opacity="0.85"/>
<ellipse cx="188.6" cy="235.8" rx="1.09" ry="0.67" fill="#8c1c06"/>
<ellipse cx="184.9" cy="246.8" rx="1.60" ry="1.09" fill="#ee7a2c" opacity="0.85"/>
<ellipse cx="184.9" cy="246.8" rx="1.09" ry="0.67" fill="#8c1c06"/>
<ellipse cx="187.1" cy="250.5" rx="1.60" ry="1.09" fill="#ee7a2c" opacity="0.85"/>
<ellipse cx="187.1" cy="250.5" rx="1.09" ry="0.67" fill="#8c1c06"/>
<ellipse cx="183.4" cy="259.3" rx="1.60" ry="1.09" fill="#ee7a2c" opacity="0.85"/>
<ellipse cx="183.4" cy="259.3" rx="1.09" ry="0.67" fill="#8c1c06"/>
<ellipse cx="221.0" cy="241.6" rx="1.60" ry="1.09" fill="#ee7a2c" opacity="0.85"/>
<ellipse cx="221.0" cy="241.6" rx="1.09" ry="0.67" fill="#8c1c06"/>
<ellipse cx="223.9" cy="238.7" rx="2.00" ry="1.37" fill="#ee7a2c" opacity="0.85"/>
<ellipse cx="223.9" cy="238.7" rx="1.36" ry="0.84" fill="#8c1c06"/>
<ellipse cx="226.8" cy="238.0" rx="1.80" ry="1.23" fill="#ee7a2c" opacity="0.85"/>
<ellipse cx="226.8" cy="238.0" rx="1.22" ry="0.76" fill="#8c1c06"/>
<ellipse cx="229.0" cy="240.9" rx="1.60" ry="1.09" fill="#ee7a2c" opacity="0.85"/>
<ellipse cx="229.0" cy="240.9" rx="1.09" ry="0.67" fill="#8c1c06"/>
<ellipse cx="231.2" cy="246.8" rx="1.60" ry="1.09" fill="#ee7a2c" opacity="0.85"/>
<ellipse cx="231.2" cy="246.8" rx="1.09" ry="0.67" fill="#8c1c06"/>
<ellipse cx="199.6" cy="247.5" rx="1.60" ry="1.09" fill="#ee7a2c" opacity="0.85"/>
<ellipse cx="199.6" cy="247.5" rx="1.09" ry="0.67" fill="#8c1c06"/>
<ellipse cx="202.6" cy="246.1" rx="1.60" ry="1.09" fill="#ee7a2c" opacity="0.85"/>
<ellipse cx="202.6" cy="246.1" rx="1.09" ry="0.67" fill="#8c1c06"/>
<ellipse cx="205.5" cy="243.9" rx="1.60" ry="1.09" fill="#ee7a2c" opacity="0.85"/>
<ellipse cx="205.5" cy="243.9" rx="1.09" ry="0.67" fill="#8c1c06"/>
<ellipse cx="207.7" cy="247.5" rx="1.60" ry="1.09" fill="#ee7a2c" opacity="0.85"/>
<ellipse cx="207.7" cy="247.5" rx="1.09" ry="0.67" fill="#8c1c06"/>
<ellipse cx="201.8" cy="254.1" rx="1.60" ry="1.09" fill="#ee7a2c" opacity="0.85"/>
<ellipse cx="201.8" cy="254.1" rx="1.09" ry="0.67" fill="#8c1c06"/>
<ellipse cx="204.0" cy="254.9" rx="1.60" ry="1.09" fill="#ee7a2c" opacity="0.85"/>
<ellipse cx="204.0" cy="254.9" rx="1.09" ry="0.67" fill="#8c1c06"/>
<ellipse cx="209.9" cy="257.8" rx="1.60" ry="1.09" fill="#ee7a2c" opacity="0.85"/>
<ellipse cx="209.9" cy="257.8" rx="1.09" ry="0.67" fill="#8c1c06"/>
<ellipse cx="213.6" cy="256.4" rx="1.60" ry="1.09" fill="#ee7a2c" opacity="0.85"/>
<ellipse cx="213.6" cy="256.4" rx="1.09" ry="0.67" fill="#8c1c06"/>
<ellipse cx="217.3" cy="255.6" rx="1.60" ry="1.09" fill="#ee7a2c" opacity="0.85"/>
<ellipse cx="217.3" cy="255.6" rx="1.09" ry="0.67" fill="#8c1c06"/>
<ellipse cx="219.5" cy="246.8" rx="1.60" ry="1.09" fill="#ee7a2c" opacity="0.85"/>
<ellipse cx="219.5" cy="246.8" rx="1.09" ry="0.67" fill="#8c1c06"/>
<ellipse cx="219.5" cy="251.2" rx="1.80" ry="1.23" fill="#ee7a2c" opacity="0.85"/>
<ellipse cx="219.5" cy="251.2" rx="1.22" ry="0.76" fill="#8c1c06"/>
<ellipse cx="223.1" cy="259.3" rx="1.60" ry="1.09" fill="#ee7a2c" opacity="0.85"/>
<ellipse cx="223.1" cy="259.3" rx="1.09" ry="0.67" fill="#8c1c06"/>
<ellipse cx="211.5" cy="260.5" rx="1.40" ry="0.96" fill="#ee7a2c" opacity="0.85"/>
<ellipse cx="211.5" cy="260.5" rx="0.95" ry="0.59" fill="#8c1c06"/>
<ellipse cx="232.7" cy="256.4" rx="1.60" ry="1.09" fill="#ee7a2c" opacity="0.85"/>
<ellipse cx="232.7" cy="256.4" rx="1.09" ry="0.67" fill="#8c1c06"/><path d="M155.10,192.90C155.65,192.83 157.35,192.68 158.40,192.50C159.45,192.32 160.42,192.17 161.40,191.80C162.38,191.43 163.45,190.73 164.30,190.30C165.15,189.87 165.77,189.13 166.50,189.20C167.23,189.27 168.33,190.45 168.70,190.70" fill="none" stroke="#e85a1c" stroke-width="1.7" stroke-linecap="round" stroke-linejoin="round" opacity="0.85"/>
<path d="M155.10,192.90C155.65,192.83 157.35,192.68 158.40,192.50C159.45,192.32 160.42,192.17 161.40,191.80C162.38,191.43 163.45,190.73 164.30,190.30C165.15,189.87 165.77,189.13 166.50,189.20C167.23,189.27 168.33,190.45 168.70,190.70" fill="none" stroke="#3a0500" stroke-width="1.0" stroke-linecap="round" stroke-linejoin="round" stroke-dasharray="1.0 0.9"/>
<path d="M155.10,188.50C155.58,188.52 157.10,188.43 158.00,188.60C158.90,188.77 160.08,189.35 160.50,189.50" fill="none" stroke="#e85a1c" stroke-width="1.7" stroke-linecap="round" stroke-linejoin="round" opacity="0.85"/>
<path d="M155.10,188.50C155.58,188.52 157.10,188.43 158.00,188.60C158.90,188.77 160.08,189.35 160.50,189.50" fill="none" stroke="#3a0500" stroke-width="1.0" stroke-linecap="round" stroke-linejoin="round" stroke-dasharray="1.0 0.9"/>
<path d="M224.30,195.00C224.75,194.80 226.05,194.27 227.00,193.80C227.95,193.33 228.92,192.72 230.00,192.20C231.08,191.68 232.92,190.95 233.50,190.70" fill="none" stroke="#e85a1c" stroke-width="1.7" stroke-linecap="round" stroke-linejoin="round" opacity="0.85"/>
<path d="M224.30,195.00C224.75,194.80 226.05,194.27 227.00,193.80C227.95,193.33 228.92,192.72 230.00,192.20C231.08,191.68 232.92,190.95 233.50,190.70" fill="none" stroke="#3a0500" stroke-width="1.0" stroke-linecap="round" stroke-linejoin="round" stroke-dasharray="1.0 0.9"/>
<path d="M197.40,188.50C197.83,188.83 199.07,190.00 200.00,190.50C200.93,191.00 202.17,191.58 203.00,191.50C203.83,191.42 204.67,190.25 205.00,190.00" fill="none" stroke="#e85a1c" stroke-width="1.7" stroke-linecap="round" stroke-linejoin="round" opacity="0.85"/>
<path d="M197.40,188.50C197.83,188.83 199.07,190.00 200.00,190.50C200.93,191.00 202.17,191.58 203.00,191.50C203.83,191.42 204.67,190.25 205.00,190.00" fill="none" stroke="#3a0500" stroke-width="1.0" stroke-linecap="round" stroke-linejoin="round" stroke-dasharray="1.0 0.9"/><path d="M155.10,192.90C155.65,192.83 157.35,192.68 158.40,192.50C159.45,192.32 160.42,192.17 161.40,191.80C162.38,191.43 163.45,190.73 164.30,190.30C165.15,189.87 165.77,189.13 166.50,189.20C167.23,189.27 168.33,190.45 168.70,190.70" fill="none" stroke="#c8400e" stroke-width="2.6" stroke-linecap="round" stroke-linejoin="round"/>
<path d="M155.10,192.90C155.65,192.83 157.35,192.68 158.40,192.50C159.45,192.32 160.42,192.17 161.40,191.80C162.38,191.43 163.45,190.73 164.30,190.30C165.15,189.87 165.77,189.13 166.50,189.20C167.23,189.27 168.33,190.45 168.70,190.70" fill="none" stroke="#1a0000" stroke-width="1.8" stroke-linecap="round" stroke-linejoin="round"/><path d="M163.50,263.50C163.67,262.75 164.17,260.50 164.50,259.00C164.83,257.50 165.33,255.25 165.50,254.50" fill="none" stroke="#f07028" stroke-width="1.8" stroke-linecap="round" stroke-linejoin="round" stroke-dasharray="0.1 2.6"/><path d="M192.80,188.20C193.00,189.17 193.58,191.95 194.00,194.00C194.42,196.05 194.85,198.33 195.30,200.50C195.75,202.67 196.28,205.08 196.70,207.00C197.12,208.92 197.47,210.47 197.80,212.00C198.13,213.53 198.55,215.50 198.70,216.20" fill="none" stroke="#b8380e" stroke-width="0.65" stroke-linecap="round" stroke-linejoin="round"/>
<path d="M197.80,188.20C197.70,189.17 197.50,191.95 197.20,194.00C196.90,196.05 196.48,198.50 196.00,200.50C195.52,202.50 194.87,204.25 194.30,206.00C193.73,207.75 193.10,209.42 192.60,211.00C192.10,212.58 191.63,214.27 191.30,215.50C190.97,216.73 190.72,217.92 190.60,218.40" fill="none" stroke="#b8380e" stroke-width="0.65" stroke-linecap="round" stroke-linejoin="round"/><ellipse cx="190.6" cy="218.4" rx="1.80" ry="1.23" fill="#ee7a2c" opacity="0.85"/>
<ellipse cx="190.6" cy="218.4" rx="1.22" ry="0.76" fill="#8c1c06"/>
<ellipse cx="198.7" cy="216.2" rx="1.80" ry="1.23" fill="#ee7a2c" opacity="0.85"/>
<ellipse cx="198.7" cy="216.2" rx="1.22" ry="0.76" fill="#8c1c06"/>
<ellipse cx="189.1" cy="224.6" rx="2.00" ry="1.37" fill="#ee7a2c" opacity="0.85"/>
<ellipse cx="189.1" cy="224.6" rx="1.36" ry="0.84" fill="#8c1c06"/><path d="M187.80,223.60C188.08,224.08 188.88,225.35 189.50,226.50C190.12,227.65 190.92,228.92 191.50,230.50C192.08,232.08 192.50,234.08 193.00,236.00C193.50,237.92 194.02,239.83 194.50,242.00C194.98,244.17 195.42,246.37 195.90,249.00C196.38,251.63 196.98,255.50 197.40,257.80C197.82,260.10 198.23,261.97 198.40,262.80" fill="none" stroke="#8a2206" stroke-width="0.8" stroke-linecap="round" stroke-linejoin="round"/>
<path d="M188.60,223.20C188.92,223.63 189.88,224.67 190.50,225.80C191.12,226.93 191.75,228.30 192.30,230.00C192.85,231.70 193.32,234.00 193.80,236.00C194.28,238.00 194.73,239.83 195.20,242.00C195.67,244.17 196.13,246.50 196.60,249.00C197.07,251.50 197.57,254.70 198.00,257.00C198.43,259.30 199.00,261.83 199.20,262.80" fill="none" stroke="#8a2206" stroke-width="0.8" stroke-linecap="round" stroke-linejoin="round"/></g>
<g clip-path="url(#db2)"><path d="M250.00,188.80 L257.10,189.00 L261.50,189.40 L265.10,191.40 L265.90,192.90 L262.90,195.10 L257.10,197.30 L251.20,198.80 L247.50,201.00 L246.00,203.20 L245.30,206.10 L248.20,209.10 L249.00,211.30 L246.00,213.50 L246.80,216.40 L243.80,219.40 L240.10,221.60 L237.90,223.80 L239.60,227.60 L242.00,232.30 L244.30,236.90 L247.40,240.00 L248.90,241.50 L247.40,244.60 L248.90,247.70 L247.40,250.80 L249.70,255.40 L248.10,257.70 L248.90,260.80 L252.00,262.60" fill="none" stroke="#1a1a1a" stroke-width="0.85" stroke-linejoin="round" stroke-linecap="round"/>
<path d="M240.90,188.80 L241.60,191.40 L240.10,194.40 L239.40,197.30 L238.70,201.70 L238.70,209.10 L237.90,216.40 L237.90,222.30 L237.30,224.50 L237.30,232.30 L238.10,241.50 L238.90,250.80 L238.90,258.50 L239.60,262.60" fill="none" stroke="#f01a1a" stroke-width="0.85" stroke-linejoin="round" stroke-linecap="round"/>
<path d="M240.10,188.80 L240.90,191.40 L239.40,195.80 L238.70,201.70 L237.90,209.10 L238.70,216.40 L237.90,222.30 L237.30,224.50 L238.10,230.70 L238.90,238.40 L238.90,246.20 L239.60,253.90 L240.40,260.80 L241.00,262.60" fill="none" stroke="#1f9a1f" stroke-width="0.85" stroke-linejoin="round" stroke-linecap="round"/>
<path d="M241.60,188.80 L243.10,190.70 L243.80,192.90 L241.60,195.10 L240.10,198.80 L239.40,203.20 L239.40,209.10 L238.70,214.90 L237.90,220.80 L238.10,223.80 L238.90,227.60 L240.40,232.30 L242.00,236.90 L243.50,240.00 L245.00,244.60 L243.50,248.50 L242.70,252.30 L245.00,256.20 L243.50,259.30 L245.00,262.60" fill="none" stroke="#1a2cf0" stroke-width="0.85" stroke-linejoin="round" stroke-linecap="round"/></g>
<rect x="155.1" y="186.8" width="78.40" height="77.60" fill="none" stroke="#6a6a6a" stroke-width="0.8"/>
<rect x="236.8" y="186.8" width="32.50" height="77.60" fill="none" stroke="#6a6a6a" stroke-width="0.8"/>
<line x1="155.1" y1="186.80" x2="156.29999999999998" y2="186.80" stroke="#6a6a6a" stroke-width="0.5"/>
<line x1="233.5" y1="186.80" x2="232.3" y2="186.80" stroke="#6a6a6a" stroke-width="0.5"/>
<line x1="236.8" y1="186.80" x2="238.0" y2="186.80" stroke="#6a6a6a" stroke-width="0.5"/>
<line x1="155.1" y1="196.50" x2="156.29999999999998" y2="196.50" stroke="#6a6a6a" stroke-width="0.5"/>
<line x1="233.5" y1="196.50" x2="232.3" y2="196.50" stroke="#6a6a6a" stroke-width="0.5"/>
<line x1="236.8" y1="196.50" x2="238.0" y2="196.50" stroke="#6a6a6a" stroke-width="0.5"/>
<line x1="155.1" y1="206.20" x2="156.29999999999998" y2="206.20" stroke="#6a6a6a" stroke-width="0.5"/>
<line x1="233.5" y1="206.20" x2="232.3" y2="206.20" stroke="#6a6a6a" stroke-width="0.5"/>
<line x1="236.8" y1="206.20" x2="238.0" y2="206.20" stroke="#6a6a6a" stroke-width="0.5"/>
<line x1="155.1" y1="215.90" x2="156.29999999999998" y2="215.90" stroke="#6a6a6a" stroke-width="0.5"/>
<line x1="233.5" y1="215.90" x2="232.3" y2="215.90" stroke="#6a6a6a" stroke-width="0.5"/>
<line x1="236.8" y1="215.90" x2="238.0" y2="215.90" stroke="#6a6a6a" stroke-width="0.5"/>
<line x1="155.1" y1="225.60" x2="156.29999999999998" y2="225.60" stroke="#6a6a6a" stroke-width="0.5"/>
<line x1="233.5" y1="225.60" x2="232.3" y2="225.60" stroke="#6a6a6a" stroke-width="0.5"/>
<line x1="236.8" y1="225.60" x2="238.0" y2="225.60" stroke="#6a6a6a" stroke-width="0.5"/>
<line x1="155.1" y1="235.30" x2="156.29999999999998" y2="235.30" stroke="#6a6a6a" stroke-width="0.5"/>
<line x1="233.5" y1="235.30" x2="232.3" y2="235.30" stroke="#6a6a6a" stroke-width="0.5"/>
<line x1="236.8" y1="235.30" x2="238.0" y2="235.30" stroke="#6a6a6a" stroke-width="0.5"/>
<line x1="155.1" y1="245.00" x2="156.29999999999998" y2="245.00" stroke="#6a6a6a" stroke-width="0.5"/>
<line x1="233.5" y1="245.00" x2="232.3" y2="245.00" stroke="#6a6a6a" stroke-width="0.5"/>
<line x1="236.8" y1="245.00" x2="238.0" y2="245.00" stroke="#6a6a6a" stroke-width="0.5"/>
<line x1="155.1" y1="254.70" x2="156.29999999999998" y2="254.70" stroke="#6a6a6a" stroke-width="0.5"/>
<line x1="233.5" y1="254.70" x2="232.3" y2="254.70" stroke="#6a6a6a" stroke-width="0.5"/>
<line x1="236.8" y1="254.70" x2="238.0" y2="254.70" stroke="#6a6a6a" stroke-width="0.5"/>
<line x1="155.1" y1="264.40" x2="156.29999999999998" y2="264.40" stroke="#6a6a6a" stroke-width="0.5"/>
<line x1="233.5" y1="264.40" x2="232.3" y2="264.40" stroke="#6a6a6a" stroke-width="0.5"/>
<line x1="236.8" y1="264.40" x2="238.0" y2="264.40" stroke="#6a6a6a" stroke-width="0.5"/>
<text x="153.79999999999998" y="190.3" font-size="5.3" text-anchor="end" font-weight="normal" fill="#2a2a2a" class="t" >4</text>
<text x="153.79999999999998" y="208.1" font-size="5.3" text-anchor="end" font-weight="normal" fill="#2a2a2a" class="t" >2</text>
<text x="153.79999999999998" y="227.5" font-size="5.3" text-anchor="end" font-weight="normal" fill="#2a2a2a" class="t" >0</text>
<text x="153.79999999999998" y="246.9" font-size="5.3" text-anchor="end" font-weight="normal" fill="#2a2a2a" class="t" >&#8211;2</text>
<text x="153.79999999999998" y="266.29999999999995" font-size="5.3" text-anchor="end" font-weight="normal" fill="#2a2a2a" class="t" >&#8211;4</text>
<text transform="translate(144.70,221.10) rotate(-90)" font-size="5.2" text-anchor="middle" fill="#2a2a2a" class="t">E - E<tspan font-size="3.8" dy="1.2">F</tspan><tspan dy="-1.2"> (eV)</tspan></text>
<text x="155.5" y="270.2" font-size="5.3" text-anchor="middle" font-weight="normal" fill="#2a2a2a" class="t" >&#915;</text>
<text x="167.3" y="270.2" font-size="5.3" text-anchor="middle" font-weight="normal" fill="#2a2a2a" class="t" >&#923;</text>
<text x="178.6" y="270.2" font-size="5.3" text-anchor="middle" font-weight="normal" fill="#2a2a2a" class="t" >K</text>
<text x="198.2" y="270.2" font-size="5.3" text-anchor="middle" font-weight="normal" fill="#2a2a2a" class="t" >M</text>
<text x="233.2" y="270.2" font-size="5.3" text-anchor="middle" font-weight="normal" fill="#2a2a2a" class="t" >&#915;</text>
<text x="253.05" y="270.2" font-size="5.3" text-anchor="middle" font-weight="normal" fill="#2a2a2a" class="t" >DOS</text>
<line x1="239.12" y1="186.8" x2="239.12" y2="187.70000000000002" stroke="#6a6a6a" stroke-width="0.4"/>
<line x1="239.12" y1="264.4" x2="239.12" y2="263.5" stroke="#6a6a6a" stroke-width="0.4"/>
<line x1="241.44" y1="186.8" x2="241.44" y2="187.70000000000002" stroke="#6a6a6a" stroke-width="0.4"/>
<line x1="241.44" y1="264.4" x2="241.44" y2="263.5" stroke="#6a6a6a" stroke-width="0.4"/>
<line x1="243.76" y1="186.8" x2="243.76" y2="187.70000000000002" stroke="#6a6a6a" stroke-width="0.4"/>
<line x1="243.76" y1="264.4" x2="243.76" y2="263.5" stroke="#6a6a6a" stroke-width="0.4"/>
<line x1="246.09" y1="186.8" x2="246.09" y2="187.70000000000002" stroke="#6a6a6a" stroke-width="0.4"/>
<line x1="246.09" y1="264.4" x2="246.09" y2="263.5" stroke="#6a6a6a" stroke-width="0.4"/>
<line x1="248.41" y1="186.8" x2="248.41" y2="187.70000000000002" stroke="#6a6a6a" stroke-width="0.4"/>
<line x1="248.41" y1="264.4" x2="248.41" y2="263.5" stroke="#6a6a6a" stroke-width="0.4"/>
<line x1="250.73" y1="186.8" x2="250.73" y2="187.70000000000002" stroke="#6a6a6a" stroke-width="0.4"/>
<line x1="250.73" y1="264.4" x2="250.73" y2="263.5" stroke="#6a6a6a" stroke-width="0.4"/>
<line x1="253.05" y1="186.8" x2="253.05" y2="187.70000000000002" stroke="#6a6a6a" stroke-width="0.4"/>
<line x1="253.05" y1="264.4" x2="253.05" y2="263.5" stroke="#6a6a6a" stroke-width="0.4"/>
<line x1="255.37" y1="186.8" x2="255.37" y2="187.70000000000002" stroke="#6a6a6a" stroke-width="0.4"/>
<line x1="255.37" y1="264.4" x2="255.37" y2="263.5" stroke="#6a6a6a" stroke-width="0.4"/>
<line x1="257.69" y1="186.8" x2="257.69" y2="187.70000000000002" stroke="#6a6a6a" stroke-width="0.4"/>
<line x1="257.69" y1="264.4" x2="257.69" y2="263.5" stroke="#6a6a6a" stroke-width="0.4"/>
<line x1="260.01" y1="186.8" x2="260.01" y2="187.70000000000002" stroke="#6a6a6a" stroke-width="0.4"/>
<line x1="260.01" y1="264.4" x2="260.01" y2="263.5" stroke="#6a6a6a" stroke-width="0.4"/>
<line x1="262.34" y1="186.8" x2="262.34" y2="187.70000000000002" stroke="#6a6a6a" stroke-width="0.4"/>
<line x1="262.34" y1="264.4" x2="262.34" y2="263.5" stroke="#6a6a6a" stroke-width="0.4"/>
<line x1="264.66" y1="186.8" x2="264.66" y2="187.70000000000002" stroke="#6a6a6a" stroke-width="0.4"/>
<line x1="264.66" y1="264.4" x2="264.66" y2="263.5" stroke="#6a6a6a" stroke-width="0.4"/>
<line x1="266.98" y1="186.8" x2="266.98" y2="187.70000000000002" stroke="#6a6a6a" stroke-width="0.4"/>
<line x1="266.98" y1="264.4" x2="266.98" y2="263.5" stroke="#6a6a6a" stroke-width="0.4"/>
<text x="232.7" y="224.3" font-size="5.3" text-anchor="end" font-weight="normal" fill="#2a2a2a" class="t" >77 GPa</text>
<line x1="293.0" y1="52.25" x2="370.5" y2="52.25" stroke="#d6d6d6" stroke-width="1.0"/>
<line x1="326.1" y1="14.5" x2="326.1" y2="90.0" stroke="#b4b4b4" stroke-width="0.8" stroke-dasharray="0.9 1.1"/>
<line x1="343.6" y1="14.5" x2="343.6" y2="90.0" stroke="#b4b4b4" stroke-width="0.8" stroke-dasharray="0.9 1.1"/>
<g clip-path="url(#cc0)"><path d="M293.20,29.60C294.00,29.08 296.20,27.77 298.00,26.50C299.80,25.23 302.00,23.38 304.00,22.00C306.00,20.62 308.42,19.17 310.00,18.20C311.58,17.23 312.33,16.80 313.50,16.20C314.67,15.60 316.42,14.87 317.00,14.60" fill="none" stroke="#a11d1f" stroke-width="1.05" stroke-linecap="round" stroke-linejoin="round"/>
<path d="M328.50,13.80C328.75,14.08 329.02,14.85 330.00,15.50C330.98,16.15 332.93,16.72 334.40,17.70C335.87,18.68 337.57,20.30 338.80,21.40C340.03,22.50 340.82,23.45 341.80,24.30C342.78,25.15 343.23,25.77 344.70,26.50C346.17,27.23 348.63,27.85 350.60,28.70C352.57,29.55 354.53,30.87 356.50,31.60C358.47,32.33 360.68,33.10 362.40,33.10C364.12,33.10 365.50,32.15 366.80,31.60C368.10,31.05 369.63,30.10 370.20,29.80" fill="none" stroke="#a11d1f" stroke-width="1.05" stroke-linecap="round" stroke-linejoin="round"/>
<path d="M293.20,28.80C294.00,29.00 296.45,29.55 298.00,30.00C299.55,30.45 301.17,31.07 302.50,31.50C303.83,31.93 304.82,32.68 306.00,32.60C307.18,32.52 308.43,31.47 309.60,31.00C310.77,30.53 311.77,30.20 313.00,29.80C314.23,29.40 315.53,29.17 317.00,28.60C318.47,28.03 320.27,27.07 321.80,26.40C323.33,25.73 324.83,24.70 326.20,24.60C327.57,24.50 328.78,25.02 330.00,25.80C331.22,26.58 332.13,28.33 333.50,29.30C334.87,30.27 336.62,31.02 338.20,31.60C339.78,32.18 341.03,32.37 343.00,32.80C344.97,33.23 347.83,33.87 350.00,34.20C352.17,34.53 354.17,34.90 356.00,34.80C357.83,34.70 359.33,34.23 361.00,33.60C362.67,32.97 364.47,31.67 366.00,31.00C367.53,30.33 369.50,29.83 370.20,29.60" fill="none" stroke="#a11d1f" stroke-width="1.05" stroke-linecap="round" stroke-linejoin="round"/>
<path d="M293.20,30.00C294.00,30.30 296.45,31.27 298.00,31.80C299.55,32.33 301.17,32.87 302.50,33.20C303.83,33.53 304.82,33.83 306.00,33.80C307.18,33.77 308.43,33.37 309.60,33.00C310.77,32.63 311.77,32.17 313.00,31.60C314.23,31.03 315.73,30.17 317.00,29.60C318.27,29.03 319.07,28.45 320.60,28.20C322.13,27.95 324.43,28.40 326.20,28.10C327.97,27.80 329.58,27.35 331.20,26.40C332.82,25.45 334.53,23.58 335.90,22.40C337.27,21.22 338.18,20.05 339.40,19.30C340.62,18.55 341.60,18.05 343.20,17.90C344.80,17.75 347.03,17.95 349.00,18.40C350.97,18.85 353.27,19.73 355.00,20.60C356.73,21.47 357.93,22.62 359.40,23.60C360.87,24.58 362.33,25.57 363.80,26.50C365.27,27.43 367.13,28.65 368.20,29.20C369.27,29.75 369.87,29.70 370.20,29.80" fill="none" stroke="#a11d1f" stroke-width="1.05" stroke-linecap="round" stroke-linejoin="round"/>
<path d="M293.20,30.60C294.00,30.93 296.45,32.03 298.00,32.60C299.55,33.17 301.17,33.63 302.50,34.00C303.83,34.37 304.82,34.77 306.00,34.80C307.18,34.83 308.43,34.58 309.60,34.20C310.77,33.82 311.77,33.12 313.00,32.50C314.23,31.88 315.73,31.08 317.00,30.50C318.27,29.92 320.00,29.25 320.60,29.00" fill="none" stroke="#a11d1f" stroke-width="1.05" stroke-linecap="round" stroke-linejoin="round"/>
<path d="M293.20,29.60C294.00,30.13 296.45,31.80 298.00,32.80C299.55,33.80 301.17,34.77 302.50,35.60C303.83,36.43 304.82,37.23 306.00,37.80C307.18,38.37 308.35,39.05 309.60,39.00C310.85,38.95 312.27,37.93 313.50,37.50C314.73,37.07 315.62,36.10 317.00,36.40C318.38,36.70 320.27,38.33 321.80,39.30C323.33,40.27 324.83,42.00 326.20,42.20C327.57,42.40 328.78,41.18 330.00,40.50C331.22,39.82 332.13,38.70 333.50,38.10C334.87,37.50 336.62,37.10 338.20,36.90C339.78,36.70 341.03,36.90 343.00,36.90C344.97,36.90 347.83,37.12 350.00,36.90C352.17,36.68 354.17,36.12 356.00,35.60C357.83,35.08 359.33,34.53 361.00,33.80C362.67,33.07 364.47,31.90 366.00,31.20C367.53,30.50 369.50,29.87 370.20,29.60" fill="none" stroke="#a11d1f" stroke-width="1.05" stroke-linecap="round" stroke-linejoin="round"/>
<path d="M293.20,56.30C294.00,56.50 296.18,56.67 298.00,57.50C299.82,58.33 302.08,60.17 304.10,61.30C306.12,62.43 308.35,63.80 310.10,64.30C311.85,64.80 313.08,64.67 314.60,64.30C316.12,63.93 317.68,62.98 319.20,62.10C320.72,61.22 322.50,59.77 323.70,59.00C324.90,58.23 325.35,57.62 326.40,57.50C327.45,57.38 328.40,57.78 330.00,58.30C331.60,58.82 333.73,59.72 336.00,60.60C338.27,61.48 340.95,62.85 343.60,63.60C346.25,64.35 349.65,65.23 351.90,65.10C354.15,64.97 355.22,63.68 357.10,62.80C358.98,61.92 361.43,60.68 363.20,59.80C364.97,58.92 366.53,58.00 367.70,57.50C368.87,57.00 369.78,56.92 370.20,56.80" fill="none" stroke="#a11d1f" stroke-width="1.05" stroke-linecap="round" stroke-linejoin="round"/>
<path d="M293.20,71.10C294.00,70.47 296.18,68.18 298.00,67.30C299.82,66.42 302.08,65.92 304.10,65.80C306.12,65.68 308.08,65.97 310.10,66.60C312.12,67.23 314.18,68.35 316.20,69.60C318.22,70.85 320.50,73.10 322.20,74.10C323.90,75.10 325.10,75.47 326.40,75.60C327.70,75.73 328.40,75.15 330.00,74.90C331.60,74.65 333.73,74.48 336.00,74.10C338.27,73.72 341.33,73.10 343.60,72.60C345.87,72.10 347.60,71.60 349.60,71.10C351.60,70.60 353.58,70.23 355.60,69.60C357.62,68.97 359.93,67.80 361.70,67.30C363.47,66.80 364.78,66.60 366.20,66.60C367.62,66.60 369.53,67.18 370.20,67.30" fill="none" stroke="#a11d1f" stroke-width="1.05" stroke-linecap="round" stroke-linejoin="round"/>
<path d="M293.20,71.90C293.75,72.40 295.18,73.65 296.50,74.90C297.82,76.15 299.58,77.77 301.10,79.40C302.62,81.03 304.35,83.07 305.60,84.70C306.85,86.33 307.95,88.15 308.60,89.20C309.25,90.25 309.35,90.70 309.50,91.00" fill="none" stroke="#a11d1f" stroke-width="1.05" stroke-linecap="round" stroke-linejoin="round"/>
<path d="M293.20,77.90C293.75,78.15 295.18,78.65 296.50,79.40C297.82,80.15 299.58,81.27 301.10,82.40C302.62,83.53 304.35,84.85 305.60,86.20C306.85,87.55 308.10,89.78 308.60,90.50" fill="none" stroke="#a11d1f" stroke-width="1.05" stroke-linecap="round" stroke-linejoin="round"/>
<path d="M293.20,82.40C294.00,81.90 296.18,80.40 298.00,79.40C299.82,78.40 302.33,76.90 304.10,76.40C305.87,75.90 307.10,75.90 308.60,76.40C310.10,76.90 311.58,78.15 313.10,79.40C314.62,80.65 316.18,82.52 317.70,83.90C319.22,85.28 320.70,86.93 322.20,87.70C323.70,88.47 325.07,88.75 326.70,88.50C328.33,88.25 330.45,86.75 332.00,86.20C333.55,85.65 334.83,85.20 336.00,85.20C337.17,85.20 338.50,86.03 339.00,86.20" fill="none" stroke="#a11d1f" stroke-width="1.05" stroke-linecap="round" stroke-linejoin="round"/>
<path d="M293.20,84.70C293.75,84.95 295.18,85.45 296.50,86.20C297.82,86.95 300.08,88.40 301.10,89.20C302.12,90.00 302.35,90.70 302.60,91.00" fill="none" stroke="#a11d1f" stroke-width="1.05" stroke-linecap="round" stroke-linejoin="round"/>
<path d="M319.20,87.00C320.40,86.62 324.27,85.12 326.40,84.70C328.53,84.28 329.90,84.25 332.00,84.50C334.10,84.75 336.57,86.30 339.00,86.20C341.43,86.10 344.08,84.78 346.60,83.90C349.12,83.02 351.58,82.15 354.10,80.90C356.62,79.65 359.43,77.78 361.70,76.40C363.97,75.02 366.28,73.60 367.70,72.60C369.12,71.60 369.78,70.77 370.20,70.40" fill="none" stroke="#a11d1f" stroke-width="1.05" stroke-linecap="round" stroke-linejoin="round"/>
<path d="M329.40,91.00C329.92,89.50 331.43,84.75 332.50,82.00C333.57,79.25 334.78,76.67 335.80,74.50C336.82,72.33 337.70,70.38 338.60,69.00C339.50,67.62 340.38,66.70 341.20,66.20C342.02,65.70 342.60,65.78 343.50,66.00C344.40,66.22 345.33,66.65 346.60,67.50C347.87,68.35 349.60,69.87 351.10,71.10C352.60,72.33 354.08,73.63 355.60,74.90C357.12,76.17 358.68,77.70 360.20,78.70C361.72,79.70 362.98,80.28 364.70,80.90C366.42,81.52 369.53,82.15 370.50,82.40" fill="none" stroke="#a11d1f" stroke-width="1.05" stroke-linecap="round" stroke-linejoin="round"/>
<path d="M358.70,91.00C359.70,89.95 362.78,86.75 364.70,84.70C366.62,82.65 369.28,79.70 370.20,78.70" fill="none" stroke="#a11d1f" stroke-width="1.05" stroke-linecap="round" stroke-linejoin="round"/>
<path d="M361.70,91.00C362.45,90.33 364.78,88.27 366.20,87.00C367.62,85.73 369.53,84.00 370.20,83.40" fill="none" stroke="#a11d1f" stroke-width="1.05" stroke-linecap="round" stroke-linejoin="round"/></g>
<g clip-path="url(#dc0)"><path d="M379.80,15.60 L384.20,15.80 L387.20,16.20 L383.50,17.70 L385.00,19.10 L381.30,20.60 L380.60,22.80 L384.20,25.00 L390.10,27.20 L394.50,29.40 L400.40,30.90 L404.80,31.60 L397.50,33.10 L387.20,34.60 L393.10,36.10 L400.40,36.80 L388.60,38.30 L382.80,39.70 L379.10,40.50 L376.90,41.20 L373.90,42.70 L373.40,43.40" fill="none" stroke="#1a1a1a" stroke-width="0.85" stroke-linejoin="round" stroke-linecap="round"/>
<path d="M373.40,54.60 L378.70,55.90 L385.70,56.90 L384.10,59.30 L385.70,61.60 L384.90,63.90 L386.50,65.40 L389.50,67.00 L384.90,69.30 L392.60,71.60 L398.80,73.20 L389.50,75.50 L386.50,77.80 L389.50,80.10 L392.60,81.70 L389.50,83.20 L395.70,84.70 L399.60,86.30 L389.50,87.80 L381.80,89.40 L380.00,90.20" fill="none" stroke="#1a1a1a" stroke-width="0.85" stroke-linejoin="round" stroke-linecap="round"/>
<path d="M376.10,15.60 L378.40,16.20 L379.10,17.70 L378.40,19.10 L379.10,21.40 L382.00,24.30 L385.00,27.20 L387.20,29.40 L390.10,30.90 L391.60,32.40 L382.80,34.60 L388.60,36.10 L396.70,36.80 L384.20,38.30 L379.80,39.70 L378.40,41.90 L374.70,43.40 L373.40,44.10" fill="none" stroke="#f01a1a" stroke-width="0.85" stroke-linejoin="round" stroke-linecap="round"/>
<path d="M373.40,54.60 L377.20,55.40 L381.80,56.20 L383.40,56.90 L381.00,58.50 L381.00,61.60 L378.00,64.70 L375.60,66.20 L378.00,67.80 L380.30,70.10 L381.80,72.40 L381.00,74.70 L379.50,77.00 L381.00,79.30 L383.40,81.70 L381.00,84.00 L383.40,85.50 L381.80,87.80 L378.00,89.40 L377.00,90.20" fill="none" stroke="#f01a1a" stroke-width="0.85" stroke-linejoin="round" stroke-linecap="round"/>
<path d="M375.40,15.60 L376.90,16.20 L377.60,18.40 L378.40,21.40 L379.10,24.30 L380.60,27.20 L381.30,30.20 L379.80,32.40 L377.60,34.60 L376.10,36.80 L374.70,39.00 L373.90,41.20 L373.50,43.40 L373.50,54.60" fill="none" stroke="#1a2cf0" stroke-width="0.85" stroke-linejoin="round" stroke-linecap="round"/>
<path d="M373.40,54.60 L374.10,56.90 L374.90,60.00 L377.20,63.90 L380.30,65.40 L382.60,67.00 L380.30,69.30 L381.00,70.80 L384.90,72.40 L381.80,74.70 L378.70,77.00 L378.00,79.30 L380.30,81.70 L382.60,83.20 L380.30,84.70 L376.40,87.10 L382.60,87.80 L378.70,89.40 L377.50,90.20" fill="none" stroke="#1a2cf0" stroke-width="0.85" stroke-linejoin="round" stroke-linecap="round"/></g>
<rect x="293.0" y="14.5" width="77.50" height="75.50" fill="none" stroke="#6a6a6a" stroke-width="0.8"/>
<rect x="373.3" y="14.5" width="32.20" height="75.50" fill="none" stroke="#6a6a6a" stroke-width="0.8"/>
<line x1="293.0" y1="14.50" x2="294.2" y2="14.50" stroke="#6a6a6a" stroke-width="0.5"/>
<line x1="370.5" y1="14.50" x2="369.3" y2="14.50" stroke="#6a6a6a" stroke-width="0.5"/>
<line x1="373.3" y1="14.50" x2="374.5" y2="14.50" stroke="#6a6a6a" stroke-width="0.5"/>
<line x1="293.0" y1="23.94" x2="294.2" y2="23.94" stroke="#6a6a6a" stroke-width="0.5"/>
<line x1="370.5" y1="23.94" x2="369.3" y2="23.94" stroke="#6a6a6a" stroke-width="0.5"/>
<line x1="373.3" y1="23.94" x2="374.5" y2="23.94" stroke="#6a6a6a" stroke-width="0.5"/>
<line x1="293.0" y1="33.38" x2="294.2" y2="33.38" stroke="#6a6a6a" stroke-width="0.5"/>
<line x1="370.5" y1="33.38" x2="369.3" y2="33.38" stroke="#6a6a6a" stroke-width="0.5"/>
<line x1="373.3" y1="33.38" x2="374.5" y2="33.38" stroke="#6a6a6a" stroke-width="0.5"/>
<line x1="293.0" y1="42.81" x2="294.2" y2="42.81" stroke="#6a6a6a" stroke-width="0.5"/>
<line x1="370.5" y1="42.81" x2="369.3" y2="42.81" stroke="#6a6a6a" stroke-width="0.5"/>
<line x1="373.3" y1="42.81" x2="374.5" y2="42.81" stroke="#6a6a6a" stroke-width="0.5"/>
<line x1="293.0" y1="52.25" x2="294.2" y2="52.25" stroke="#6a6a6a" stroke-width="0.5"/>
<line x1="370.5" y1="52.25" x2="369.3" y2="52.25" stroke="#6a6a6a" stroke-width="0.5"/>
<line x1="373.3" y1="52.25" x2="374.5" y2="52.25" stroke="#6a6a6a" stroke-width="0.5"/>
<line x1="293.0" y1="61.69" x2="294.2" y2="61.69" stroke="#6a6a6a" stroke-width="0.5"/>
<line x1="370.5" y1="61.69" x2="369.3" y2="61.69" stroke="#6a6a6a" stroke-width="0.5"/>
<line x1="373.3" y1="61.69" x2="374.5" y2="61.69" stroke="#6a6a6a" stroke-width="0.5"/>
<line x1="293.0" y1="71.12" x2="294.2" y2="71.12" stroke="#6a6a6a" stroke-width="0.5"/>
<line x1="370.5" y1="71.12" x2="369.3" y2="71.12" stroke="#6a6a6a" stroke-width="0.5"/>
<line x1="373.3" y1="71.12" x2="374.5" y2="71.12" stroke="#6a6a6a" stroke-width="0.5"/>
<line x1="293.0" y1="80.56" x2="294.2" y2="80.56" stroke="#6a6a6a" stroke-width="0.5"/>
<line x1="370.5" y1="80.56" x2="369.3" y2="80.56" stroke="#6a6a6a" stroke-width="0.5"/>
<line x1="373.3" y1="80.56" x2="374.5" y2="80.56" stroke="#6a6a6a" stroke-width="0.5"/>
<line x1="293.0" y1="90.00" x2="294.2" y2="90.00" stroke="#6a6a6a" stroke-width="0.5"/>
<line x1="370.5" y1="90.00" x2="369.3" y2="90.00" stroke="#6a6a6a" stroke-width="0.5"/>
<line x1="373.3" y1="90.00" x2="374.5" y2="90.00" stroke="#6a6a6a" stroke-width="0.5"/>
<text x="291.7" y="18.0" font-size="5.3" text-anchor="end" font-weight="normal" fill="#2a2a2a" class="t" >4</text>
<text x="291.7" y="35.275" font-size="5.3" text-anchor="end" font-weight="normal" fill="#2a2a2a" class="t" >2</text>
<text x="291.7" y="54.15" font-size="5.3" text-anchor="end" font-weight="normal" fill="#2a2a2a" class="t" >0</text>
<text x="291.7" y="73.025" font-size="5.3" text-anchor="end" font-weight="normal" fill="#2a2a2a" class="t" >&#8211;2</text>
<text x="291.7" y="91.9" font-size="5.3" text-anchor="end" font-weight="normal" fill="#2a2a2a" class="t" >&#8211;4</text>
<text transform="translate(282.60,47.75) rotate(-90)" font-size="5.2" text-anchor="middle" fill="#2a2a2a" class="t">E - E<tspan font-size="3.8" dy="1.2">F</tspan><tspan dy="-1.2"> (eV)</tspan></text>
<text x="293.4" y="95.8" font-size="5.3" text-anchor="middle" font-weight="normal" fill="#2a2a2a" class="t" >&#915;</text>
<text x="309.4" y="95.8" font-size="5.3" text-anchor="middle" font-weight="normal" fill="#2a2a2a" class="t" >&#923;</text>
<text x="326.1" y="95.8" font-size="5.3" text-anchor="middle" font-weight="normal" fill="#2a2a2a" class="t" >K</text>
<text x="343.5" y="95.8" font-size="5.3" text-anchor="middle" font-weight="normal" fill="#2a2a2a" class="t" >M</text>
<text x="370.2" y="95.8" font-size="5.3" text-anchor="middle" font-weight="normal" fill="#2a2a2a" class="t" >&#915;</text>
<text x="389.4" y="95.8" font-size="5.3" text-anchor="middle" font-weight="normal" fill="#2a2a2a" class="t" >DOS</text>
<line x1="375.60" y1="14.5" x2="375.60" y2="15.4" stroke="#6a6a6a" stroke-width="0.4"/>
<line x1="375.60" y1="90.0" x2="375.60" y2="89.1" stroke="#6a6a6a" stroke-width="0.4"/>
<line x1="377.90" y1="14.5" x2="377.90" y2="15.4" stroke="#6a6a6a" stroke-width="0.4"/>
<line x1="377.90" y1="90.0" x2="377.90" y2="89.1" stroke="#6a6a6a" stroke-width="0.4"/>
<line x1="380.20" y1="14.5" x2="380.20" y2="15.4" stroke="#6a6a6a" stroke-width="0.4"/>
<line x1="380.20" y1="90.0" x2="380.20" y2="89.1" stroke="#6a6a6a" stroke-width="0.4"/>
<line x1="382.50" y1="14.5" x2="382.50" y2="15.4" stroke="#6a6a6a" stroke-width="0.4"/>
<line x1="382.50" y1="90.0" x2="382.50" y2="89.1" stroke="#6a6a6a" stroke-width="0.4"/>
<line x1="384.80" y1="14.5" x2="384.80" y2="15.4" stroke="#6a6a6a" stroke-width="0.4"/>
<line x1="384.80" y1="90.0" x2="384.80" y2="89.1" stroke="#6a6a6a" stroke-width="0.4"/>
<line x1="387.10" y1="14.5" x2="387.10" y2="15.4" stroke="#6a6a6a" stroke-width="0.4"/>
<line x1="387.10" y1="90.0" x2="387.10" y2="89.1" stroke="#6a6a6a" stroke-width="0.4"/>
<line x1="389.40" y1="14.5" x2="389.40" y2="15.4" stroke="#6a6a6a" stroke-width="0.4"/>
<line x1="389.40" y1="90.0" x2="389.40" y2="89.1" stroke="#6a6a6a" stroke-width="0.4"/>
<line x1="391.70" y1="14.5" x2="391.70" y2="15.4" stroke="#6a6a6a" stroke-width="0.4"/>
<line x1="391.70" y1="90.0" x2="391.70" y2="89.1" stroke="#6a6a6a" stroke-width="0.4"/>
<line x1="394.00" y1="14.5" x2="394.00" y2="15.4" stroke="#6a6a6a" stroke-width="0.4"/>
<line x1="394.00" y1="90.0" x2="394.00" y2="89.1" stroke="#6a6a6a" stroke-width="0.4"/>
<line x1="396.30" y1="14.5" x2="396.30" y2="15.4" stroke="#6a6a6a" stroke-width="0.4"/>
<line x1="396.30" y1="90.0" x2="396.30" y2="89.1" stroke="#6a6a6a" stroke-width="0.4"/>
<line x1="398.60" y1="14.5" x2="398.60" y2="15.4" stroke="#6a6a6a" stroke-width="0.4"/>
<line x1="398.60" y1="90.0" x2="398.60" y2="89.1" stroke="#6a6a6a" stroke-width="0.4"/>
<line x1="400.90" y1="14.5" x2="400.90" y2="15.4" stroke="#6a6a6a" stroke-width="0.4"/>
<line x1="400.90" y1="90.0" x2="400.90" y2="89.1" stroke="#6a6a6a" stroke-width="0.4"/>
<line x1="403.20" y1="14.5" x2="403.20" y2="15.4" stroke="#6a6a6a" stroke-width="0.4"/>
<line x1="403.20" y1="90.0" x2="403.20" y2="89.1" stroke="#6a6a6a" stroke-width="0.4"/>
<text x="369.0" y="49.6" font-size="5.3" text-anchor="end" font-weight="normal" fill="#2a2a2a" class="t" >0 GPa</text>
<line x1="293.0" y1="139.65" x2="370.5" y2="139.65" stroke="#d6d6d6" stroke-width="1.0"/>
<line x1="326.1" y1="102.2" x2="326.1" y2="177.1" stroke="#b4b4b4" stroke-width="0.8" stroke-dasharray="0.9 1.1"/>
<line x1="343.6" y1="102.2" x2="343.6" y2="177.1" stroke="#b4b4b4" stroke-width="0.8" stroke-dasharray="0.9 1.1"/>
<g clip-path="url(#cc1)"><path d="M299.50,101.50C299.72,101.68 300.08,101.70 300.80,102.60C301.52,103.50 302.82,105.45 303.80,106.90C304.78,108.35 305.73,109.95 306.70,111.30C307.67,112.65 308.62,114.27 309.60,115.00C310.58,115.73 311.62,115.95 312.60,115.70C313.58,115.45 314.52,114.60 315.50,113.50C316.48,112.40 317.52,109.58 318.50,109.10C319.48,108.62 320.55,109.87 321.40,110.60C322.25,111.33 322.73,112.53 323.60,113.50C324.47,114.47 325.62,116.40 326.60,116.40C327.58,116.40 328.45,114.83 329.50,113.50C330.55,112.17 331.83,110.12 332.90,108.40C333.97,106.68 335.15,104.35 335.90,103.20C336.65,102.05 337.15,101.78 337.40,101.50" fill="none" stroke="#a11d1f" stroke-width="1.05" stroke-linecap="round" stroke-linejoin="round"/>
<path d="M301.00,101.80C301.22,101.98 301.63,102.57 302.30,102.90C302.97,103.23 304.13,103.68 305.00,103.80C305.87,103.92 306.60,103.83 307.50,103.60C308.40,103.37 309.73,102.75 310.40,102.40C311.07,102.05 311.32,101.65 311.50,101.50" fill="none" stroke="#a11d1f" stroke-width="1.05" stroke-linecap="round" stroke-linejoin="round"/>
<path d="M319.00,101.50C319.25,101.75 319.73,102.35 320.50,103.00C321.27,103.65 322.58,104.88 323.60,105.40C324.62,105.92 325.62,106.10 326.60,106.10C327.58,106.10 328.60,105.77 329.50,105.40C330.40,105.03 331.18,104.42 332.00,103.90C332.82,103.38 333.82,102.70 334.40,102.30C334.98,101.90 335.32,101.63 335.50,101.50" fill="none" stroke="#a11d1f" stroke-width="1.05" stroke-linecap="round" stroke-linejoin="round"/>
<path d="M343.50,101.50C343.70,101.67 343.77,101.97 344.70,102.50C345.63,103.03 347.97,103.82 349.10,104.70C350.23,105.58 350.77,106.95 351.50,107.80C352.23,108.65 352.67,109.22 353.50,109.80C354.33,110.38 355.52,111.53 356.50,111.30C357.48,111.07 358.42,109.63 359.40,108.40C360.38,107.17 361.53,105.05 362.40,103.90C363.27,102.75 364.23,101.90 364.60,101.50" fill="none" stroke="#a11d1f" stroke-width="1.05" stroke-linecap="round" stroke-linejoin="round"/>
<path d="M345.50,101.50C345.85,101.67 346.75,101.97 347.60,102.50C348.45,103.03 349.62,104.47 350.60,104.70C351.58,104.93 352.52,104.27 353.50,103.90C354.48,103.53 355.75,102.90 356.50,102.50C357.25,102.10 357.75,101.67 358.00,101.50" fill="none" stroke="#a11d1f" stroke-width="1.05" stroke-linecap="round" stroke-linejoin="round"/>
<path d="M293.20,144.20C294.00,144.20 296.32,144.02 298.00,144.20C299.68,144.38 301.72,144.62 303.30,145.30C304.88,145.98 306.12,147.30 307.50,148.30C308.88,149.30 310.42,150.80 311.60,151.30C312.78,151.80 313.33,151.67 314.60,151.30C315.87,150.93 317.68,149.98 319.20,149.10C320.72,148.22 322.20,146.72 323.70,146.00C325.20,145.28 326.82,144.97 328.20,144.80C329.58,144.63 330.70,144.80 332.00,145.00C333.30,145.20 334.75,145.87 336.00,146.00C337.25,146.13 338.37,146.05 339.50,145.80C340.63,145.55 341.80,144.38 342.80,144.50C343.80,144.62 344.62,145.73 345.50,146.50C346.38,147.27 346.92,147.53 348.10,149.10C349.28,150.67 351.22,153.90 352.60,155.90C353.98,157.90 355.27,159.22 356.40,161.10C357.53,162.98 358.40,165.18 359.40,167.20C360.40,169.22 361.52,171.40 362.40,173.20C363.28,175.00 364.32,177.20 364.70,178.00" fill="none" stroke="#a11d1f" stroke-width="1.05" stroke-linecap="round" stroke-linejoin="round"/>
<path d="M293.20,159.60C293.75,158.60 295.32,155.48 296.50,153.60C297.68,151.72 299.03,149.68 300.30,148.30C301.57,146.92 302.85,146.05 304.10,145.30C305.35,144.55 306.55,143.80 307.80,143.80C309.05,143.80 310.20,144.42 311.60,145.30C313.00,146.18 314.68,147.47 316.20,149.10C317.72,150.73 319.20,153.35 320.70,155.10C322.20,156.85 323.70,158.65 325.20,159.60C326.70,160.55 327.90,160.63 329.70,160.80C331.50,160.97 333.68,160.67 336.00,160.60C338.32,160.53 341.58,160.68 343.60,160.40C345.62,160.12 346.60,159.65 348.10,158.90C349.60,158.15 350.83,157.17 352.60,155.90C354.37,154.63 356.93,152.57 358.70,151.30C360.47,150.03 361.70,149.18 363.20,148.30C364.70,147.42 366.53,146.42 367.70,146.00C368.87,145.58 369.78,145.83 370.20,145.80" fill="none" stroke="#a11d1f" stroke-width="1.05" stroke-linecap="round" stroke-linejoin="round"/>
<path d="M343.30,145.00C343.75,145.42 345.08,146.50 346.00,147.50C346.92,148.50 347.70,149.48 348.80,151.00C349.90,152.52 351.33,154.68 352.60,156.60C353.87,158.52 355.30,160.52 356.40,162.50C357.50,164.48 358.35,166.67 359.20,168.50C360.05,170.33 360.83,171.92 361.50,173.50C362.17,175.08 362.92,177.25 363.20,178.00" fill="none" stroke="#a11d1f" stroke-width="1.05" stroke-linecap="round" stroke-linejoin="round"/>
<path d="M329.80,178.00C330.33,176.20 331.97,170.52 333.00,167.20C334.03,163.88 335.00,160.87 336.00,158.10C337.00,155.33 337.98,152.62 339.00,150.60C340.02,148.58 341.33,147.02 342.10,146.00C342.87,144.98 343.35,144.75 343.60,144.50" fill="none" stroke="#a11d1f" stroke-width="1.05" stroke-linecap="round" stroke-linejoin="round"/>
<path d="M358.70,178.00C359.45,176.95 361.70,173.63 363.20,171.70C364.70,169.77 366.53,167.58 367.70,166.40C368.87,165.22 369.78,164.90 370.20,164.60" fill="none" stroke="#a11d1f" stroke-width="1.05" stroke-linecap="round" stroke-linejoin="round"/>
<path d="M363.20,178.00C363.83,177.20 365.83,174.50 367.00,173.20C368.17,171.90 369.67,170.70 370.20,170.20" fill="none" stroke="#a11d1f" stroke-width="1.05" stroke-linecap="round" stroke-linejoin="round"/>
<path d="M293.50,163.40C294.00,164.03 295.50,165.57 296.50,167.20C297.50,168.83 298.62,171.40 299.50,173.20C300.38,175.00 301.42,177.20 301.80,178.00" fill="none" stroke="#a11d1f" stroke-width="1.05" stroke-linecap="round" stroke-linejoin="round"/>
<path d="M293.50,165.50C293.92,166.17 295.17,168.00 296.00,169.50C296.83,171.00 297.78,173.08 298.50,174.50C299.22,175.92 300.00,177.42 300.30,178.00" fill="none" stroke="#a11d1f" stroke-width="1.05" stroke-linecap="round" stroke-linejoin="round"/>
<path d="M301.80,178.00C302.18,176.95 303.22,173.50 304.10,171.70C304.98,169.90 306.22,168.08 307.10,167.20C307.98,166.32 308.65,166.28 309.40,166.40C310.15,166.52 310.85,166.77 311.60,167.90C312.35,169.03 313.13,171.52 313.90,173.20C314.67,174.88 315.82,177.20 316.20,178.00" fill="none" stroke="#a11d1f" stroke-width="1.05" stroke-linecap="round" stroke-linejoin="round"/>
<path d="M320.50,178.00C320.78,177.58 321.22,176.17 322.20,175.50C323.18,174.83 325.15,174.13 326.40,174.00C327.65,173.87 328.77,174.37 329.70,174.70C330.63,175.03 331.45,175.45 332.00,176.00C332.55,176.55 332.83,177.67 333.00,178.00" fill="none" stroke="#a11d1f" stroke-width="1.05" stroke-linecap="round" stroke-linejoin="round"/></g>
<g clip-path="url(#dc1)"><path d="M378.40,103.20 L385.70,102.80 L394.50,102.80 L390.10,103.90 L382.80,104.70 L379.80,106.10 L379.10,108.40 L380.60,110.60 L379.10,112.80 L379.80,114.20 L376.90,115.70 L374.70,117.20 L373.50,117.80" fill="none" stroke="#1a1a1a" stroke-width="0.85" stroke-linejoin="round" stroke-linecap="round"/>
<path d="M374.10,140.90 L377.20,142.40 L386.50,143.20 L401.90,143.90 L391.10,144.70 L384.90,146.30 L385.70,148.60 L382.60,150.10 L380.30,151.70 L379.50,154.00 L381.00,156.30 L386.50,158.60 L390.30,159.40 L383.40,160.90 L381.00,162.50 L379.50,164.80 L378.70,167.90 L379.50,170.20 L381.00,172.50 L382.60,174.10 L381.80,176.40 L381.50,177.00" fill="none" stroke="#1a1a1a" stroke-width="0.85" stroke-linejoin="round" stroke-linecap="round"/>
<path d="M377.60,103.20 L382.80,103.20 L388.60,103.20 L382.80,104.20 L378.40,106.10 L377.60,108.40 L378.40,110.60 L376.90,112.80 L377.60,115.00 L375.40,116.40 L373.50,117.50" fill="none" stroke="#f01a1a" stroke-width="0.85" stroke-linejoin="round" stroke-linecap="round"/>
<path d="M374.10,141.60 L378.00,142.40 L383.40,143.20 L388.80,143.90 L384.10,145.50 L380.30,147.00 L378.00,148.60 L377.20,150.90 L376.40,153.20 L375.60,156.30 L378.00,158.60 L382.60,159.40 L379.50,160.90 L377.20,162.50 L376.40,165.60 L377.20,168.70 L378.00,172.50 L378.00,175.60 L378.00,177.00" fill="none" stroke="#f01a1a" stroke-width="0.85" stroke-linejoin="round" stroke-linecap="round"/>
<path d="M376.10,103.20 L376.90,104.70 L376.10,106.90 L375.40,109.80 L375.40,112.80 L374.70,115.70 L373.60,117.20 L373.60,141.00" fill="none" stroke="#1a2cf0" stroke-width="0.85" stroke-linejoin="round" stroke-linecap="round"/>
<path d="M374.10,141.60 L378.00,142.40 L380.30,143.20 L383.40,143.90 L381.00,145.50 L378.70,147.00 L377.20,149.40 L377.20,151.70 L378.00,154.00 L377.20,156.30 L379.50,157.80 L382.60,158.60 L379.50,160.20 L378.00,162.50 L377.20,165.60 L378.00,168.70 L377.20,171.70 L378.00,174.80 L379.50,176.40 L379.50,177.00" fill="none" stroke="#1a2cf0" stroke-width="0.85" stroke-linejoin="round" stroke-linecap="round"/></g>
<rect x="293.0" y="102.2" width="77.50" height="74.90" fill="none" stroke="#6a6a6a" stroke-width="0.8"/>
<rect x="373.3" y="102.2" width="32.20" height="74.90" fill="none" stroke="#6a6a6a" stroke-width="0.8"/>
<line x1="293.0" y1="102.20" x2="294.2" y2="102.20" stroke="#6a6a6a" stroke-width="0.5"/>
<line x1="370.5" y1="102.20" x2="369.3" y2="102.20" stroke="#6a6a6a" stroke-width="0.5"/>
<line x1="373.3" y1="102.20" x2="374.5" y2="102.20" stroke="#6a6a6a" stroke-width="0.5"/>
<line x1="293.0" y1="111.56" x2="294.2" y2="111.56" stroke="#6a6a6a" stroke-width="0.5"/>
<line x1="370.5" y1="111.56" x2="369.3" y2="111.56" stroke="#6a6a6a" stroke-width="0.5"/>
<line x1="373.3" y1="111.56" x2="374.5" y2="111.56" stroke="#6a6a6a" stroke-width="0.5"/>
<line x1="293.0" y1="120.92" x2="294.2" y2="120.92" stroke="#6a6a6a" stroke-width="0.5"/>
<line x1="370.5" y1="120.92" x2="369.3" y2="120.92" stroke="#6a6a6a" stroke-width="0.5"/>
<line x1="373.3" y1="120.92" x2="374.5" y2="120.92" stroke="#6a6a6a" stroke-width="0.5"/>
<line x1="293.0" y1="130.29" x2="294.2" y2="130.29" stroke="#6a6a6a" stroke-width="0.5"/>
<line x1="370.5" y1="130.29" x2="369.3" y2="130.29" stroke="#6a6a6a" stroke-width="0.5"/>
<line x1="373.3" y1="130.29" x2="374.5" y2="130.29" stroke="#6a6a6a" stroke-width="0.5"/>
<line x1="293.0" y1="139.65" x2="294.2" y2="139.65" stroke="#6a6a6a" stroke-width="0.5"/>
<line x1="370.5" y1="139.65" x2="369.3" y2="139.65" stroke="#6a6a6a" stroke-width="0.5"/>
<line x1="373.3" y1="139.65" x2="374.5" y2="139.65" stroke="#6a6a6a" stroke-width="0.5"/>
<line x1="293.0" y1="149.01" x2="294.2" y2="149.01" stroke="#6a6a6a" stroke-width="0.5"/>
<line x1="370.5" y1="149.01" x2="369.3" y2="149.01" stroke="#6a6a6a" stroke-width="0.5"/>
<line x1="373.3" y1="149.01" x2="374.5" y2="149.01" stroke="#6a6a6a" stroke-width="0.5"/>
<line x1="293.0" y1="158.38" x2="294.2" y2="158.38" stroke="#6a6a6a" stroke-width="0.5"/>
<line x1="370.5" y1="158.38" x2="369.3" y2="158.38" stroke="#6a6a6a" stroke-width="0.5"/>
<line x1="373.3" y1="158.38" x2="374.5" y2="158.38" stroke="#6a6a6a" stroke-width="0.5"/>
<line x1="293.0" y1="167.74" x2="294.2" y2="167.74" stroke="#6a6a6a" stroke-width="0.5"/>
<line x1="370.5" y1="167.74" x2="369.3" y2="167.74" stroke="#6a6a6a" stroke-width="0.5"/>
<line x1="373.3" y1="167.74" x2="374.5" y2="167.74" stroke="#6a6a6a" stroke-width="0.5"/>
<line x1="293.0" y1="177.10" x2="294.2" y2="177.10" stroke="#6a6a6a" stroke-width="0.5"/>
<line x1="370.5" y1="177.10" x2="369.3" y2="177.10" stroke="#6a6a6a" stroke-width="0.5"/>
<line x1="373.3" y1="177.10" x2="374.5" y2="177.10" stroke="#6a6a6a" stroke-width="0.5"/>
<text x="291.7" y="105.7" font-size="5.3" text-anchor="end" font-weight="normal" fill="#2a2a2a" class="t" >4</text>
<text x="291.7" y="122.825" font-size="5.3" text-anchor="end" font-weight="normal" fill="#2a2a2a" class="t" >2</text>
<text x="291.7" y="141.55" font-size="5.3" text-anchor="end" font-weight="normal" fill="#2a2a2a" class="t" >0</text>
<text x="291.7" y="160.275" font-size="5.3" text-anchor="end" font-weight="normal" fill="#2a2a2a" class="t" >&#8211;2</text>
<text x="291.7" y="179.0" font-size="5.3" text-anchor="end" font-weight="normal" fill="#2a2a2a" class="t" >&#8211;4</text>
<text transform="translate(282.60,135.15) rotate(-90)" font-size="5.2" text-anchor="middle" fill="#2a2a2a" class="t">E - E<tspan font-size="3.8" dy="1.2">F</tspan><tspan dy="-1.2"> (eV)</tspan></text>
<text x="293.4" y="182.9" font-size="5.3" text-anchor="middle" font-weight="normal" fill="#2a2a2a" class="t" >&#915;</text>
<text x="309.4" y="182.9" font-size="5.3" text-anchor="middle" font-weight="normal" fill="#2a2a2a" class="t" >&#923;</text>
<text x="326.1" y="182.9" font-size="5.3" text-anchor="middle" font-weight="normal" fill="#2a2a2a" class="t" >K</text>
<text x="343.5" y="182.9" font-size="5.3" text-anchor="middle" font-weight="normal" fill="#2a2a2a" class="t" >M</text>
<text x="370.2" y="182.9" font-size="5.3" text-anchor="middle" font-weight="normal" fill="#2a2a2a" class="t" >&#915;</text>
<text x="389.4" y="182.9" font-size="5.3" text-anchor="middle" font-weight="normal" fill="#2a2a2a" class="t" >DOS</text>
<line x1="375.60" y1="102.2" x2="375.60" y2="103.10000000000001" stroke="#6a6a6a" stroke-width="0.4"/>
<line x1="375.60" y1="177.1" x2="375.60" y2="176.2" stroke="#6a6a6a" stroke-width="0.4"/>
<line x1="377.90" y1="102.2" x2="377.90" y2="103.10000000000001" stroke="#6a6a6a" stroke-width="0.4"/>
<line x1="377.90" y1="177.1" x2="377.90" y2="176.2" stroke="#6a6a6a" stroke-width="0.4"/>
<line x1="380.20" y1="102.2" x2="380.20" y2="103.10000000000001" stroke="#6a6a6a" stroke-width="0.4"/>
<line x1="380.20" y1="177.1" x2="380.20" y2="176.2" stroke="#6a6a6a" stroke-width="0.4"/>
<line x1="382.50" y1="102.2" x2="382.50" y2="103.10000000000001" stroke="#6a6a6a" stroke-width="0.4"/>
<line x1="382.50" y1="177.1" x2="382.50" y2="176.2" stroke="#6a6a6a" stroke-width="0.4"/>
<line x1="384.80" y1="102.2" x2="384.80" y2="103.10000000000001" stroke="#6a6a6a" stroke-width="0.4"/>
<line x1="384.80" y1="177.1" x2="384.80" y2="176.2" stroke="#6a6a6a" stroke-width="0.4"/>
<line x1="387.10" y1="102.2" x2="387.10" y2="103.10000000000001" stroke="#6a6a6a" stroke-width="0.4"/>
<line x1="387.10" y1="177.1" x2="387.10" y2="176.2" stroke="#6a6a6a" stroke-width="0.4"/>
<line x1="389.40" y1="102.2" x2="389.40" y2="103.10000000000001" stroke="#6a6a6a" stroke-width="0.4"/>
<line x1="389.40" y1="177.1" x2="389.40" y2="176.2" stroke="#6a6a6a" stroke-width="0.4"/>
<line x1="391.70" y1="102.2" x2="391.70" y2="103.10000000000001" stroke="#6a6a6a" stroke-width="0.4"/>
<line x1="391.70" y1="177.1" x2="391.70" y2="176.2" stroke="#6a6a6a" stroke-width="0.4"/>
<line x1="394.00" y1="102.2" x2="394.00" y2="103.10000000000001" stroke="#6a6a6a" stroke-width="0.4"/>
<line x1="394.00" y1="177.1" x2="394.00" y2="176.2" stroke="#6a6a6a" stroke-width="0.4"/>
<line x1="396.30" y1="102.2" x2="396.30" y2="103.10000000000001" stroke="#6a6a6a" stroke-width="0.4"/>
<line x1="396.30" y1="177.1" x2="396.30" y2="176.2" stroke="#6a6a6a" stroke-width="0.4"/>
<line x1="398.60" y1="102.2" x2="398.60" y2="103.10000000000001" stroke="#6a6a6a" stroke-width="0.4"/>
<line x1="398.60" y1="177.1" x2="398.60" y2="176.2" stroke="#6a6a6a" stroke-width="0.4"/>
<line x1="400.90" y1="102.2" x2="400.90" y2="103.10000000000001" stroke="#6a6a6a" stroke-width="0.4"/>
<line x1="400.90" y1="177.1" x2="400.90" y2="176.2" stroke="#6a6a6a" stroke-width="0.4"/>
<line x1="403.20" y1="102.2" x2="403.20" y2="103.10000000000001" stroke="#6a6a6a" stroke-width="0.4"/>
<line x1="403.20" y1="177.1" x2="403.20" y2="176.2" stroke="#6a6a6a" stroke-width="0.4"/>
<text x="369.6" y="137.8" font-size="5.3" text-anchor="end" font-weight="normal" fill="#2a2a2a" class="t" >22.3 GPa</text>
<line x1="293.0" y1="225.90" x2="370.5" y2="225.90" stroke="#d6d6d6" stroke-width="1.0"/>
<line x1="326.1" y1="188.5" x2="326.1" y2="263.3" stroke="#b4b4b4" stroke-width="0.8" stroke-dasharray="0.9 1.1"/>
<line x1="343.6" y1="188.5" x2="343.6" y2="263.3" stroke="#b4b4b4" stroke-width="0.8" stroke-dasharray="0.9 1.1"/>
<g clip-path="url(#cc2)"><path d="M293.50,200.20C294.23,199.72 296.43,198.27 297.90,197.30C299.37,196.33 301.08,195.27 302.30,194.40C303.52,193.53 304.22,192.60 305.20,192.10C306.18,191.60 307.22,191.27 308.20,191.40C309.18,191.53 310.25,192.28 311.10,192.90C311.95,193.52 312.93,194.73 313.30,195.10" fill="none" stroke="#a11d1f" stroke-width="1.05" stroke-linecap="round" stroke-linejoin="round"/>
<path d="M293.50,197.50C294.08,197.00 295.83,195.50 297.00,194.50C298.17,193.50 299.50,192.33 300.50,191.50C301.50,190.67 302.33,190.05 303.00,189.50C303.67,188.95 304.25,188.42 304.50,188.20" fill="none" stroke="#a11d1f" stroke-width="1.05" stroke-linecap="round" stroke-linejoin="round"/>
<path d="M293.50,192.90C293.98,192.42 295.57,190.77 296.40,190.00C297.23,189.23 298.15,188.58 298.50,188.30" fill="none" stroke="#a11d1f" stroke-width="1.05" stroke-linecap="round" stroke-linejoin="round"/>
<path d="M293.50,190.00C293.92,190.25 295.08,190.92 296.00,191.50C296.92,192.08 298.00,193.33 299.00,193.50C300.00,193.67 301.00,193.00 302.00,192.50C303.00,192.00 304.17,191.20 305.00,190.50C305.83,189.80 306.67,188.67 307.00,188.30" fill="none" stroke="#a11d1f" stroke-width="1.05" stroke-linecap="round" stroke-linejoin="round"/>
<path d="M296.00,188.30C296.50,188.50 297.92,189.05 299.00,189.50C300.08,189.95 301.48,190.57 302.50,191.00C303.52,191.43 304.05,192.03 305.10,192.10C306.15,192.17 307.68,191.63 308.80,191.40C309.92,191.17 311.07,191.18 311.80,190.70C312.53,190.22 312.97,188.87 313.20,188.50" fill="none" stroke="#a11d1f" stroke-width="1.05" stroke-linecap="round" stroke-linejoin="round"/>
<path d="M302.50,190.50C302.83,191.42 303.78,193.83 304.50,196.00C305.22,198.17 306.05,201.00 306.80,203.50C307.55,206.00 308.30,208.88 309.00,211.00C309.70,213.12 310.25,215.78 311.00,216.20C311.75,216.62 312.75,214.95 313.50,213.50C314.25,212.05 314.82,209.35 315.50,207.50C316.18,205.65 316.93,202.82 317.60,202.40C318.27,201.98 318.85,203.40 319.50,205.00C320.15,206.60 320.78,209.58 321.50,212.00C322.22,214.42 323.05,217.33 323.80,219.50C324.55,221.67 325.43,223.93 326.00,225.00C326.57,226.07 326.77,226.32 327.20,225.90C327.63,225.48 328.10,224.48 328.60,222.50C329.10,220.52 329.67,216.92 330.20,214.00C330.73,211.08 331.25,207.75 331.80,205.00C332.35,202.25 332.88,199.42 333.50,197.50C334.12,195.58 334.92,194.72 335.50,193.50C336.08,192.28 336.75,190.75 337.00,190.20" fill="none" stroke="#a11d1f" stroke-width="1.05" stroke-linecap="round" stroke-linejoin="round"/>
<path d="M303.80,190.00C304.10,191.00 305.00,194.05 305.60,196.00C306.20,197.95 306.85,200.12 307.40,201.70C307.95,203.28 308.28,205.25 308.90,205.50C309.52,205.75 310.37,204.65 311.10,203.20C311.83,201.75 312.43,197.53 313.30,196.80C314.17,196.07 315.32,197.73 316.30,198.80C317.28,199.87 318.35,201.47 319.20,203.20C320.05,204.93 320.67,207.65 321.40,209.20C322.13,210.75 322.75,211.78 323.60,212.50C324.45,213.22 325.57,214.33 326.50,213.50C327.43,212.67 328.23,209.82 329.20,207.50C330.17,205.18 331.38,201.70 332.30,199.60C333.22,197.50 333.78,195.82 334.70,194.90C335.62,193.98 336.75,194.63 337.80,194.10C338.85,193.57 340.07,192.68 341.00,191.70C341.93,190.72 343.00,188.78 343.40,188.20" fill="none" stroke="#a11d1f" stroke-width="1.05" stroke-linecap="round" stroke-linejoin="round"/>
<path d="M334.70,194.90C335.00,195.75 335.92,197.98 336.50,200.00C337.08,202.02 337.62,204.83 338.20,207.00C338.78,209.17 339.37,211.42 340.00,213.00C340.63,214.58 341.30,215.83 342.00,216.50C342.70,217.17 343.45,217.32 344.20,217.00C344.95,216.68 345.72,216.18 346.50,214.60C347.28,213.02 348.23,209.47 348.90,207.50C349.57,205.53 350.07,204.63 350.50,202.80C350.93,200.97 351.13,198.60 351.50,196.50C351.87,194.40 352.38,191.58 352.70,190.20C353.02,188.82 353.28,188.53 353.40,188.20" fill="none" stroke="#a11d1f" stroke-width="1.05" stroke-linecap="round" stroke-linejoin="round"/>
<path d="M341.80,188.20C342.20,189.05 343.42,191.40 344.20,193.30C344.98,195.20 345.72,197.75 346.50,199.60C347.28,201.45 348.10,202.28 348.90,204.40C349.70,206.52 350.52,209.93 351.30,212.30C352.08,214.67 352.95,217.15 353.60,218.60C354.25,220.05 354.53,221.00 355.20,221.00C355.87,221.00 356.80,220.05 357.60,218.60C358.40,217.15 359.35,214.40 360.00,212.30C360.65,210.20 360.98,208.12 361.50,206.00C362.02,203.88 362.43,201.32 363.10,199.60C363.77,197.88 364.57,196.48 365.50,195.70C366.43,194.92 367.92,194.93 368.70,194.90C369.48,194.87 369.95,195.40 370.20,195.50" fill="none" stroke="#a11d1f" stroke-width="1.05" stroke-linecap="round" stroke-linejoin="round"/>
<path d="M360.80,188.40C361.58,188.95 364.18,190.88 365.50,191.70C366.82,192.52 367.92,193.03 368.70,193.30C369.48,193.57 369.95,193.30 370.20,193.30" fill="none" stroke="#a11d1f" stroke-width="1.05" stroke-linecap="round" stroke-linejoin="round"/>
<path d="M364.50,188.40C365.00,188.63 366.55,189.43 367.50,189.80C368.45,190.17 369.75,190.47 370.20,190.60" fill="none" stroke="#a11d1f" stroke-width="1.05" stroke-linecap="round" stroke-linejoin="round"/>
<path d="M293.50,259.10C294.02,257.80 295.30,254.40 296.60,251.30C297.90,248.20 299.75,243.58 301.30,240.50C302.85,237.42 304.48,234.60 305.90,232.80C307.32,231.00 308.52,229.70 309.80,229.70C311.08,229.70 312.45,231.00 313.60,232.80C314.75,234.60 315.67,237.67 316.70,240.50C317.73,243.33 318.77,246.70 319.80,249.80C320.83,252.90 322.13,256.85 322.90,259.10C323.67,261.35 324.15,262.60 324.40,263.30" fill="none" stroke="#a11d1f" stroke-width="1.05" stroke-linecap="round" stroke-linejoin="round"/>
<path d="M302.80,263.50C303.17,263.17 304.23,262.23 305.00,261.50C305.77,260.77 306.65,260.02 307.40,259.10C308.15,258.18 308.85,256.90 309.50,256.00C310.15,255.10 310.62,253.45 311.30,253.70C311.98,253.95 312.83,255.90 313.60,257.50C314.37,259.10 315.52,262.33 315.90,263.30" fill="none" stroke="#a11d1f" stroke-width="1.05" stroke-linecap="round" stroke-linejoin="round"/>
<path d="M332.20,263.30C332.72,260.80 334.27,253.12 335.30,248.30C336.33,243.48 337.50,237.88 338.40,234.40C339.30,230.92 340.07,228.82 340.70,227.40C341.33,225.98 341.68,226.03 342.20,225.90C342.72,225.77 343.02,225.18 343.80,226.60C344.58,228.02 346.00,231.57 346.90,234.40C347.80,237.23 348.43,240.52 349.20,243.60C349.97,246.68 350.73,250.07 351.50,252.90C352.27,255.73 353.22,258.87 353.80,260.60C354.38,262.33 354.80,262.85 355.00,263.30" fill="none" stroke="#a11d1f" stroke-width="1.05" stroke-linecap="round" stroke-linejoin="round"/>
<path d="M334.50,263.30C335.02,260.80 336.70,252.87 337.60,248.30C338.50,243.73 339.25,239.25 339.90,235.90C340.55,232.55 341.02,229.82 341.50,228.20C341.98,226.58 342.30,226.32 342.80,226.20C343.30,226.08 343.72,226.13 344.50,227.50C345.28,228.87 346.62,231.72 347.50,234.40C348.38,237.08 349.03,240.52 349.80,243.60C350.57,246.68 351.33,250.07 352.10,252.90C352.87,255.73 353.83,258.87 354.40,260.60C354.97,262.33 355.32,262.85 355.50,263.30" fill="none" stroke="#a11d1f" stroke-width="1.05" stroke-linecap="round" stroke-linejoin="round"/>
<path d="M353.80,260.60C354.32,259.32 355.87,255.22 356.90,252.90C357.93,250.58 358.97,248.25 360.00,246.70C361.03,245.15 362.07,243.60 363.10,243.60C364.13,243.60 365.17,245.15 366.20,246.70C367.23,248.25 368.58,251.10 369.30,252.90C370.02,254.70 370.30,256.73 370.50,257.50" fill="none" stroke="#a11d1f" stroke-width="1.05" stroke-linecap="round" stroke-linejoin="round"/></g>
<g clip-path="url(#dc2)"><path d="M384.20,188.80 L393.10,189.20 L400.40,190.70 L405.30,192.10 L397.50,193.60 L390.10,194.40 L387.20,195.10 L385.70,198.00 L384.20,199.50 L381.30,201.00 L379.80,203.20 L380.60,206.10 L379.80,209.10 L380.60,212.00 L381.30,214.90 L379.80,217.90 L379.10,220.80 L379.80,223.80 L381.80,225.30 L380.30,227.60 L378.70,232.30 L377.20,236.90 L376.40,240.80 L378.70,243.10 L378.00,247.70 L378.70,252.30 L380.30,257.00 L382.60,261.60 L384.90,262.60" fill="none" stroke="#1a1a1a" stroke-width="0.85" stroke-linejoin="round" stroke-linecap="round"/>
<path d="M376.90,188.80 L378.40,189.90 L379.80,191.40 L382.80,192.90 L379.80,194.40 L377.60,195.80 L376.90,198.80 L376.10,203.20 L376.90,207.60 L376.10,212.00 L376.90,216.40 L376.10,220.80 L377.60,225.20 L378.00,226.10 L377.20,230.70 L376.40,235.40 L375.60,240.00 L377.20,244.60 L376.40,249.30 L377.20,253.90 L376.40,258.50 L378.00,262.40" fill="none" stroke="#f01a1a" stroke-width="0.85" stroke-linejoin="round" stroke-linecap="round"/>
<path d="M376.90,188.80 L379.10,190.70 L381.30,192.10 L383.50,192.90 L381.30,194.40 L378.40,195.80 L377.60,198.80 L377.60,203.20 L376.90,207.60 L377.60,212.00 L377.60,216.40 L376.90,220.80 L378.40,225.20 L377.20,226.10 L376.40,230.70 L375.60,235.40 L375.60,240.80 L377.20,243.80 L376.40,249.30 L377.20,253.90 L377.20,258.50 L378.70,262.40" fill="none" stroke="#1a2cf0" stroke-width="0.85" stroke-linejoin="round" stroke-linecap="round"/></g>
<rect x="293.0" y="188.5" width="77.50" height="74.80" fill="none" stroke="#6a6a6a" stroke-width="0.8"/>
<rect x="373.3" y="188.5" width="32.20" height="74.80" fill="none" stroke="#6a6a6a" stroke-width="0.8"/>
<line x1="293.0" y1="188.50" x2="294.2" y2="188.50" stroke="#6a6a6a" stroke-width="0.5"/>
<line x1="370.5" y1="188.50" x2="369.3" y2="188.50" stroke="#6a6a6a" stroke-width="0.5"/>
<line x1="373.3" y1="188.50" x2="374.5" y2="188.50" stroke="#6a6a6a" stroke-width="0.5"/>
<line x1="293.0" y1="197.85" x2="294.2" y2="197.85" stroke="#6a6a6a" stroke-width="0.5"/>
<line x1="370.5" y1="197.85" x2="369.3" y2="197.85" stroke="#6a6a6a" stroke-width="0.5"/>
<line x1="373.3" y1="197.85" x2="374.5" y2="197.85" stroke="#6a6a6a" stroke-width="0.5"/>
<line x1="293.0" y1="207.20" x2="294.2" y2="207.20" stroke="#6a6a6a" stroke-width="0.5"/>
<line x1="370.5" y1="207.20" x2="369.3" y2="207.20" stroke="#6a6a6a" stroke-width="0.5"/>
<line x1="373.3" y1="207.20" x2="374.5" y2="207.20" stroke="#6a6a6a" stroke-width="0.5"/>
<line x1="293.0" y1="216.55" x2="294.2" y2="216.55" stroke="#6a6a6a" stroke-width="0.5"/>
<line x1="370.5" y1="216.55" x2="369.3" y2="216.55" stroke="#6a6a6a" stroke-width="0.5"/>
<line x1="373.3" y1="216.55" x2="374.5" y2="216.55" stroke="#6a6a6a" stroke-width="0.5"/>
<line x1="293.0" y1="225.90" x2="294.2" y2="225.90" stroke="#6a6a6a" stroke-width="0.5"/>
<line x1="370.5" y1="225.90" x2="369.3" y2="225.90" stroke="#6a6a6a" stroke-width="0.5"/>
<line x1="373.3" y1="225.90" x2="374.5" y2="225.90" stroke="#6a6a6a" stroke-width="0.5"/>
<line x1="293.0" y1="235.25" x2="294.2" y2="235.25" stroke="#6a6a6a" stroke-width="0.5"/>
<line x1="370.5" y1="235.25" x2="369.3" y2="235.25" stroke="#6a6a6a" stroke-width="0.5"/>
<line x1="373.3" y1="235.25" x2="374.5" y2="235.25" stroke="#6a6a6a" stroke-width="0.5"/>
<line x1="293.0" y1="244.60" x2="294.2" y2="244.60" stroke="#6a6a6a" stroke-width="0.5"/>
<line x1="370.5" y1="244.60" x2="369.3" y2="244.60" stroke="#6a6a6a" stroke-width="0.5"/>
<line x1="373.3" y1="244.60" x2="374.5" y2="244.60" stroke="#6a6a6a" stroke-width="0.5"/>
<line x1="293.0" y1="253.95" x2="294.2" y2="253.95" stroke="#6a6a6a" stroke-width="0.5"/>
<line x1="370.5" y1="253.95" x2="369.3" y2="253.95" stroke="#6a6a6a" stroke-width="0.5"/>
<line x1="373.3" y1="253.95" x2="374.5" y2="253.95" stroke="#6a6a6a" stroke-width="0.5"/>
<line x1="293.0" y1="263.30" x2="294.2" y2="263.30" stroke="#6a6a6a" stroke-width="0.5"/>
<line x1="370.5" y1="263.30" x2="369.3" y2="263.30" stroke="#6a6a6a" stroke-width="0.5"/>
<line x1="373.3" y1="263.30" x2="374.5" y2="263.30" stroke="#6a6a6a" stroke-width="0.5"/>
<text x="291.7" y="192.0" font-size="5.3" text-anchor="end" font-weight="normal" fill="#2a2a2a" class="t" >4</text>
<text x="291.7" y="209.1" font-size="5.3" text-anchor="end" font-weight="normal" fill="#2a2a2a" class="t" >2</text>
<text x="291.7" y="227.8" font-size="5.3" text-anchor="end" font-weight="normal" fill="#2a2a2a" class="t" >0</text>
<text x="291.7" y="246.50000000000003" font-size="5.3" text-anchor="end" font-weight="normal" fill="#2a2a2a" class="t" >&#8211;2</text>
<text x="291.7" y="265.2" font-size="5.3" text-anchor="end" font-weight="normal" fill="#2a2a2a" class="t" >&#8211;4</text>
<text transform="translate(282.60,221.40) rotate(-90)" font-size="5.2" text-anchor="middle" fill="#2a2a2a" class="t">E - E<tspan font-size="3.8" dy="1.2">F</tspan><tspan dy="-1.2"> (eV)</tspan></text>
<text x="293.4" y="269.1" font-size="5.3" text-anchor="middle" font-weight="normal" fill="#2a2a2a" class="t" >&#915;</text>
<text x="309.4" y="269.1" font-size="5.3" text-anchor="middle" font-weight="normal" fill="#2a2a2a" class="t" >&#923;</text>
<text x="326.1" y="269.1" font-size="5.3" text-anchor="middle" font-weight="normal" fill="#2a2a2a" class="t" >K</text>
<text x="343.5" y="269.1" font-size="5.3" text-anchor="middle" font-weight="normal" fill="#2a2a2a" class="t" >M</text>
<text x="370.2" y="269.1" font-size="5.3" text-anchor="middle" font-weight="normal" fill="#2a2a2a" class="t" >&#915;</text>
<text x="389.4" y="269.1" font-size="5.3" text-anchor="middle" font-weight="normal" fill="#2a2a2a" class="t" >DOS</text>
<line x1="375.60" y1="188.5" x2="375.60" y2="189.4" stroke="#6a6a6a" stroke-width="0.4"/>
<line x1="375.60" y1="263.3" x2="375.60" y2="262.40000000000003" stroke="#6a6a6a" stroke-width="0.4"/>
<line x1="377.90" y1="188.5" x2="377.90" y2="189.4" stroke="#6a6a6a" stroke-width="0.4"/>
<line x1="377.90" y1="263.3" x2="377.90" y2="262.40000000000003" stroke="#6a6a6a" stroke-width="0.4"/>
<line x1="380.20" y1="188.5" x2="380.20" y2="189.4" stroke="#6a6a6a" stroke-width="0.4"/>
<line x1="380.20" y1="263.3" x2="380.20" y2="262.40000000000003" stroke="#6a6a6a" stroke-width="0.4"/>
<line x1="382.50" y1="188.5" x2="382.50" y2="189.4" stroke="#6a6a6a" stroke-width="0.4"/>
<line x1="382.50" y1="263.3" x2="382.50" y2="262.40000000000003" stroke="#6a6a6a" stroke-width="0.4"/>
<line x1="384.80" y1="188.5" x2="384.80" y2="189.4" stroke="#6a6a6a" stroke-width="0.4"/>
<line x1="384.80" y1="263.3" x2="384.80" y2="262.40000000000003" stroke="#6a6a6a" stroke-width="0.4"/>
<line x1="387.10" y1="188.5" x2="387.10" y2="189.4" stroke="#6a6a6a" stroke-width="0.4"/>
<line x1="387.10" y1="263.3" x2="387.10" y2="262.40000000000003" stroke="#6a6a6a" stroke-width="0.4"/>
<line x1="389.40" y1="188.5" x2="389.40" y2="189.4" stroke="#6a6a6a" stroke-width="0.4"/>
<line x1="389.40" y1="263.3" x2="389.40" y2="262.40000000000003" stroke="#6a6a6a" stroke-width="0.4"/>
<line x1="391.70" y1="188.5" x2="391.70" y2="189.4" stroke="#6a6a6a" stroke-width="0.4"/>
<line x1="391.70" y1="263.3" x2="391.70" y2="262.40000000000003" stroke="#6a6a6a" stroke-width="0.4"/>
<line x1="394.00" y1="188.5" x2="394.00" y2="189.4" stroke="#6a6a6a" stroke-width="0.4"/>
<line x1="394.00" y1="263.3" x2="394.00" y2="262.40000000000003" stroke="#6a6a6a" stroke-width="0.4"/>
<line x1="396.30" y1="188.5" x2="396.30" y2="189.4" stroke="#6a6a6a" stroke-width="0.4"/>
<line x1="396.30" y1="263.3" x2="396.30" y2="262.40000000000003" stroke="#6a6a6a" stroke-width="0.4"/>
<line x1="398.60" y1="188.5" x2="398.60" y2="189.4" stroke="#6a6a6a" stroke-width="0.4"/>
<line x1="398.60" y1="263.3" x2="398.60" y2="262.40000000000003" stroke="#6a6a6a" stroke-width="0.4"/>
<line x1="400.90" y1="188.5" x2="400.90" y2="189.4" stroke="#6a6a6a" stroke-width="0.4"/>
<line x1="400.90" y1="263.3" x2="400.90" y2="262.40000000000003" stroke="#6a6a6a" stroke-width="0.4"/>
<line x1="403.20" y1="188.5" x2="403.20" y2="189.4" stroke="#6a6a6a" stroke-width="0.4"/>
<line x1="403.20" y1="263.3" x2="403.20" y2="262.40000000000003" stroke="#6a6a6a" stroke-width="0.4"/>
<text x="369.6" y="231.0" font-size="5.3" text-anchor="end" font-weight="normal" fill="#2a2a2a" class="t" >67.9 GPa</text>
<line x1="52.10" y1="44.02" x2="52.10" y2="53.48" stroke="#1a8f1a" stroke-width="1.35"/>
<polygon points="52.10,41.30 50.20,44.70 54.00,44.70" fill="#1a8f1a"/>
<polygon points="52.10,56.20 50.20,52.80 54.00,52.80" fill="#1a8f1a"/>
<line x1="37.50" y1="123.70" x2="50.20" y2="141.10" stroke="#1a8f1a" stroke-width="1.35"/>
<polygon points="35.90,121.50 36.37,125.37 39.44,123.13" fill="#1a8f1a"/>
<polygon points="51.80,143.30 48.26,141.67 51.33,139.43" fill="#1a8f1a"/>
<line x1="178.80" y1="46.02" x2="178.80" y2="53.88" stroke="#1a8f1a" stroke-width="1.35"/>
<polygon points="178.80,43.30 176.90,46.70 180.70,46.70" fill="#1a8f1a"/>
<polygon points="178.80,56.60 176.90,53.20 180.70,53.20" fill="#1a8f1a"/>
<line x1="169.58" y1="120.54" x2="177.52" y2="141.16" stroke="#1a8f1a" stroke-width="1.35"/>
<polygon points="168.60,118.00 168.05,121.86 171.60,120.49" fill="#1a8f1a"/>
<polygon points="178.50,143.70 175.50,141.21 179.05,139.84" fill="#1a8f1a"/>
<line x1="326.40" y1="46.22" x2="326.40" y2="53.88" stroke="#1a8f1a" stroke-width="1.35"/>
<polygon points="326.40,43.50 324.50,46.90 328.30,46.90" fill="#1a8f1a"/>
<polygon points="326.40,56.60 324.50,53.20 328.30,53.20" fill="#1a8f1a"/>
<line x1="324.97" y1="119.55" x2="310.13" y2="141.25" stroke="#1a8f1a" stroke-width="1.35"/>
<polygon points="326.50,117.30 323.01,119.04 326.15,121.18" fill="#1a8f1a"/>
<polygon points="308.60,143.50 308.95,139.62 312.09,141.76" fill="#1a8f1a"/>
<line x1="106.0" y1="123.80" x2="111.9" y2="123.80" stroke="#333" stroke-width="0.95"/>
<text x="114.0" y="125.40" font-size="5.2" fill="#2a2a2a" class="t">Total</text>
<line x1="106.0" y1="128.90" x2="111.9" y2="128.90" stroke="#2ca02c" stroke-width="0.95"/>
<text x="114.0" y="130.50" font-size="5.2" fill="#2a2a2a" class="t">W</text>
<line x1="106.0" y1="133.60" x2="111.9" y2="133.60" stroke="#2233ee" stroke-width="0.95"/>
<text x="114.0" y="135.20" font-size="5.2" fill="#2a2a2a" class="t">S</text>
<line x1="240.1" y1="121.40" x2="245.4" y2="121.40" stroke="#333" stroke-width="0.95"/>
<text x="247.6" y="123.00" font-size="5.2" fill="#2a2a2a" class="t">Total</text>
<line x1="240.1" y1="126.40" x2="245.4" y2="126.40" stroke="#ee3333" stroke-width="0.95"/>
<text x="247.6" y="128.00" font-size="5.2" fill="#2a2a2a" class="t">Mo</text>
<line x1="240.1" y1="131.60" x2="245.4" y2="131.60" stroke="#2ca02c" stroke-width="0.95"/>
<text x="247.6" y="133.20" font-size="5.2" fill="#2a2a2a" class="t">W</text>
<line x1="240.1" y1="136.60" x2="245.4" y2="136.60" stroke="#2233ee" stroke-width="0.95"/>
<text x="247.6" y="138.20" font-size="5.2" fill="#2a2a2a" class="t">S</text>
<line x1="382.9" y1="122.70" x2="389.0" y2="122.70" stroke="#333" stroke-width="0.95"/>
<text x="392.6" y="124.30" font-size="5.2" fill="#2a2a2a" class="t">Total</text>
<line x1="382.9" y1="129.10" x2="389.0" y2="129.10" stroke="#ee3333" stroke-width="0.95"/>
<text x="392.6" y="130.70" font-size="5.2" fill="#2a2a2a" class="t">Mo</text>
<line x1="382.9" y1="135.40" x2="389.0" y2="135.40" stroke="#2233ee" stroke-width="0.95"/>
<text x="392.6" y="137.00" font-size="5.2" fill="#2a2a2a" class="t">S</text>
</svg>
</body></html>
